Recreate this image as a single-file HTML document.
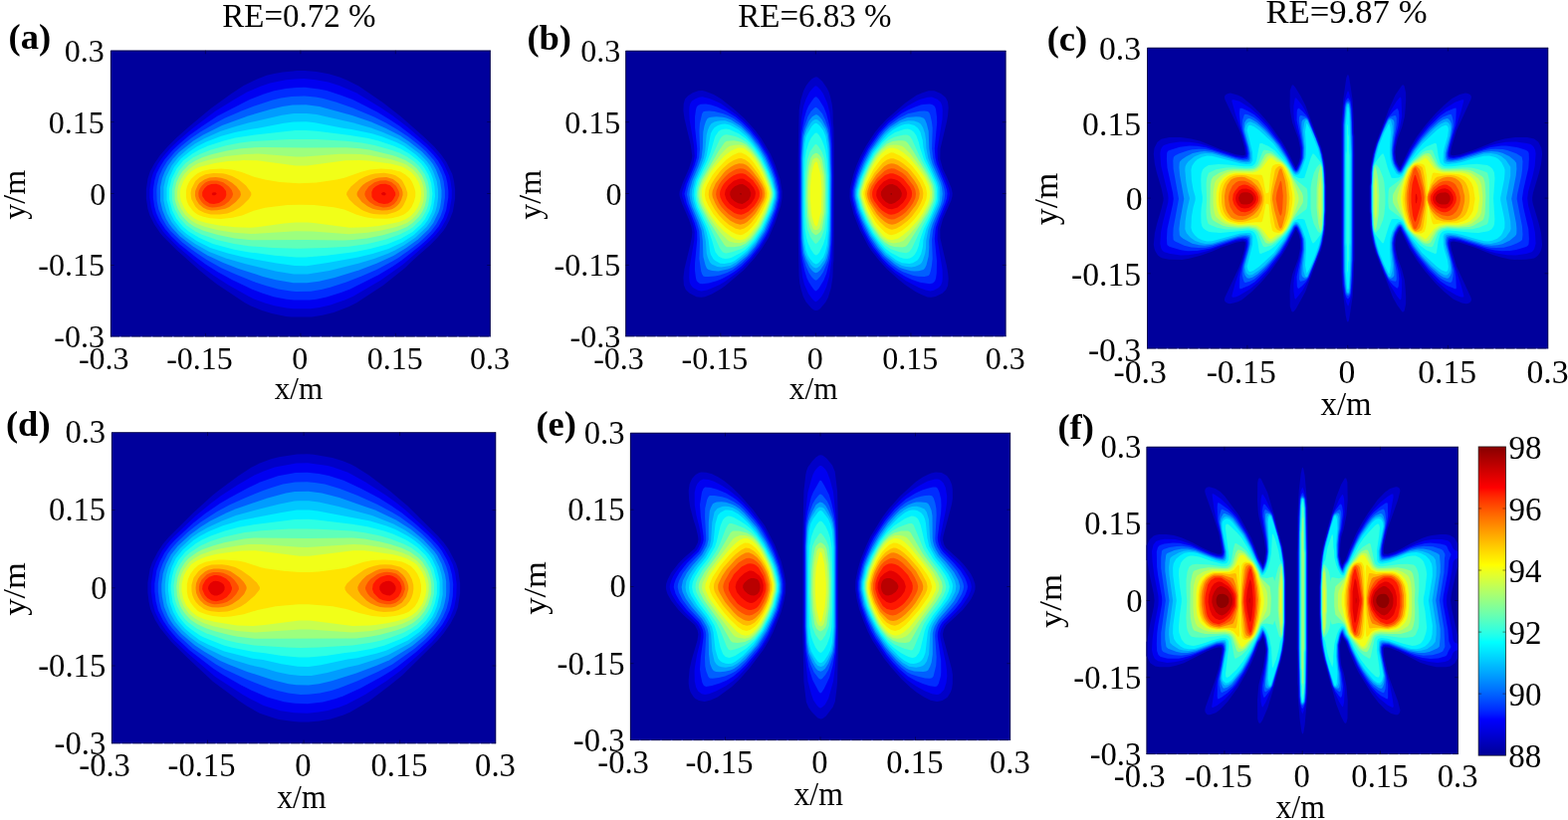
<!DOCTYPE html>
<html lang="en"><head><meta charset="utf-8"><title>Figure</title>
<style>
html,body{margin:0;padding:0;background:#fff;}
body{width:1575px;height:824px;overflow:hidden;}
svg{display:block;}
svg text{font-family:"Liberation Serif","Times New Roman",serif;fill:#000;}
</style></head><body>
<svg width="1575" height="824" viewBox="0 0 1575 824">
<rect width="1575" height="824" fill="#fff"/>
<g id="pa">
<rect x="111.00" y="50.70" width="381.70" height="287.70" fill="#00009c"/>
<path fill="#0000c8" d="M294.1,71.5 298.2,71 306.2,71 317.8,72 330.2,74.2 341.1,77.5 348.4,80.5 360.4,86.5 385.2,103.5 402.8,117.2 425.2,137 435.8,146.9 443.2,155.4 448.5,162.9 454.3,174.9 456,181.9 457.1,190.4 457.1,199.4 454.9,212.4 451.6,220.9 447.9,227.9 445.2,231.9 439.2,239 431.8,246.4 414.2,261.9 406.8,269.3 385.2,286.4 358.2,304.3 350.2,308.2 335.2,313.9 323.8,316.8 313.2,318.4 292.8,318.4 287.2,317.9 273.1,314.9 263.2,312.1 252.1,307.4 245.6,303.9 217.8,285.4 208.8,278.6 198.2,269.7 177.2,250.9 164.2,237.9 160.8,233.9 155,225.4 150.5,216.4 148.5,209.9 146.9,199.4 146.9,189.9 148.5,179.4 150.7,172.4 155,164.4 160.8,156 168.7,146.9 177.2,138.5 190.8,126.5 211.8,108.9 232.2,94.2 244.8,86.1 258.2,79.4 267.8,75.8 274.2,74.2 283.8,72.6Z"/>
<path fill="#0000f1" d="M296.5,79.5 305.2,79.1 317.2,80.3 329.8,82.5 340.8,86 357.8,93.3 382.2,108 394.8,116.6 409.8,128.1 429.9,145.4 437.5,153.4 442.4,159.4 446.2,165.5 451.2,176.4 452.7,182.9 453.8,191.4 453.7,198.9 451.3,212.4 448.2,220.5 443.4,228.9 437.4,236.4 430.2,243.6 404.8,265.8 382.2,281.8 354.8,297.7 346.8,301.2 331.8,306.4 320.8,309 311.8,310.2 294.8,310.3 287.8,309.6 275.8,307.2 266.2,304.5 255.2,300.4 248.8,297.2 229.2,286.2 214.2,276.6 200.2,266.2 179.2,248.4 167.6,236.9 163.7,232.4 157.8,223.7 153.8,215.4 151.8,208.4 150.3,198.5 150.3,190.4 152.1,179.4 154,173.4 158.2,165.4 163.3,157.9 171.2,148.7 178.8,141.4 192.8,129.5 216.2,111.8 236.1,99.5 248.2,92.6 261.8,86.7 271.2,83.4 287.2,80.3Z"/>
<path fill="#002cff" d="M297.5,88 306.2,87.8 320.2,89.4 328.2,91.1 341.8,95.4 354.2,100.1 378.8,112.6 391.2,120 401.2,126.6 416.2,137.9 428,147.9 435.2,155.4 440,161.4 444.1,168.4 447.9,177.4 449.3,183.4 450.4,191.9 450.3,198.4 448.2,210.9 445.3,218.9 440.6,227.4 435,234.4 428.1,241.4 421.8,247.1 403.2,261.8 394.8,267.5 380.2,276.3 351.8,290.5 343.2,293.8 328.2,298.5 317.8,300.7 310.8,301.5 295.2,301.6 287.8,300.8 274.8,298.2 263.2,294.6 252.2,290.3 232.8,280.9 218.8,273.3 206.8,265.7 196.2,258 180.5,245.4 172.2,237.4 165.8,229.9 160.5,221.9 156.9,213.9 155,206.9 153.8,198.4 153.8,190.4 155.2,181.4 157.2,174.6 160.8,167.4 165.2,160.4 173.3,150.9 180.8,143.9 190.2,136 202.8,126.9 218.2,116.7 250.8,99.9 265.8,94.2 275.2,91.2 287.2,89Z"/>
<path fill="#005fff" d="M292.8,97 305.8,96.5 316.8,97.5 323.8,98.8 337.2,102.6 353.8,108.2 375.8,117.5 387.2,123.3 398.8,129.9 410.2,137.5 419.8,144.9 427.8,152 435.8,161 440.2,168 443.9,175.9 445.6,181.9 446.9,191.4 446.9,198.4 445.2,209.4 442.6,216.9 438.1,225.4 432.8,232.4 426.2,239 420.8,243.9 410.2,251.9 400.2,258.9 393.8,262.8 378.2,271 363.8,277.3 347.8,283.6 333.2,288.3 323.8,290.7 312.2,292.7 297.2,292.9 292.2,292.6 279.3,290.4 266.8,287 256.2,283.5 235.2,275.1 221.8,268.9 206.8,260.6 192.2,250.6 182.8,243.2 171.2,231.9 167,226.4 162.7,218.9 159.2,209.9 157.6,201.9 157.3,191.9 157.8,185.9 160,176.9 163.4,169.4 167.6,162.4 175.5,152.9 182.8,146.3 191.8,139.1 201.8,132.3 217.8,122.9 226.2,118.6 243.2,111.2 254.8,106.7 273.8,100.5 282.2,98.5Z"/>
<path fill="#009cff" d="M294,105.5 307.2,105.2 320.8,106.9 353.8,115.9 372.8,122.5 387.2,128.8 401.8,136.3 411.2,142.5 423.9,152.4 431.5,160.4 434.9,164.9 437.9,170.4 441.9,180.9 443.5,191.4 443.5,197.9 442.9,202.9 442.1,207.9 440.6,212.9 435.3,223.9 430.4,230.4 420.2,240.3 408.2,249.1 395.2,257 378.8,264.6 361.2,271.2 336.2,278.9 320.2,282.7 308.2,284.3 294.8,284.2 277.2,281.3 264.2,277.9 238.8,269.7 224.2,264.1 208.2,256.6 193.8,247.6 180.8,237.4 172.9,228.9 169.8,224.9 166.6,219.4 163.3,211.4 161,201.9 161,187.9 163,178.9 165.3,172.9 168.8,166.4 173.8,159.5 179.8,153 194.2,141.5 204.2,135.4 223.2,125.9 249.2,116.4 272.2,109.7 283.8,106.9Z"/>
<path fill="#00c8ff" d="M295,114 308.2,113.9 317.8,115 354.2,123.3 371.8,128.2 384.2,132.7 399.8,139.5 408.2,144.5 421.5,154.4 428.8,161.9 432.1,166.4 435,171.9 438.7,181.9 440.1,191.4 440.1,198.4 439,206.4 437.6,211.4 436.3,214.9 432.5,222.4 428.5,227.9 417.2,238.7 405.8,246.5 397.2,251.3 389.8,254.7 375.8,260 360.8,264.6 330.8,271.9 308.8,275.6 295.2,275.6 276.8,272.6 245.8,265.1 233.8,261.6 226.2,259.2 210.2,253 195.9,244.9 185.8,237.7 179.1,231.4 172.3,222.9 167.9,214.4 165.7,207.4 164.4,201.4 164.4,187.9 166.8,177.9 172.4,166.4 179.1,157.9 188.8,149.6 196.2,144.2 205.2,139.3 221.2,132.1 234.2,127.7 250.2,123.3 283.2,115.7Z"/>
<path fill="#00f1ff" d="M295,122.5 307.8,122.2 316.2,123.3 345.8,128.9 353.2,129.9 373.8,134.3 384.2,137.6 398.2,142.9 405.8,146.8 417.2,154.9 425.4,162.4 429.6,167.9 432.9,174.4 434.8,179.4 436.5,187.4 437,197.4 435,209.4 433.6,213.4 429.9,220.9 426.2,226 415.8,236.1 404.3,243.4 390.3,249.9 374.2,255 359.8,258.5 329.2,264.1 307.8,267.2 296.2,267.1 277.8,264.6 245.2,258.6 228.8,254.6 211.2,249 197.8,242.2 187.2,235 181.6,229.9 174.9,221.4 171,213.9 167.5,200.9 167.5,188.9 169.9,178.4 174.9,167.9 181.8,159.3 190.8,152 197.8,147.2 207.2,142.5 222.2,136.8 235.8,133 251.2,129.9 258.2,129 285.2,123.8Z"/>
<path fill="#2cffe4" d="M296.6,130.9 306.8,130.9 318.2,131.8 351.8,135.9 370.2,139 380.2,141.6 395.8,146.7 402.8,149.8 411.2,154.6 419.2,160.7 423.1,164.4 426.2,168.5 430.5,175.9 433.1,183.9 434.4,194.4 433.3,204.9 431.2,211.9 426.7,220.4 422.7,225.4 414.5,232.9 402.8,239.7 388.8,245.4 371.8,250.1 355.8,253.2 328.2,256.7 306.8,258.6 297.2,258.6 275.8,256.7 248.8,253.2 235.2,250.7 213.8,244.9 199.8,238.8 189.8,232.8 184,227.9 177.2,219.7 173,211.4 170,199.9 170.1,189.4 172.5,179.4 177.5,169.4 184.2,161.3 192.8,154.8 200.1,150.4 209.2,146.5 224.8,141.4 236.2,138.6 252.8,135.9Z"/>
<path fill="#5fffb9" d="M290.5,139.9 317.8,140.1 347.8,141.8 363.2,143.6 376.2,146 393.2,150.8 400.8,153.6 408.8,157.5 416.2,162.6 421,166.9 426.6,174.9 429.6,181.9 431.1,188.9 431.6,196.9 430.3,205.4 428.8,209.9 426.9,213.9 424.2,218.4 421.8,221.5 414.8,228.3 411.2,230.7 401.2,235.7 387.8,240.6 376.8,243.3 368.2,245.2 350.2,247.7 326.8,249.1 299.2,249.8 273.8,248.9 249.8,247.2 235.2,245 217.8,241 202.2,235.4 195.8,232.2 187.3,226.5 180.2,218.7 175.8,210.4 174,205.4 172.8,199.9 172.8,190 175,180.9 179.9,171.4 186.2,164.1 194.2,158.3 201.8,154.4 211.2,150.8 227.2,146.2 241.2,143.6 253.2,142.1Z"/>
<path fill="#9cff7e" d="M252.7,148.4 263.8,148.1 305.8,148.6 347.8,148.2 361.8,149.2 371.2,150.6 395.8,156.4 407.2,160.9 414.2,165.4 418.8,169.4 424,176.4 427.2,183.9 428.7,191.9 428.5,199.4 426.8,207.1 424.3,212.4 420.6,217.9 414.8,223.8 408.8,227.9 399.2,232 384.8,236.2 368.8,239.4 354.8,241.1 344.8,241.4 308.2,241 252.8,241.3 235.8,239.5 227.2,237.8 218.8,236.1 204.2,231.7 195.2,227.7 189.6,223.9 183.2,217.4 178.7,209.9 176.8,205 175.6,200.4 175.4,191.4 177.1,183.4 180.1,176.9 183.4,171.9 189.8,165.5 196.2,161.4 203.2,158.3 212.2,155.3 227.8,151.5 242.2,149.3Z"/>
<path fill="#c8ff4e" d="M246.3,154.9 259.2,154.6 297.2,157.5 305.2,157.5 341.2,154.8 350.8,154.7 361.8,155.1 371.2,156.1 393.2,160.3 404.8,163.9 408.2,165.5 415.2,170.4 420,175.9 423.2,181.5 425.4,187.9 426,195.9 425.2,202.4 422.8,208.9 419,214.9 414.2,219.9 408.8,223.9 401.8,226.8 396.2,228.5 382.2,231.7 369.2,233.8 350.2,235.2 313.8,232.5 297.2,232.2 252.2,235.1 234.8,233.8 219.2,231.2 206.2,228 197.8,224.9 192.6,221.9 185.8,215.7 181.8,209.4 178.6,201.4 178.1,198.4 178.1,192.4 179.1,186.4 182.1,179.4 185.4,174.4 189.8,170 193.8,166.9 199.2,164.1 211.2,160.3 226.8,157Z"/>
<path fill="#f1ff18" d="M240.1,161.4 243.8,161.1 258.2,161.2 297.2,166.5 308.2,166.5 347.2,161.2 360.8,161.1 370.2,161.5 392.2,164.6 403.2,167.3 406,168.4 413,172.9 417,177.4 420.2,182.5 422.4,188.4 423.1,193.9 422.5,200.9 419.8,208 416.4,212.9 412.6,216.9 407.2,220.6 400.8,223 395.2,224.3 380.8,226.9 368.2,228.3 351.2,228.8 314.8,223.9 308.8,223.4 296.8,223.4 285.2,224.4 258.2,228.2 250.8,228.8 236.2,228.3 220.2,226.4 207.2,223.9 199.2,221.4 194.8,219.2 188.2,213.7 184.8,208.4 181.8,201.9 180.9,196.9 181,191.9 181.5,188.9 184.2,181.9 187.8,176.7 191.2,173.1 195.6,169.9 199.8,167.9 215.8,164 228.8,162Z"/>
<path fill="#ffe400" d="M214.6,169.9 222.2,169.6 233.2,170.6 242.8,173.1 255.2,177.8 266.2,180.6 281.2,182.9 300.2,184.2 317.8,183.4 338.2,180.5 345.8,178.8 362.8,172.7 371.2,170.5 382.8,169.5 393.2,170.2 402.2,172.6 407.2,175.4 411.8,179.5 414.2,183.5 416.2,188.4 417.3,192.9 417.2,197.4 415.9,202.4 413.4,207.9 410.3,211.9 407.3,214.4 404.8,215.9 399.8,217.8 393.2,219.2 387.8,219.8 375.8,219.5 367.2,218.2 358.2,215.7 345.8,210.6 335.2,208.3 315.2,205.9 300.8,205.7 288.8,205.9 266.2,208.8 254.8,211.7 243.2,216.6 233.2,218.8 221.8,219.9 211.2,219.3 204.2,217.8 199.2,216 196.1,213.9 193.5,211.4 189.7,206.4 187.8,202.4 186.9,197.9 186.9,191.9 187.8,187.4 189.9,182.9 191.9,179.9 195.8,176.2 198.9,173.9 203.8,171.8 210.8,170.3Z"/>
<path fill="#ffb900" d="M214.3,174 223.8,174.3 227.2,174.9 233.2,177.1 240.2,180.7 247.1,186.4 252.2,193.4 252.4,195.9 250,199.9 244.2,205.8 240.8,208.5 234.2,212.3 228.2,214.5 220.8,215.6 211.8,215.5 205.2,213.8 199.7,210.9 196.2,207.4 192.2,199.9 191.5,193.9 192.4,189.4 196.2,181.9 200.8,178.1 206.2,175.3ZM382.6,173.9 385.8,173.8 393.2,175 397.2,176.3 400.2,178.2 403.2,180.6 404.6,182.4 407.4,187.9 409.2,193.4 409.2,196.4 408,200.4 405.4,205.9 403.7,208.4 401,210.9 397.2,213.1 388.8,215.5 381.2,215.6 375.2,215 371.8,214.3 365.6,211.9 362.8,210.4 355.9,205.4 350.9,200.4 348,195.4 348.5,192.9 352.5,187.4 360.8,180.4 366.8,177.4 372.2,175.4 376.2,174.4Z"/>
<path fill="#ff7e00" d="M210.4,178.4 216.8,178 222.2,178.7 227.8,180.6 233.2,183.8 237.6,187.4 241.4,192.4 242,195.4 241.1,197.9 236.8,203.1 230.2,207.9 226.2,209.8 218.2,211.3 212.2,211.4 207.8,210.6 204.2,208.8 199.8,204.9 197,200.4 195.9,196.4 196.1,191.9 198.5,186.4 200.2,184.1 205.2,180.4ZM380.4,178.4 388.2,178.1 394.8,180.1 400.5,184.4 403.7,189.9 404.5,192.9 404.6,195.9 403,200.9 401.2,204.2 399.2,206.4 396.8,208.5 393.8,210.2 389.2,211.3 383.8,211.4 378.2,210.8 374.2,209.7 369.2,207.2 363.5,202.9 358.9,196.9 358.5,194.9 358.9,192.9 362,188.4 364.2,186.1 367.7,183.4 373.8,180.4 377.8,178.9Z"/>
<path fill="#ff4e00" d="M211.8,181.4 218.2,181.4 224.2,183.2 230,187.4 232.8,190.9 234.1,194.9 233.2,197.9 229.8,202.4 225.2,205.9 221.2,207.4 216.8,208.3 213.2,208.4 210.2,208 207.6,206.9 204.6,204.9 202.6,202.9 200.6,199.9 199.5,197.4 199.3,193.9 199.8,191.4 201.2,188.7 202.9,186.4 206.2,183.6 208.8,182.3ZM381.8,181.4 387.8,181.3 393.2,183 397.8,186.8 400.6,191.9 401.2,194.4 401.1,196.4 398.8,201.4 395.9,204.9 391.8,207.5 388.2,208.3 384.8,208.4 376.8,206.6 371.1,202.9 368.4,199.9 366.8,196.9 366.3,194.9 366.9,192.4 370.3,187.4 376.2,183.2Z"/>
<path fill="#ff1800" d="M212.3,184.9 217.2,184.7 221,185.9 224,187.9 227,191.9 227.3,195.9 226.3,198.9 223.2,202.1 219.9,203.9 214.8,205.1 210.7,204.4 206.2,201.4 203.2,197 203.2,192.9 205.2,189.6 208.3,186.4ZM382,184.9 387.2,184.8 391.8,186.2 394.6,188.9 397.1,193.4 397.3,195.9 395.2,200 393.2,202.4 389.8,204.4 385.8,205.1 380.6,203.9 375.7,200.9 373.5,197.9 373.3,192.9 374.8,189.5 377.8,186.9Z"/>
<path fill="#e40000" d="M213.6,193.4 216.2,193.3 217.3,193.9 217.6,194.9 215.8,196.3 213.8,196.3 212.6,194.9ZM384,193.4 385.2,193.1 386.8,193.5 387.7,194.4 387.6,195.4 386.2,196.5 383.9,195.9 382.9,194.4Z"/>
<path d="M111.30 338.40V51.00H492.70" fill="none" stroke="#000028" stroke-opacity="0.75" stroke-width="0.9"/>
<path d="M492.40 50.70V338.40" fill="none" stroke="#000028" stroke-opacity="0.7" stroke-width="0.9"/>
<path d="M111.00 338.10H492.70" fill="none" stroke="#000028" stroke-opacity="0.65" stroke-width="0.9" stroke-dasharray="9 1.6"/>
<path d="M206.4 50.7v3.5M206.4 338.4v-3.5M111.0 266.5h3.5M492.7 266.5h-3.5M301.9 50.7v3.5M301.9 338.4v-3.5M111.0 194.5h3.5M492.7 194.5h-3.5M397.3 50.7v3.5M397.3 338.4v-3.5M111.0 122.6h3.5M492.7 122.6h-3.5" fill="none" stroke="#000020" stroke-opacity="0.6" stroke-width="0.8"/>
<text x="54.22" y="349.41" font-size="32.00">-0.3</text>
<text x="78.88" y="370.50" font-size="32.00">-0.3</text>
<text x="38.22" y="277.49" font-size="32.00">-0.15</text>
<text x="167.20" y="370.50" font-size="32.00">-0.15</text>
<text x="90.15" y="205.69" font-size="32.00">0</text>
<text x="293.25" y="370.50" font-size="32.00">0</text>
<text x="48.85" y="133.64" font-size="32.00">0.15</text>
<text x="368.67" y="370.50" font-size="32.00">0.15</text>
<text x="64.85" y="61.71" font-size="32.00">0.3</text>
<text x="472.10" y="370.50" font-size="32.00">0.3</text>
<text transform="translate(275.77 401.20) scale(0.9750 1.0000)" font-size="32.00">x/m</text>
<text transform="translate(24.50 220.71) rotate(-90)" font-size="32.00">y/m</text>
<text x="223.24" y="27.20" font-size="33.00">RE=0.72 %</text>
<text x="8.57" y="49.00" font-size="36.50" font-weight="bold">(a)</text>
</g>
<g id="pb">
<rect x="628.30" y="50.90" width="382.10" height="287.30" fill="#00009c"/>
<path fill="#0000c8" d="M818.1,77.7 820,77.3 821.5,77.8 826,81.8 830.5,88.2 832.5,92.2 833.9,96.7 835.7,104.7 836.5,111.7 836.8,123.2 837.4,128.2 837.8,149.7 837.7,240.7 837.4,261.6 836.8,266.6 836.4,278.6 834.7,289.6 831.8,299.1 829.4,303.6 824,309.9 822,311.4 820,312 818,311.7 815.3,310.1 809.7,303.6 806.8,298.1 804.7,291.1 803.3,284.6 802.6,278.1 801.8,240.2 801.7,157.7 802.7,110.7 804.4,100.2 807.1,91.2 809.5,86.4 812.2,82.7 815.5,79.3ZM701.4,91.2 705.5,91.1 708.5,91.7 717,95.1 724.5,99.4 736.5,109 747.5,118.7 758.4,130.7 764.7,139.2 773.9,154.7 778.8,166.2 783.4,179.7 785.6,192.2 785.5,199.2 784.3,206.2 778.8,223.2 771.8,239.2 765,250.1 757.8,259.6 747.5,271 729,286.8 724.5,290 715,295.5 708,298.2 704.5,298.8 699.5,298.2 692.4,294.6 688.8,291.1 686.9,286.6 686.4,279.1 687.4,270.6 693.3,246.2 694.8,238.7 695.3,233.2 694.5,228.1 692,220.4 685.3,205.2 682.8,197.7 682.4,195.2 682.7,192.2 685.7,183.7 692,169.4 694.5,161.7 695.3,156.7 693.8,145.7 687.4,118.7 686.4,111.2 686.7,104.2 688.1,99.6 691.1,96.2 695.8,93.2ZM932.7,91.2 938.5,91.3 945,94 949.9,98.1 952,102.2 952.7,108.2 952.1,115.7 951,122.2 944.5,149.5 944.3,159.7 947,169.5 951.2,178.2 955.7,189.2 956.7,194.2 956.5,197.2 955.3,201.7 947,220.3 944.3,230.2 944.4,239.2 951,267.6 952.1,274.1 952.7,280.1 952.1,287.1 950.3,291.1 946.5,294.8 939.7,298.1 935.5,298.8 931.5,298.4 925.5,296 919.5,292.9 909,285.9 902.5,280.8 891,270.5 883.2,262.1 875.1,251.7 871.9,246.7 863.7,231.2 857.4,215.2 853.8,200.7 853.5,197.7 853.8,189.2 857.2,175.2 860.3,166.2 864.2,157.2 869.8,146.7 878.6,133.2 883.1,127.7 890.5,119.7 909,103.7 920.5,95.8 926.5,93.2Z"/>
<path fill="#0000f1" d="M818.3,86.7 819.5,86.2 821,86.9 824,90.1 826.9,94.2 831,103.6 833.2,112.2 835.4,127.7 835.8,134.2 836.6,173.7 836.5,232.2 835.4,262.1 833.1,277.6 830.2,288.1 827.3,294.6 825,298.2 821.5,302.1 819.5,303.2 818,302.5 815.6,300.1 812,295.1 808,285.9 806,278.2 803.7,255.2 803,231.2 803.1,149.7 803.7,134.7 805.2,117.7 807.1,106.7 809.5,99.7 813,92.8 815.8,89.2ZM702.1,97.7 705.5,97.3 712.5,99 717.5,100.9 724,104.1 740,115.4 748,122.4 754,128.7 762.3,139.2 772,155.2 777.2,167.2 781.3,179.2 782.7,184.7 783.9,192.7 783.8,199.2 782,208.2 777.2,222.2 772.2,234.2 763.6,248.7 755.2,259.6 746,269.2 739.5,274.8 728,283 722.5,286.2 714,290.1 710,291.4 704.5,292.5 701,291.7 696,289 693.9,286.6 692.7,283.6 692.3,279.1 692.6,269.1 697.4,240.7 697.8,233.2 696.4,226.2 694,219.2 687.7,204.7 685.3,197.2 685,194.7 685.3,192.7 688.1,184.2 694,170.7 696.4,163.7 697.8,156.7 697,146 692.6,120.2 692.3,111.2 692.6,106.7 693.5,103.7 695,101.6 698.5,99.2ZM931.8,97.7 936,97.4 941.5,99.7 944.9,102.7 946.3,106.2 946.8,110.7 946.6,119.2 941.6,149.7 941.9,160.2 944.9,170.2 949.2,179.2 953,189.2 954.1,194.7 952.9,201.2 944.8,220.2 942.4,227.2 941.9,230.2 941.6,240.2 946.6,271.1 946.8,279.1 946.4,283.1 945.2,286.6 943,289 938,291.7 934.5,292.5 930,291.6 923,289.1 910,282.2 898.5,273.9 890.5,266.9 884.7,260.6 876.9,250.7 873.3,245.2 865.3,230.2 859,214.2 855.5,200.2 855.2,197.2 855.2,191.2 856.4,185.7 859,175.7 862.1,166.7 865.8,158.2 871.1,148.2 881.3,133.2 891,122.4 904.5,111.2 911.5,106.4 920.5,101.5 924.5,99.7Z"/>
<path fill="#002cff" d="M819.5,97.2 820.7,97.7 822.5,99.8 827.5,107.7 830.1,114.2 833.7,128.2 835.2,144.2 835.8,177.7 835.4,240.2 833.9,260.1 830.1,275.1 827.5,281.6 822.5,289.7 820.9,291.6 819.5,292.4 818,291.5 815.5,288.3 812.5,283.6 810.5,279.5 808.3,272.6 806,262.1 804.7,253.2 804,240.2 803.8,201.2 803.8,158.2 804.2,143.7 805.2,132.7 807.7,119.2 810,111.2 812,106.7 814.5,102.7 818,98ZM703.7,104.7 709,104.6 714.5,105.6 720.5,107.5 729,111.4 739,117.6 746.5,123.7 752.5,129.7 761,140.3 770.8,156.2 776,168.2 779.8,178.7 781.9,187.2 782.7,193.2 782.5,199.2 780.4,208.7 775.9,221.7 771.2,232.7 768.6,237.7 762.3,247.7 754,258.3 744.5,267.8 738.4,272.6 732.5,276.3 725,280.2 720,282.2 712,284.4 705.5,285.3 703,284.9 700.9,283.6 699.7,282.1 698.9,279.1 697.9,271.1 698,264.6 700.3,240.7 700.1,232.7 697.8,224.2 689.8,204.2 687.5,194.7 689.9,185.2 697.6,166.2 699.9,158.2 700.3,149.2 698.1,128.2 698,117.7 698.9,110.7 699.7,107.7 701,106ZM930,104.7 934,104.4 936.8,105.2 939,107 940,109.7 941,117.2 941.2,123.2 938.8,149.2 939.5,158.2 940.8,164.2 949.7,186.2 951.1,190.7 951.6,194.7 951.1,199.2 949.5,204.2 943.2,219.2 939.9,228.7 938.8,239.7 941,262.1 940.8,274.6 940.1,279.6 939.1,282.6 937,284.5 934,285.3 924,283.7 916,280.9 909.5,277.9 899.5,271.7 892.5,266 886,259.5 876.9,247.7 872.2,240.2 867,230.2 860.2,213.7 856.8,200.2 856.4,197.2 856.5,191.2 857.7,185.7 860.4,175.7 863.5,167.2 867.3,158.7 872.3,149.2 883.1,133.7 892.5,123.7 905.5,114 912.5,110.2 919,107.5 925.5,105.3Z"/>
<path fill="#005fff" d="M819.5,107.7 821.5,108.9 826,114.2 828.9,120.2 832.4,130.2 834.2,144.2 835.1,177.2 834.8,231.7 834.2,245.7 833.3,254.7 831.9,261.7 827,273.3 824,277.8 821,280.9 819.5,281.7 818,281 815.5,278.4 812.5,274.2 809.5,267.4 806.5,257 805.6,250.7 804.8,240.2 804.5,208.7 804.6,158.7 805.9,136.2 807.8,127.7 811.5,117.1 814.5,112 818,108.4ZM708.5,111.7 712.5,111.4 717.5,111.9 726.5,114.2 731,115.9 737,119.1 744.5,124.6 753.7,133.7 762.8,145.7 769.6,157.2 775.3,170.2 778.4,178.7 780.7,187.7 781.5,193.2 781.3,199.2 778.8,209.7 771.2,229.2 768.5,234.6 763,243.7 754.5,255.1 745,264.6 736,271.3 730.5,273.9 723,276.5 718,277.6 711.5,278 708,277.9 706.5,277.4 705.2,275.6 704.2,272.6 702.4,260.1 703,241.7 702.3,232.2 699.8,223.7 692,204.2 689.9,195.2 690.9,189.7 693.2,181.7 699.6,166.6 702.2,158.2 703,149.7 702.4,131.7 702.9,124.2 705.2,114.2 706.5,112.3ZM923.6,111.7 928.5,111.4 932,112 933.4,113.2 934.3,115.2 935.9,122.2 936.7,128.7 936.1,149.2 937.2,158.7 938.8,164.7 946.6,183.2 948.5,189.7 949.2,194.2 948.8,198.7 947.6,203.7 938.8,225.2 937.2,231.2 936.1,240.7 936.7,259.6 935.9,267.1 934.8,272.6 933.8,275.6 932.7,277.1 928.5,277.9 922.5,277.7 917.5,276.9 907,273.2 902,270.5 896,266.3 886.5,257.4 879.6,248.7 874.5,241.1 868.1,229.2 861.3,212.7 857.6,197.2 857.6,191.7 858.8,186.2 860.8,178.7 864.2,169.2 868.4,159.7 872.9,151.2 883,136.7 887.5,131.2 892.7,126.2 902.5,118.9 912,114.3Z"/>
<path fill="#009cff" d="M819.3,115.2 820.5,115.3 822.5,116.6 825.7,120.2 830.2,128.7 831.8,134.2 833.6,149.7 834.4,176.7 834,231.2 833.3,245.2 832.5,251.7 830.8,259.6 828.5,264.4 824,271.3 821.5,273.4 819.5,274.2 818,273.7 816,272.3 813,268.6 809.4,261.1 807.2,254.2 805.6,239.6 805.2,214.7 805.3,158.7 806.7,138.2 809,129.7 812.5,121.6 815.9,117.2ZM920,117.2 924.5,117.6 927.8,118.7 929.1,120.2 930.8,124.2 932.7,131.7 933.3,149.2 934.8,158.7 936.8,165.2 944.6,183.2 946,188.2 946.8,194.7 946.1,201.2 944.7,206.2 936.8,224.7 934.8,231.2 933.2,242.2 933.3,248.7 932.7,257.6 930.5,266.4 929,269.6 927.5,271 923,272.2 918.5,272.6 915,272.2 908.5,270.6 904,268.9 899,265.8 888.5,257 881.7,248.7 873.6,236.7 865.8,220.7 861.3,208.7 858.9,198.7 858.7,193.7 859,190.7 861.6,180.2 867.7,164.7 874.3,151.7 884.4,137.7 889,132.2 894,127.5 903.5,121.2 911,118.1ZM714.2,117.7 719.5,117.2 726,117.7 729.5,118.5 734.5,120.5 744.5,127.1 753.2,135.7 761.6,146.7 768.5,158.2 774.5,171.7 777.3,179.2 780.4,192.7 780.3,197.7 779.8,200.7 777.4,210.2 775.3,215.7 768,232.4 758.7,247.2 750.5,257 739.5,266.3 735.5,268.8 731,270.5 721.5,272.5 715.5,272.1 711.7,271.1 710,269.7 708.6,266.6 706.4,258.1 705.9,242.2 704.6,231.7 701.5,222.7 695.2,207.7 693.4,201.7 692.4,195.7 692.9,190.7 695.3,181.7 701.5,167.2 704.6,158.2 705.8,148.7 706.3,132.7 707.5,126.4 709,122.1 710.5,119.3 712,118.3Z"/>
<path fill="#00c8ff" d="M818.3,120.2 820,120 821.5,120.5 824.5,123.3 828.7,129.7 830.7,135.2 832.2,143.7 832.7,150.2 833.6,175.2 833.6,215.2 833.2,231.7 832,246.9 830.5,254.8 828.5,260.4 823.5,267.2 821.5,268.8 819.5,269.4 817,268.5 814.5,266 810.9,260.1 809,255.7 807,245.7 806,229.7 806,159.7 807,144.2 808.2,136.7 810.5,130.3 814.5,123.3 816.5,121.2ZM912.1,121.2 918,121.5 922.5,122.9 925,124.7 927.1,128.2 929.1,134.2 930.1,141.2 930.4,148.7 932.3,158.7 935.1,166.2 942.8,183.7 944,188.2 944.4,194.2 944,201.2 942.9,205.7 935,223.7 932.3,231.2 930.2,242.2 930.1,248.7 929.2,254.7 927,261.6 925.8,264.1 924,265.8 919.5,267.8 915.5,268.5 910,268 906,267 899.5,263.6 889.5,255.5 883,247.7 875,236.2 868.8,224.2 862.6,209.2 860.1,199.2 859.8,196.2 860.1,190.7 862.5,181.2 864.2,176.2 869.2,164.7 876,151.6 888,135.8 895,129.2 905,123.1ZM720.6,121.7 724,121.2 728.5,121.3 736,124 744.5,129.6 751,135.8 755.5,141 764.1,153.2 768.9,162.2 776.1,179.7 779.3,193.2 779.1,198.7 775.7,211.2 767.4,230.7 759.4,243.7 750.5,254.5 739.6,263.6 733.5,267 724.5,268.5 720.5,267.9 714.8,265.6 713,263.6 711,259.1 709.8,254.7 708.9,242.2 706.7,230.7 703.3,221.7 697.4,208.2 695.5,201.7 694.7,195.7 695.1,190.7 697.5,181.2 703.3,168.2 706.8,158.7 708.3,151.2 709.7,135.7 710.8,131.2 712.5,127 714.5,124.2 717.5,122.5Z"/>
<path fill="#00f1ff" d="M818.1,124.2 819.5,123.7 820.5,123.9 823,125.9 827,131.2 829.4,137.2 831.5,150.6 832.8,176.2 832.8,214.7 832.1,231.2 830.9,245.2 829,253.4 827,258.6 822.5,264 821,265.1 819.5,265.6 816.8,264.1 813.5,260.1 811.5,256.7 809.5,251.4 807.6,239.2 806.8,217.2 807,160.2 808.2,145.2 809.5,137.9 810.5,135.2 815.5,126.7ZM725.1,124.7 728.5,124.4 733,125.4 741.8,130.2 750,137.2 756,144.2 762,152.5 765.4,158.2 772.2,172.7 775.4,181.2 778,190.7 778.4,194.2 778.2,197.7 777.3,201.7 775.1,209.7 772.7,215.7 766.2,230.2 758.7,242.2 750.5,252.1 743,258.3 738,261.9 734.5,263.8 727.5,265.1 723.5,264.7 718.5,262.1 716.5,260.3 714,255.9 713.1,252.7 711.7,241.7 709.7,233.2 707.9,227.7 699.4,208.7 697.4,201.7 696.6,196.2 697.2,189.2 699.2,181.2 707.9,162.2 709.8,156.2 713.9,134.2 715.7,130.7 717.6,128.2 721,125.9ZM909.2,124.7 913,124.4 918.5,126.1 922,128.7 924.5,132.7 926.8,141.2 927.4,147.7 930.1,159.2 940.8,183.2 942.2,188.2 942.4,191.2 942.4,200.2 941.5,204.2 930.3,230.2 927.4,241.6 927,247.7 925.2,255.2 923,259.6 921.5,261.5 917,264.3 913.5,265.1 906,264.2 900,261.2 890.2,253.7 883,245.2 876,235.3 869.9,223.7 863.8,209.2 860.7,196.2 861,191.2 864,180.2 869.8,166.2 876.6,153.2 885,142.2 891.7,134.7 896.5,130.7 900.5,128.3 905.8,125.7Z"/>
<path fill="#2cffe4" d="M727,129.7 729.5,129.5 732.5,130.1 742,134.2 749.1,139.2 753,143.1 757.5,148.6 764.5,159.2 771.5,173.7 774.5,181.9 777,190.7 777.5,194.2 777.3,197.7 776.3,201.7 774.1,209.2 771.7,215.2 765.3,229.2 757.5,241.2 752,247.7 748,251.4 744.5,253.8 734.5,259 731.5,259.8 728.5,260.1 725.5,259.6 722,257.7 718.5,253.2 714.9,240.7 710.6,228.7 700.7,207.7 698.9,201.2 698.2,195.7 698.8,189.2 700.6,182.2 710.6,161.2 713.6,153.2 718.2,137.2 721.6,132.2 724,130.6ZM908.7,129.7 912,129.6 915.5,130.8 918,132.7 920.4,136.2 922.8,142.7 924.2,148.7 928,160.2 935,174.2 939.4,184.2 940.6,188.7 940.9,192.2 940.8,200.2 939.5,205.1 935.5,214.7 928,229.7 924.2,240.7 922.9,246.7 920.9,252.2 918.6,256.1 917,257.8 914,259.6 911,260 907.5,259.7 903.5,258.5 895,254.1 889,249.4 882.5,242.1 876.9,234.2 870.7,222.7 864.6,208.2 862,198.7 861.6,195.7 862,190.9 864.5,181.7 866.4,176.7 871.1,166.2 877.9,153.7 886,143.5 892.5,137.2 899,133.1ZM818.7,133.7 820.5,133.5 822.5,135.4 825,139.6 827.9,146.7 829.2,151.7 830.5,159.2 831.8,177.7 831.7,213.2 830.4,231.2 829.1,238.7 827,245.4 823,253.7 821.5,255.6 820,256.5 819,256.3 817.6,255.2 814.5,250.7 811.6,244.2 810,238.7 808.5,229.2 807.7,201.7 807.9,175.2 808.7,158.7 810,151.1 812.5,143.1 814.9,138.2Z"/>
<path fill="#5fffb9" d="M727.3,135.7 729.5,135.3 734,135.9 738.5,137.1 744,139.2 750.2,143.2 756,149.3 760.5,155.2 763.5,160.1 769.8,172.7 773.5,182.2 775.9,190.2 776.5,194.2 776.4,197.2 775.3,201.7 770.5,215.1 764.4,228.2 756.5,239.9 751,245.9 745.5,249.7 735.5,253.3 729.5,254.4 727.5,254 725.9,253.2 723,249.5 712.8,227.7 703,209 700.7,202.2 699.8,195.7 700.6,188.2 703.2,180.2 712.8,162.2 723,140.1 725.1,137.2ZM906.7,135.7 910,135.4 912,135.7 914,137.1 915.9,139.7 925.7,161.2 933.3,174.7 936.1,180.7 938.3,186.2 939.3,192.2 939.3,198.7 938.7,202.2 934.2,213.2 925.7,228.7 916,249.5 913,253.3 910,254.3 903.5,253.3 894.5,250.2 889,246.4 883.5,240.8 878,233.4 871.8,222.2 865.6,207.7 863,198.7 862.6,195.7 863,191.2 865.5,182.2 867.5,176.9 872.4,166.2 879,154.7 886.5,145.7 891,141.7 894.5,139.5 899,137.5ZM818.6,145.2 820,144.9 822,147 825.5,152.3 827.9,158.7 830.2,175.7 830.5,189.7 830.3,213.2 828.1,230.2 825.2,238.2 821.5,243.5 819.5,245 818,244.1 814,238.3 811.2,230.7 809.5,217.7 808.9,200.7 809.3,175.7 811,160.2 813.7,152.2Z"/>
<path fill="#9cff7e" d="M902.4,141.2 906.5,141.2 909.5,141.8 911,142.9 912.5,144.8 917.5,152.3 932,176.2 936.4,185.7 937.7,192.2 937.7,198.2 936.9,202.2 932,213.4 911.5,246.1 909.5,247.8 906.5,248.4 898.5,247.9 894,246.7 888.5,243.3 883.5,238.3 875.4,226.7 869.8,215.2 866.3,206.2 863.6,195.6 863.9,191.7 867.9,179.2 873,167.5 879.5,156.3 885,149.7 890.5,144.7 896.5,142.1ZM730,141.7 737,141.3 741.5,141.9 745,142.9 749.5,145.3 755.5,151.2 762.5,161 768.3,172.2 772.5,182.7 774.8,189.7 775.5,193.7 775.4,197.2 774.4,201.2 769.9,213.7 763.8,226.7 758.4,234.7 754.5,239.7 749,244.7 743.5,247.3 737,248.2 730.4,248.2 729,247.6 727.5,245.9 712.5,222.7 705.5,210.1 702.8,203.7 701.4,197.2 701.4,192.7 702.1,188.7 705.2,180.2 722,151.5 728,143ZM819.2,153.7 821,154.1 823.5,156.3 825,158.5 825.8,160.7 828.6,176.2 829,190.2 828.7,212.7 826,228.2 825.4,230.7 824,232.9 821.5,235.3 819.5,236.2 818,235.6 815.5,233.3 813.4,228.7 811.2,217.2 810.3,199.7 810.6,181.7 812.1,167.2 814.5,158.2 816.5,155.4Z"/>
<path fill="#c8ff4e" d="M737.7,145.7 742.5,145.4 746,146 748,146.8 753.5,151.4 758.4,157.2 762.6,163.7 767.4,173.2 773,187.4 774.5,193.7 774,198.7 771.2,207.2 768.4,214.2 762,227 755,236.6 752.5,239.3 748,242.8 743,244.3 738,244 732.5,242.5 730.5,241.1 724.5,234.7 718.1,226.7 711.5,217.1 705.3,205.7 703.9,201.7 703,196.7 703.1,191.7 704.6,185.7 707,180.5 714,168.8 723.5,155.8 729.5,149.3 732.5,147.1ZM894.7,145.7 900.5,145.4 906,146.8 908.5,148.4 914.2,154.2 923.9,167.2 930.2,176.7 935,186.7 936.1,193.2 935.9,199.2 933.5,206.2 928,216.4 920.2,227.7 914,235.3 907.5,241.9 903.5,243.5 897.5,244.4 892.5,243.3 887.5,240.1 884.2,236.7 877.5,227.6 869.2,210.7 865,198.4 864.6,195.2 864.8,192.2 867.9,182.2 872,172.4 877,162.9 880.7,157.2 886,151 891,146.9ZM818.8,158.7 820.5,158.6 822,159.4 823.1,160.7 823.9,162.7 827,177.2 827.5,190.2 826.8,214.2 823.4,228.7 822,230.4 819.5,231.3 818,230.9 816.5,229.5 814,222.1 812.6,213.7 811.7,200.2 811.7,188.7 813.1,172.2 816,161.2 817.1,159.7Z"/>
<path fill="#f1ff18" d="M741.1,148.6 745,148.4 747.5,149.3 753,153.6 757.5,158.9 761.5,165 766,173.4 772,188 773.4,194.2 772.5,200.2 769,209.3 761,225.6 752,237.1 748,240.2 744,241.3 739.5,240.4 734.5,238.1 727,232.2 720.5,225.5 714,217.1 708,206.9 705.9,201.7 704.8,196.2 705,191.3 706.5,185.9 713,174.2 717,168.6 727.5,156.7 734.5,151.5ZM892.9,148.7 897,148.4 901.5,149.7 907,153.1 913.5,158.6 921.7,168.2 928.5,177.8 933,187 934.3,193.7 934,198.6 931.9,205.2 926.5,214.9 921.5,221.9 913,231.2 906.5,236.7 901.9,239.7 896,241.3 891.5,240.2 887.2,237.2 878.1,225.7 870.5,210.6 866.2,198.2 865.7,195.2 866,192.2 869,182.7 873.5,172.4 877.5,165.1 881.5,159 885.5,154.2 890.3,150.2ZM819.3,162.7 820.2,162.7 821.1,163.7 824.5,176.4 825.4,191.2 824.8,212.2 821.3,225.7 820.5,227 819.5,227.3 818,225.5 815.5,217.5 814.8,212.7 813.8,199.2 813.8,189.2 815,175.1 816.5,168.4 818.1,164.2Z"/>
<path fill="#ffe400" d="M741.7,153.6 745,153.5 749.5,155.8 754,159.6 757,163.2 762.5,171.3 766.5,178.9 770.6,188.2 771.9,194.2 771.4,198.7 769.5,203.9 765.5,212.7 759.5,223.1 755,228.7 751,232.7 746.5,235.6 744,236.3 739.5,235.3 735,232.9 729,228.7 723,222.9 716.6,215.2 711.3,206.2 708.8,200.7 707.9,195.7 708.6,189.7 710.7,184.7 715.5,176.3 720.1,170.2 729.5,160.4 736,156.1ZM893.7,153.7 895.5,153.3 897.5,153.6 904,156.6 910,160.8 916,166.6 921.8,173.7 926.5,180.8 930,188.2 931.2,194.7 930.4,200.2 928.2,205.7 923.9,213.2 918.5,220.2 912,226.9 906,231.7 900,235.1 895.5,236.3 892.9,235.7 889,233.5 884.5,229.1 879.9,223.7 875.5,216.5 872,209.6 869.3,203.2 867.2,195.2 867.4,192.7 870.1,184.2 877.6,169.7 885,159.8 889,156.2Z"/>
<path fill="#ffb900" d="M741.8,159.2 744.5,159.1 748.5,160.6 752,162.9 754.7,165.7 761,174.1 765.3,181.2 768.9,188.7 770,194.2 769.7,198.2 768.1,202.7 762,214 758.5,219.1 754.5,224 751,227.3 747.5,229.5 743.5,230.8 739,229.7 732.1,225.7 727.4,221.7 722.2,216.2 718.1,210.7 714.7,204.7 712.3,199.2 711.7,195.7 712.1,191.2 714.5,185.1 717.7,179.7 723.3,172.2 726.6,168.7 732,164.1 737,161ZM894.7,159.2 897.5,159.2 903,161.4 907.5,164.4 914,170 920,177.6 924,183.8 926.6,189.7 927.4,194.2 927,198.7 924.9,204.2 921.5,210 915.8,217.7 911.5,221.9 905,227.1 900,229.7 896,230.8 893,230.1 889.5,228.2 884,223.3 881,219.8 877.4,214.7 872,204.9 869.9,199.2 869.1,195.2 869.4,192.2 871.7,185.2 878.3,173.7 886.5,163.7 891,160.6Z"/>
<path fill="#ff7e00" d="M742.3,164.2 746.5,164.5 749.5,165.7 751.5,167.2 756,172.1 761.5,179.2 765.2,185.2 767.3,189.7 768.1,194.2 767.9,197.7 766.7,201.2 763.5,207.1 759,214.2 755.5,218.2 750.5,223 747.5,224.8 743.5,225.7 739,224.6 734,221.9 729.5,218.3 724.5,213.3 720.9,208.7 718.7,204.7 715.8,198.2 715.3,195.2 715.7,191.7 718.9,184.2 726.5,174.2 729,171.6 734,167.8 738,165.6ZM895.2,164.2 898,164.4 901.6,165.7 911.5,172.6 918.5,181.6 921.4,186.2 923.3,191.2 923.8,194.7 923.1,199.2 920.1,205.7 912.5,215.8 907.6,220.2 902.5,223.6 899.5,225 896,225.7 892.5,225 889,223 884.5,219.3 880.5,214.7 873.1,202.7 871.5,198.2 871,194.7 871.5,191.7 873.5,185.8 880,175.7 888.1,167.2 892,164.9Z"/>
<path fill="#ff4e00" d="M743.5,169.2 746.5,169.5 749,170.6 753,173.6 757.5,178.2 761.5,183.5 764,187.9 765.4,191.2 765.8,194.7 765.5,198.2 764,201.7 761.4,206.2 757,212 753.5,215.6 749,219 746.5,220.2 744,220.7 740,219.9 736,218.1 732,215.3 728,211.6 724.6,207.7 722.3,204.2 719.8,198.7 719.1,195.2 719.7,191.2 722.1,185.7 724.5,182.1 729,177 732,174.3 736,171.7 739.5,170.1ZM895.4,169.2 898.5,169.6 901.5,170.9 906.5,173.8 910,176.7 917.6,186.7 919.4,190.7 920,194.7 919.5,198.7 917.2,203.7 914.5,207.7 910,213 906,216.2 902,218.6 898.5,220.2 895.5,220.6 892,219.8 888,217.5 882.2,212.2 878,206.7 875.3,202.2 873.9,198.7 873.4,194.7 873.9,191.2 875.5,187.2 880.7,179.2 888.5,171.7 892,169.9Z"/>
<path fill="#ff1800" d="M743.6,174.2 746,174.2 749,175.3 756.4,181.2 761,188 762.7,191.7 763,194.1 762.9,197.2 762.3,199.2 760,203.5 757.4,207.2 751.5,212.7 747,215.1 744.5,215.7 741,215.2 737.5,213.9 731,209.2 728,206.1 725.5,202.4 723.5,198.2 723,195.2 723.3,192.2 724.9,188.2 727,184.8 729.5,182.1 732.5,179.2 736.5,176.4 740.5,174.8ZM894,174.2 897,174.3 900.5,175.5 904,177.2 907.5,179.7 913.9,187.7 915.7,191.7 916.1,194.2 915.8,197.7 914,201.6 911.5,205.5 908,209.6 902,213.7 898.3,215.2 895,215.7 892.5,215.2 889,213.5 886,211.5 883,208.6 878,201.7 876.4,198.2 876.1,195.7 876.2,192.7 877,190.2 879,186.1 882,181.9 889,176Z"/>
<path fill="#e40000" d="M742.4,179.7 745,179.4 747,179.8 753.1,183.7 757,188.5 758.5,191.7 759,194.2 758.2,198.7 754.5,204.5 749.5,208.7 747,209.8 744.5,210.4 739,209.1 732.9,204.7 729.5,200.2 727.9,195.2 728.8,190.7 731.8,186.2 737,181.8ZM892.8,179.7 895,179.4 898,179.9 901,181.1 904,182.9 909.1,188.7 910.5,191.4 911.2,194.2 910.4,198.7 907,203.8 901.5,208.4 896,210.3 892,209.7 887,206.8 882.5,201.7 880.9,198.7 880.1,196.2 880.6,191.7 883.5,186.7 887.5,182.5Z"/>
<path fill="#b90000" d="M742.6,185.2 746,185 749.5,186.9 752.6,189.7 754.3,193.7 754.1,196.7 752.1,200.7 748.5,203.6 745.5,204.9 741.5,204.3 737.8,202.2 734.6,199.2 733.2,195.7 733.4,192.7 735.3,189.7 738.1,187.2ZM893,185.2 896.5,185 901,187 904.5,190.7 905.9,194.2 905.5,197.2 903.5,200.3 899,203.8 895.5,205 893,204.7 889.5,202.8 886.3,199.2 884.8,195.7 885,192.7 886.9,189.7 890,186.7Z"/>
<path fill="#8d0000" d="M743.5,194.2 744.6,194.2 745,195.2 744.5,195.6 743.5,195.4 743.1,194.7ZM894.5,194.2 895.9,194.2 896.1,195.2 895.4,195.7 894.5,195.5Z"/>
<path d="M628.60 338.20V51.20H1010.40" fill="none" stroke="#000028" stroke-opacity="0.75" stroke-width="0.9"/>
<path d="M1010.10 50.90V338.20" fill="none" stroke="#000028" stroke-opacity="0.7" stroke-width="0.9"/>
<path d="M628.30 337.90H1010.40" fill="none" stroke="#000028" stroke-opacity="0.65" stroke-width="0.9" stroke-dasharray="9 1.6"/>
<path d="M723.8 50.9v3.5M723.8 338.2v-3.5M628.3 266.4h3.5M1010.4 266.4h-3.5M819.3 50.9v3.5M819.3 338.2v-3.5M628.3 194.5h3.5M1010.4 194.5h-3.5M914.9 50.9v3.5M914.9 338.2v-3.5M628.3 122.7h3.5M1010.4 122.7h-3.5" fill="none" stroke="#000020" stroke-opacity="0.6" stroke-width="0.8"/>
<text x="572.62" y="349.21" font-size="32.00">-0.3</text>
<text x="596.17" y="370.50" font-size="32.00">-0.3</text>
<text x="556.62" y="277.39" font-size="32.00">-0.15</text>
<text x="684.60" y="370.50" font-size="32.00">-0.15</text>
<text x="608.55" y="205.69" font-size="32.00">0</text>
<text x="810.75" y="370.50" font-size="32.00">0</text>
<text x="567.25" y="133.74" font-size="32.00">0.15</text>
<text x="886.27" y="370.50" font-size="32.00">0.15</text>
<text x="583.25" y="61.91" font-size="32.00">0.3</text>
<text x="989.80" y="370.50" font-size="32.00">0.3</text>
<text transform="translate(792.87 401.20) scale(0.9750 1.0000)" font-size="32.00">x/m</text>
<text transform="translate(543.00 220.71) rotate(-90)" font-size="32.00">y/m</text>
<text x="741.34" y="27.20" font-size="33.00">RE=6.83 %</text>
<text x="529.38" y="50.00" font-size="36.50" font-weight="bold">(b)</text>
</g>
<g id="pc">
<rect x="1152.20" y="47.90" width="402.90" height="302.50" fill="#00009c"/>
<path fill="#0000c8" d="M1353.5,75.2 1354.5,75.4 1355.1,77.2 1358.7,100.7 1359.9,122.2 1360,133.7 1360.4,136.7 1360.5,154.2 1360.5,261.1 1360,265.6 1359.9,276.6 1358.7,298.1 1355.1,321.6 1354,323.8 1352.9,322.6 1351.7,317.1 1348.1,287.1 1347.5,275.1 1347.4,245.2 1347.5,122.2 1349.2,100.2 1352.3,78.2ZM1297.7,85.7 1298.5,85.3 1299.4,85.7 1301.4,88.2 1306.3,96.2 1311.2,105.7 1327.3,148.7 1330.6,163.7 1331.7,173.7 1331.7,183.7 1332.2,187.2 1332.2,211.7 1331.7,215.2 1331.7,225.2 1330.6,235.2 1327.3,250.2 1311,293.6 1301.7,310.6 1299.5,313.1 1298.5,313.5 1297.5,312.9 1295.8,308.1 1295.6,292.1 1296.1,286.6 1298.1,275.7 1304,259.7 1306,249.7 1305.9,240.7 1304.5,235.6 1302,230.8 1301.5,230.8 1301,231.5 1293.8,246.2 1287.7,256.6 1275.6,273.6 1265.6,285.1 1257.5,293.1 1247.5,301.2 1243.5,303.2 1239,304.6 1235.5,305.3 1234,305.1 1231.6,304.1 1230.5,303 1229.9,301.6 1230.3,299.1 1244.5,268.7 1246.5,263.4 1250,250.7 1250.9,244.7 1250.5,243.1 1248.5,242.5 1241.4,243.7 1226.4,248.7 1218,252.5 1206,256.8 1194.5,259.8 1187.5,260.9 1174.5,260.8 1168,259.6 1165.6,258.6 1163,256.6 1160.5,252.6 1159.5,249.7 1158.8,245.7 1159.9,234.2 1162,225.2 1166.7,209.2 1168.5,201.7 1168.7,199.2 1166.6,189.2 1162,173.7 1159.9,164.7 1158.8,154.7 1159.5,148.7 1162.6,142.7 1166.5,139.7 1174.5,138 1186,137.9 1196.5,139.5 1205.5,141.8 1226.4,150.2 1241.4,155.2 1248.5,156.3 1250.5,155.7 1250.9,154.2 1250,148.2 1246.5,135.4 1244.5,130.1 1230.3,99.7 1229.9,97.2 1231,95.2 1233.5,93.9 1236,93.6 1243,95.5 1247.5,97.6 1257.5,105.7 1265.6,113.7 1275.6,125.2 1287.7,142.2 1293.8,152.7 1301,167.3 1301.5,168 1302,168 1304.5,163.2 1305.9,158.2 1306,148.7 1304,139.1 1298.1,123.2 1296.1,112.2 1295.6,106.7 1295.8,90.7ZM1408.2,85.7 1409.5,85.3 1410.5,86.2 1412.1,93.2 1412.2,100.7 1411.3,113.2 1410.8,117.7 1408.2,127.7 1403.9,139.2 1402,148.1 1401.4,152.7 1402.5,161.7 1404.5,165.9 1406,168 1407,167.3 1415.7,149.2 1423.1,137.2 1431.8,125.7 1441.8,114.2 1450.5,105.7 1458.5,99.1 1466,95.1 1472,93.6 1474.5,93.9 1477,95.2 1478,97.2 1477.5,99.7 1463,131.2 1458,147.9 1456.9,154.2 1457.5,155.7 1460,156.3 1466.5,155.2 1481.5,150.2 1502,142 1511.5,139.5 1522,137.9 1534,138 1541,139.4 1545.3,142.7 1548.3,148.7 1549.1,154.7 1548,164.7 1545.9,173.7 1539.9,193.7 1539.2,198.2 1539.2,201.7 1539.9,205.2 1545.9,225.2 1548,234.2 1549,246.2 1548.3,250.2 1547,253.6 1545,256.6 1543,258.2 1541,259.4 1538.2,260.1 1532.5,260.8 1521.5,260.9 1516.5,260.4 1507.5,258.4 1499.5,256 1481.5,248.7 1466.5,243.7 1460,242.5 1457.5,243.1 1456.9,244.7 1458,250.9 1463,267.6 1477.5,299.1 1478,301.1 1477.6,302.6 1476.5,304.1 1474.5,304.9 1472.5,305.3 1468.5,304.5 1460,300.7 1450.5,293.1 1441.8,284.6 1431.8,273.1 1423.1,261.6 1415.7,249.7 1407,231.5 1406,230.8 1404.5,232.9 1402.5,237.2 1401.4,246.2 1402,250.7 1403.9,259.6 1408.2,271.1 1410.8,281.2 1411.3,285.6 1412.2,298.1 1412.1,305.6 1410.7,312.1 1410,313.2 1408.5,313.4 1403.4,306.6 1399,298.7 1381.6,253.7 1378.8,243.2 1377.3,235.2 1376.2,225.7 1376.2,215.7 1375.7,212.2 1375.7,187.2 1376.2,183.7 1376.2,173.2 1377.3,163.7 1379.2,153.7 1381.6,145.2 1394.8,110.2 1401.5,95.4Z"/>
<path fill="#0000f1" d="M1353.6,91.7 1354,91.4 1354.5,91.8 1357.3,100.7 1358.3,109.2 1359,133.7 1359.4,137.2 1359.6,154.7 1359.6,244.7 1358.9,276.2 1357.5,297.1 1355.8,303.1 1354.5,307 1354,307.4 1352.2,303.6 1350.6,298.1 1349.1,286.6 1348.5,274.1 1348.3,244.7 1348.5,124.2 1349.7,106.2 1350.7,100.2ZM1406.2,97.7 1407,97.7 1407.5,99.7 1408.2,116.7 1406.2,127.2 1402.5,139.1 1400.8,147.7 1400.2,153.2 1401.6,162.7 1404,167.5 1406,170.1 1406.8,169.7 1408.9,165.7 1417.1,149.7 1424.8,137.7 1433.5,126.6 1444,115.4 1452,108.7 1461.5,102.7 1468.5,100.2 1470,100.2 1470.4,101.1 1467.2,113.2 1460,135.7 1456.7,147.7 1455.5,154.7 1456.5,157.2 1460,157.9 1466.7,156.7 1477.5,153.2 1497.5,145.9 1503,144.4 1512.5,142.8 1523,142.5 1533.5,143.9 1537.5,145.1 1539.2,146.2 1540.6,147.7 1542,150.8 1542.6,154.2 1541.7,166.7 1539.5,176.7 1535.1,192.2 1534.2,199.2 1535.1,206.7 1539.5,222.2 1541.9,233.7 1542.6,244.7 1541.1,250.2 1540,252 1538.5,253.2 1533,255 1522.5,256.4 1514,256.2 1503,254.4 1496.5,252.7 1481.9,247.2 1466.7,242.2 1460,240.9 1456.5,241.7 1455.5,244.2 1456.7,251.2 1460,263.1 1468.1,288.6 1470.4,297.6 1470,298.6 1467.5,298.4 1462.5,296.6 1452.5,290.5 1444,283.4 1433.9,272.6 1424.8,261.1 1417.1,249.2 1406.5,228.8 1405,229.7 1401.6,236.2 1400.8,239.7 1400.3,246.2 1402.5,259.7 1406.2,271.6 1408.2,282.1 1408,293.1 1407.5,299.6 1407,301.2 1406,301 1403,297.3 1396,286.1 1390.6,274.6 1382.7,254.2 1379.7,243.7 1378.1,235.2 1377.1,225.7 1377,215.7 1376.5,212.2 1376.5,187.2 1377,183.7 1377.1,173.2 1378.1,163.7 1379.7,155.2 1382.7,144.7 1390.6,124.2 1397,110.9 1402.8,101.7ZM1300.7,98.7 1301.5,98.2 1302.5,99 1308,106.1 1311,110.9 1315.1,119.2 1326.2,148.2 1328.2,155.2 1329.8,163.7 1330.8,173.7 1330.9,183.7 1331.4,187.2 1331.3,212.2 1330.3,231.2 1328.2,243.7 1326.5,249.7 1313.9,282.1 1308.3,292.1 1301.5,300.6 1301,300.6 1300.5,299.7 1299.4,292.6 1299.4,284.6 1300,278.6 1301.8,271.1 1305.3,260.1 1307.2,249.2 1307,239.9 1305,233.9 1303,229.8 1302,228.8 1300.9,229.2 1292.8,245.2 1287.2,254.7 1278.7,266.6 1270.5,276.5 1263.5,283.9 1255.5,290.5 1244.6,297.1 1241,298.4 1238,298.7 1237.4,298.1 1237.4,297.1 1241,283.6 1248.5,261.4 1251.2,251.2 1252.3,244.2 1251.4,241.7 1248.5,240.9 1241.3,242.2 1230.5,245.6 1212.5,252.3 1203.5,254.7 1193.5,256.2 1186,256.4 1175.5,255.1 1169.4,253.2 1167.6,251.7 1166.4,249.7 1165.3,244.7 1166.1,233.2 1168.1,223.2 1173.3,203.2 1173.6,199.2 1173.2,195.2 1166.2,166.7 1165.3,154.2 1166,150.3 1167.3,147.7 1169,146 1175,143.9 1185,142.5 1195,142.8 1203.5,144.1 1209,145.5 1241.3,156.7 1248.5,157.9 1251.4,157.2 1252.3,154.7 1251.1,147.2 1248,135.8 1241.2,115.7 1237.4,101.7 1237.4,100.7 1237.9,100.2 1239.5,100.2 1245,101.8 1256,108.7 1263.5,114.9 1274,126.1 1287.2,144.2 1292.8,153.7 1300.9,169.7 1302,170.1 1303,169 1305,164.9 1307,158.9 1307.2,149.2 1305.3,138.7 1301.8,127.7 1300,120.2 1299.4,114.2 1299.4,106.7Z"/>
<path fill="#002cff" d="M1353.4,98.7 1354.5,98.6 1356.5,101.9 1357.6,109.2 1358.3,133.7 1358.8,137.2 1359,154.7 1358.8,261.6 1357,294.6 1356,298 1354,300.4 1352.5,298.9 1351.2,296.1 1349.8,286.1 1349.1,273.6 1348.9,244.7 1349.1,125.2 1350.5,106.2 1351.5,101.7ZM1245.4,108.7 1247.5,108.7 1253.5,111.4 1260,115.3 1264.5,119.2 1272.5,127.2 1286.1,144.7 1291.6,153.7 1301,170.9 1302,171.2 1303,170.6 1305.5,165.7 1307.7,159.2 1308.1,154.7 1308.1,148.2 1306.8,140.7 1302.5,120.7 1302.7,112.2 1303.1,110.2 1304,108.8 1305,109.1 1308.5,112.1 1312.5,116.4 1314.3,119.2 1326,149.2 1327.7,155.2 1329.8,167.7 1330.9,186.7 1330.9,211.6 1330.4,215.2 1330.4,225.2 1329.3,235.2 1327.7,243.7 1325.9,250.2 1314.8,278.6 1312,282.9 1308,287.2 1304.5,290 1303.5,289.5 1302.8,287.6 1302.5,278.2 1306.8,258.1 1308.1,250.7 1308.1,244.2 1307.8,240.2 1306.3,235.2 1303.5,228.9 1302,227.7 1300.5,228.4 1292,244.6 1286.1,254.2 1272.5,271.6 1260.5,283.2 1254.5,286.9 1246.5,290.3 1245.5,290.2 1245,289.1 1245.3,278.6 1247.7,266.6 1252.8,248.2 1253.3,243.2 1252.8,241.2 1252,240.2 1248,239.7 1241,241 1216.5,249.4 1202.5,252 1193,252.2 1186,251.3 1175,247.9 1173,246.7 1172.3,245.7 1171.9,239.2 1172.5,230.1 1178,205.2 1178.8,199.7 1178.1,194.2 1172.5,168.7 1171.9,159.7 1172.1,154.2 1172.5,152.7 1173.5,151.6 1175.5,150.7 1185,147.8 1195,146.6 1202.5,146.8 1211.5,148.3 1241,157.8 1248,159.1 1252,158.6 1253,157.2 1253.4,154.2 1252.1,147.2 1247.7,132.2 1245.8,123.7 1244.9,113.7ZM1460.8,108.7 1462.5,108.6 1462.8,109.7 1462.4,119.2 1461.5,126.7 1455.8,147.2 1454.6,153.7 1454.7,156.7 1456,158.6 1460,159.1 1467,157.8 1497,148.1 1508,146.6 1513,146.5 1523.5,147.9 1532.5,150.7 1534.3,151.7 1535.2,152.7 1535.7,154.2 1535.9,159.2 1535.3,168.7 1530.2,190.7 1528.9,199.7 1530.3,208.7 1535.3,230.2 1535.9,239.7 1535.5,245.5 1534.5,247.1 1533,247.9 1523,251 1516.5,252.1 1508.5,252.2 1501.5,251.6 1494,250 1466.5,240.9 1460,239.7 1456,240.2 1455,241.5 1454.5,243.7 1455.1,248.7 1461.3,271.6 1462.3,278.1 1462.8,289.1 1462.5,290.2 1461.5,290.3 1453.5,286.9 1447,282.8 1434.9,271.1 1423.7,257.1 1417.5,247.7 1407.1,228.2 1406,227.7 1404.3,229.2 1401,235.6 1399.5,244.2 1399.9,251.2 1401.5,260.6 1404.4,272.1 1405.4,280.1 1404.8,287.6 1404,289.5 1403,289.6 1399.5,286.7 1395,281.8 1391.2,274.6 1382.9,253.2 1380.2,243.7 1378.1,231.7 1377,211.7 1377,187.2 1377.5,183.7 1377.5,173.2 1378.1,167.2 1380.2,155.2 1382.9,145.7 1390.8,125.2 1394,118.4 1400,111.6 1403,109.2 1404,109.3 1404.9,111.7 1405.4,115.7 1405.3,119.7 1404.4,126.7 1401.5,138.2 1399.9,147.7 1399.5,154.7 1400.1,159.7 1401.5,164.4 1405,170.6 1406,171.2 1407,170.9 1418.1,150.2 1425.8,138.7 1434.9,127.7 1447,116 1453,112.1Z"/>
<path fill="#005fff" d="M1353.2,101.7 1354.5,101.5 1356,103.3 1356.9,109.2 1357.7,122.7 1357.7,133.7 1358.2,137.2 1358.5,154.7 1358.2,261.6 1357.7,265.1 1357.7,276.1 1356.9,289.6 1356.1,295.1 1355,296.9 1354,297.5 1352.5,296.4 1351.6,294.6 1350.5,286.2 1349.7,273.6 1349.4,244.7 1349.7,125.2 1351.1,106.7 1352,103.3ZM1249.8,115.2 1251,114.7 1253.5,115.3 1259.5,118 1264,121.5 1272.4,129.7 1285.1,145.2 1292.5,157 1299.7,170.7 1301.5,172.2 1303,171.8 1304.4,169.7 1307.1,163.7 1308.7,158.2 1308.9,148.2 1304.9,121.7 1305,118.2 1305.8,116.2 1307,115.9 1310.5,117 1312.5,118.2 1314,119.9 1325.4,148.7 1327.3,155.2 1328.9,163.7 1330,173.7 1330.6,187.2 1330.6,211.2 1329.5,230.7 1326.8,245.7 1321.8,260.1 1314.1,278.6 1312.5,280.6 1310,282 1306,282.8 1305,280.6 1305.4,272.6 1308.9,250.7 1308.9,244.2 1308.6,240.2 1307.1,235.2 1304.2,228.7 1302.5,226.7 1301.5,226.7 1300,227.7 1292.5,241.8 1285.4,253.2 1272.5,269.1 1267,274.6 1260,280.4 1255.5,282.8 1251,284.1 1249.8,283.6 1248.7,280.6 1247.9,277.1 1247.9,273.1 1248.7,266.6 1253,251.7 1254.4,244.7 1254.1,240.6 1253,238.8 1248.5,238.4 1243.5,239.2 1217,247.6 1211,248.7 1204,249.1 1196.5,248.4 1189.5,246.7 1180.8,242.7 1179.3,241.7 1178.6,240.7 1178.3,236.2 1178.6,229.2 1184,199.7 1178.6,169.7 1178.3,161.2 1178.9,157.7 1180.5,156.3 1184.5,154.3 1192.5,151.4 1197.5,150.2 1204.5,149.7 1210.5,150.1 1218,151.6 1243.5,159.6 1248.5,160.4 1253,160 1254.1,158.2 1254.4,154.2 1253,147.1 1248.7,132.2 1247.9,126.2 1248.1,120.7ZM1455.1,115.2 1457.5,114.8 1458.2,115.7 1459.5,120.4 1459.9,125.7 1458.8,132.7 1453.6,153.7 1453.7,157.7 1455,160 1459,160.4 1464.5,159.6 1490,151.6 1497.5,150.1 1502.5,149.7 1509.5,150 1514,150.9 1523.1,154.2 1528.7,157.7 1529.5,162.2 1529.1,170.2 1528.2,176.7 1524.1,195.2 1523.6,199.7 1529,227.7 1529.5,235.7 1529,240.7 1528,241.9 1524.2,244.2 1518,246.8 1510.5,248.7 1502.5,249.1 1497,248.8 1491,247.5 1464.5,239.2 1459,238.4 1455,238.8 1453.7,241.2 1453.6,245.2 1458.8,266.1 1459.9,272.7 1459.6,277.6 1458.5,282.5 1457.9,283.6 1456.5,284 1452,282.6 1447.5,280.1 1444,277.4 1435.5,269.2 1424.8,256.6 1418.5,247.2 1407.8,227.7 1406.5,226.7 1405.5,226.8 1404,228.2 1401.2,233.2 1399.3,239.7 1398.7,244.7 1399,251.2 1402.5,272.6 1402.8,279.6 1402.6,281.6 1402,282.8 1398.5,282.2 1395.5,280.7 1394,279 1387.6,264.6 1384,255.1 1381.6,247.7 1378.4,231.2 1377.3,211.7 1377.3,187.2 1377.8,183.7 1377.9,173.2 1378.4,167.2 1380.6,155.2 1383.8,144.2 1391.4,125.2 1394.1,119.7 1395.5,118.1 1397.5,117 1401,115.9 1402.1,116.2 1402.8,118.7 1402.6,125.7 1399,147.7 1398.7,154.7 1399.4,159.7 1400.7,164.7 1404.3,171.2 1405.5,172.1 1406.5,172.2 1407.8,171.2 1419,150.8 1428,138.2 1436,129 1444.2,121.2 1449,117.7Z"/>
<path fill="#009cff" d="M1352.9,103.7 1354,103.2 1355.3,104.2 1356.2,109.2 1357.1,122.7 1357.9,154.7 1357.6,261.6 1356.2,289.6 1355.6,294.1 1355,295.2 1354,295.6 1353,295.2 1352.2,293.6 1351.1,285.6 1350.3,273.1 1350,244.7 1350.3,125.7 1351.7,107.7 1352.3,104.7ZM1253.3,119.2 1255,119.1 1257.5,119.9 1262.5,122.9 1270.6,130.2 1275.5,135.4 1284.4,146.2 1291.8,157.7 1299.1,171.2 1301.5,173.3 1303,173.1 1304.5,171.2 1307.7,164.2 1309.4,158.7 1309.8,148.2 1307.6,131.7 1307.3,125.7 1307.5,122.2 1308.3,120.7 1310,119.4 1311.5,119.1 1313,119.7 1313.7,120.7 1321.5,139 1325,148.5 1326.8,155.2 1328.5,163.7 1329.7,173.7 1330.2,187.2 1330.3,211.2 1329.2,230.7 1327,243.2 1325,250.2 1314,277.6 1313,279.1 1312,279.6 1310.5,279.6 1309,278.8 1307.9,277.6 1307.4,276.1 1307.6,267.6 1309.8,250.7 1309.4,240.2 1306.1,230.7 1304.2,227.2 1302.5,225.6 1301,225.7 1299.4,227.1 1291.8,241.2 1285.5,251.1 1281.8,256.1 1275.5,263.4 1270.6,268.6 1263,275.5 1258,278.7 1254.5,279.7 1252.5,279.2 1250.5,276.4 1249.6,273.6 1249.4,269.6 1249.7,266.6 1254.1,251.2 1255.3,245.2 1255.4,240.2 1255,238.6 1254,237.4 1250.5,237 1243.5,238 1218,245.8 1210,246.8 1204.5,246.3 1197.6,244.7 1188.4,239.7 1185.9,237.7 1184.9,236.2 1184.4,230.2 1185.2,222.2 1189.3,199.7 1185.1,176.2 1184.4,168.2 1184.7,163.7 1185.2,162.2 1187.2,160.2 1191.6,157.2 1198,154 1205,152.4 1210,152 1218,153.1 1243.5,160.8 1250.5,161.8 1254,161.4 1255,160.2 1255.4,158.7 1255.3,153.7 1254.1,147.7 1249.7,132.2 1249.4,129.7 1250.1,123.2 1252,120.2ZM1395.9,119.2 1397.5,119.2 1399.3,120.2 1400.2,121.7 1400.5,123.2 1400.3,131.7 1399.2,137.7 1398,150.7 1398.6,159.7 1399.6,163.7 1401.3,167.7 1404,172.1 1405.5,173.2 1407,173 1408,172.2 1419.7,151.7 1428.5,139.8 1437,130.5 1445,123.3 1449.5,120.3 1453.5,119.1 1455,119.4 1456.8,121.7 1457.9,124.2 1458.4,127.7 1457.1,136.2 1452.5,153.7 1452.4,158.2 1453.5,161.2 1457,161.8 1463,161.1 1468,159.9 1490,153.1 1498,152 1504.5,152.5 1509.1,153.7 1516,156.9 1521.3,161.2 1523.1,163.7 1523.4,169.7 1522.7,176.7 1518.2,199.7 1522.9,224.2 1523.4,229.7 1523.3,234.2 1523,235.7 1521.9,237.2 1516.4,241.7 1509.1,245.2 1504.5,246.3 1498,246.8 1490.5,245.9 1468,238.9 1463,237.7 1457,237 1453.5,237.7 1452.4,240.7 1452.5,245.2 1457.1,262.6 1458.4,271.1 1457.9,274.6 1456.8,277.1 1455,279.4 1453.5,279.7 1449.5,278.5 1445,275.5 1437,268.3 1428.5,259 1419.7,247.2 1408,226.7 1407,225.8 1405.5,225.7 1403.4,227.7 1400.1,233.7 1398.6,239.2 1398,243.7 1398.2,251.2 1400.3,267.1 1400.4,276.7 1399.7,278.1 1398,279.5 1396.5,279.7 1395,279.1 1392,273.6 1384.4,255.2 1381.5,245.2 1379.4,235.2 1378.2,225.7 1378.1,216.2 1377.7,212.2 1377.6,187.7 1378.7,167.7 1382,151.6 1384.4,143.7 1388.5,133.3 1394,121.1 1395,119.7Z"/>
<path fill="#00c8ff" d="M1353.4,104.7 1354.5,104.6 1355,105.4 1356,113.7 1357.4,155.2 1357.4,243.7 1357,261.6 1355.6,289.6 1355,293.4 1354,294.3 1353,293.6 1352.4,291.1 1350.9,273.6 1350.9,248.7 1350.5,244.2 1350.9,126.2 1352.3,108.2ZM1311.4,120.7 1312.5,120.5 1313.5,121.6 1321,139.1 1324.5,148.5 1326.5,155.5 1328.9,168.2 1330,187.7 1330,211.7 1329.4,225.2 1328.1,235.2 1324.5,250.3 1321,259.7 1313.5,277.2 1312.5,278.3 1311,277.7 1309.4,272.6 1309.1,267.7 1310.6,250.7 1310.6,244.2 1310.1,239.7 1307.2,231.2 1305.2,227.2 1303.5,225 1302,224.3 1301,224.5 1298.5,227.2 1291,240.7 1280.5,255.8 1270,266.9 1264,272.1 1258,276 1256,276.6 1254.5,276.4 1252.5,275 1251.5,273.6 1250.5,268.1 1256.4,245.2 1256.6,239.2 1256,237.1 1255.1,236.2 1251.5,235.6 1246.5,236.1 1217.5,244.5 1211,244.9 1206,244 1200.5,242 1195.8,238.7 1191.8,234.2 1190.3,230.2 1190.6,222.2 1192,212.2 1195,199.2 1193.1,192.2 1191.3,182.2 1190.3,170.7 1190.6,167.2 1191.8,164.7 1193.7,162.2 1199.9,157.2 1206,154.8 1211,154 1218,154.5 1246.5,162.7 1251.5,163.2 1255.1,162.7 1256,161.7 1256.6,159.7 1256.4,153.7 1250.5,130.2 1251,126.8 1252,124.4 1254,122.7 1256,122.2 1261,124.4 1266,128.3 1270.5,132.4 1280.5,143 1291,158.1 1298.5,171.7 1301,174.4 1303,174.3 1304.5,173 1306.7,168.7 1310.1,159.2 1310.6,154.7 1310.6,148.2 1309.1,130.7 1310.1,123.2ZM1395.2,120.7 1396.5,120.6 1397.3,121.7 1398.6,126.7 1398.7,133.2 1397.2,150.7 1397.8,159.7 1398.9,164.2 1400.1,167.2 1403.5,173 1405,174.2 1407,174.3 1408.7,172.7 1416,159.6 1421.5,151 1427.5,142.9 1437.5,132.4 1442,128.3 1447,124.4 1452,122.2 1454,122.7 1455.5,124 1456.6,126.2 1457.1,128.7 1456.1,136.2 1452.6,148.2 1451.5,153.7 1451.3,159.7 1451.7,161.7 1452.5,162.5 1456.5,163.2 1461,162.8 1468,161.2 1490.5,154.4 1497.5,154 1503.5,155.1 1508,157.1 1512.6,160.7 1517.3,167.7 1517.2,176.7 1512.9,199.2 1517.2,222.2 1517.6,229.7 1516.9,232.2 1512.6,238.2 1507.3,242.2 1503,243.8 1497,244.9 1490.5,244.4 1463,236.4 1457,235.6 1454,235.7 1452.5,236.3 1451.7,237.2 1451.3,239.2 1451.5,245.2 1452.6,250.7 1456.1,262.6 1457.1,269.6 1456.9,271.6 1456,274 1453.5,276.4 1451,276.4 1445.8,273.6 1438,266.9 1427.5,255.9 1421.5,247.8 1416,239.2 1408.7,226.2 1406.5,224.4 1404,225.5 1401.7,228.7 1399.2,233.7 1397.8,239.2 1397.2,244.2 1397.2,250.7 1398.8,267.1 1398.5,272.6 1397,277.6 1395.5,278.3 1394.5,277.2 1389,265.4 1385,255.2 1381.5,243.3 1379.1,231.7 1378.5,225.7 1377.9,209.2 1377.9,187.2 1378.5,173.2 1379.1,167.2 1381.5,155.5 1384.5,145 1389,133.4 1393,124.6Z"/>
<path fill="#00f1ff" d="M1353.5,107.7 1354,107.2 1354.5,108.2 1355.2,114.2 1356.7,155.7 1356.7,244.2 1356.3,247.7 1355.7,275.6 1354.7,289.6 1354,291.6 1353.2,290.1 1351.7,273.1 1351.6,248.2 1351.2,243.7 1351.2,155.2 1351.6,150.7 1351.7,126.2ZM1395.3,123.7 1396.3,127.2 1396.9,132.7 1395.9,147.7 1396,155.2 1396.6,160.2 1398.1,165.7 1400.2,170.2 1402.5,174.2 1404.5,175.5 1407,175.7 1409,173.8 1411.6,168.7 1417,160.1 1423,151.5 1428.9,144.2 1443.3,130.7 1448.1,127.2 1452,125.7 1454,126.8 1454.8,128.7 1454.9,130.7 1454,137.2 1450.8,148.2 1449.8,153.2 1449.6,161.2 1450.3,163.2 1451.2,164.2 1454.5,164.9 1461.5,164.3 1468,162.9 1480.1,159.2 1490.5,156.7 1496,156.5 1502,158.1 1505,159.8 1508.3,163.2 1511,168.7 1511.5,170.4 1511.5,174.2 1511,180 1507.2,198.7 1507.2,201.2 1510.9,218.7 1511.5,223.7 1511.3,229.2 1509,234.5 1507.5,236.7 1504,239.7 1499,241.7 1494.5,242.4 1491,242.2 1482.1,240.1 1468.5,236 1461.5,234.5 1454.5,233.9 1451.3,234.7 1450.3,235.7 1449.6,237.7 1449.8,245.7 1450.8,250.7 1454,261.6 1454.9,268.1 1454.5,271.1 1453.5,272.6 1452.5,273.1 1448.1,271.6 1443.3,268.1 1428.5,254.2 1417,238.7 1411.6,230.2 1409.4,225.7 1407,223.1 1405.5,223.1 1404,223.7 1401.8,226.2 1398.3,232.7 1396.6,238.7 1396,243.7 1395.9,251.1 1396.9,266.1 1396.3,271.6 1395.5,275.3 1394.5,274.2 1390,265.1 1386,255.2 1383.5,247.7 1380.1,234.7 1378.8,225.7 1378.2,200.2 1378.8,173.2 1379.4,167.2 1385,146.4 1390,133.7ZM1312.3,124.2 1312.5,123.8 1313,124.3 1315.5,129.1 1324,149.7 1327.9,164.7 1329.1,173.7 1329.7,187.2 1329.7,211.2 1328.6,230.7 1325,245.8 1320,259.6 1315.5,269.7 1312.5,275 1311,266.6 1312,250.7 1311.9,243.7 1311.3,239.2 1308.1,230.2 1306.1,226.2 1304,223.6 1302.5,223 1301,223.1 1300,223.7 1298.5,225.7 1290,240.1 1279.5,254.2 1264.6,268.1 1258.8,272.1 1256,273.1 1255,272.9 1253.5,271.6 1252.6,267.7 1258.1,245.7 1258.3,237.7 1256.5,234.6 1255,234 1252.5,233.9 1246,234.5 1217.5,242.2 1212.5,242.4 1207.4,241.2 1203.3,239.2 1200,236.2 1197.5,232.7 1196.4,228.7 1196.9,217.7 1198.5,208.4 1200.5,201.7 1200.7,199.2 1200.5,197.2 1198.5,190.4 1196.9,181.2 1196.4,170.7 1197.3,166.7 1200,162.7 1202.6,160.2 1207.4,157.7 1212.5,156.5 1217.4,156.7 1246,164.3 1252,164.9 1255,164.8 1256.5,164.2 1258.3,161.2 1258.1,153.2 1252.6,130.7 1253.5,127.2 1254.5,126.1 1256,125.7 1259.7,127.2 1264.6,130.7 1279,144.1 1290,158.7 1299.5,174.5 1301.5,175.8 1304,175.5 1305.4,174.2 1308.1,168.7 1311.4,159.2 1311.9,155.2 1312,148.1 1311,132.2Z"/>
<path fill="#2cffe4" d="M1353.6,125.2 1354,124.7 1354.1,125.7 1354.2,134.2 1354.9,137.6 1354.9,151.7 1355.5,156.2 1355.5,243.2 1354.9,247.2 1354.9,261.1 1354.2,264.1 1354,274.1 1353.2,272.1 1353,247.7 1352.4,243.2 1352.4,155.2 1353,151.2 1353.2,127.2ZM1265.3,144.2 1267.5,144.1 1274,146.8 1280.5,151.2 1291.5,163.3 1295.5,169.2 1299.5,176.5 1304,178.8 1307.5,179.3 1310.2,178.7 1316.8,158.2 1318.5,154.5 1319.5,154.6 1321,155.9 1327,163.7 1328.3,168.2 1329.3,187.2 1329.3,211.7 1328.8,225.1 1328.2,231.2 1327,235.1 1321.5,242.3 1319.5,244.2 1318.5,244.3 1317.5,242.3 1310.3,220.7 1308,219.9 1304,220.1 1300,221.9 1298.5,223.7 1295.5,229.7 1291.5,235.5 1281,247.1 1275,251.5 1266.5,254.9 1265.5,254.8 1264.9,253.7 1263.3,242.7 1261.8,236.7 1260,233.7 1258,232.2 1255.5,231.5 1252.5,231.4 1226,233.9 1216.5,233.3 1214,232.8 1212,231.8 1209,229.7 1207.5,227.7 1206.5,223.7 1206.3,215.2 1206.7,208.2 1207.7,202.2 1207.8,197.7 1206.6,190.2 1206.3,180.7 1206.6,174.7 1208,170.4 1210.2,168.2 1214,166 1224,164.9 1233.5,165.4 1249.5,167.3 1255.5,167.3 1258,166.7 1260.4,164.7 1262,161.7ZM1440.3,144.2 1442,143.8 1443,144.9 1444.7,156.7 1446.4,163.2 1448,165.2 1450.5,166.9 1452.5,167.3 1458.5,167.3 1473,165.6 1483.5,164.8 1494,166.1 1497.1,167.7 1499.2,169.7 1500.9,173.2 1501.5,179.2 1500.1,199.2 1501.4,220.2 1501,225.2 1500.1,227.7 1498.4,230.2 1495,232.3 1485,233.9 1478.5,233.8 1456.5,231.5 1452.5,231.5 1450,232.2 1447.9,233.7 1446.2,236.2 1444.6,242.7 1443,253.7 1442.5,254.8 1441.5,254.9 1432.5,251.2 1426.5,246.7 1418.1,237.7 1412.8,230.7 1409.5,223.8 1408,221.9 1404,220.1 1399,220.1 1397.6,220.7 1395,227.3 1390,243.5 1389.5,244.3 1388.5,244.3 1381,235.1 1379.7,231.7 1379.1,225.7 1378.6,212.2 1378.6,187.2 1379.1,172.7 1379.7,167.2 1381,163.7 1387,155.9 1388.5,154.5 1389.5,154.5 1391,158.2 1393.9,168.7 1397.7,178.7 1400.5,179.1 1405,178.4 1408.5,176.5 1412.8,168.2 1418.1,161.2 1427,151.7 1432.5,147.6Z"/>
<path fill="#5fffb9" d="M1269.6,150.7 1273.5,150.9 1278.5,152.8 1289.4,162.7 1294.5,169.2 1299.5,178.3 1302.5,181.2 1312.5,189.2 1313.1,191.2 1313.6,197.2 1313.2,206.7 1312.2,210.2 1302.5,217.6 1299.5,220.5 1294.9,229.2 1292,233.2 1289,236.7 1281.5,243.7 1277,246.8 1271,248.3 1269.5,248.1 1268.5,246.9 1263.3,234.2 1261.5,232 1259.3,230.7 1253.5,229.6 1243,230.4 1231.5,230.4 1222.5,228.8 1215,225.8 1213.6,224.7 1212.9,222.7 1212,219.2 1211.5,212.7 1212.1,200.2 1211.6,184.7 1212.2,178.7 1214,173.7 1221.5,170.3 1231.5,168.4 1239,168.3 1251.5,169.2 1256.5,169.1 1259,168.4 1261.1,167.2 1263.5,164.5 1268.3,152.2ZM1435.4,150.7 1438,150.5 1439,151.2 1444.5,164.5 1446.3,166.7 1449.5,168.6 1452,169.1 1457,169.2 1469,168.3 1478,168.5 1484.5,169.9 1493,173 1494,173.8 1494.6,175.2 1495.8,180.7 1496,185.2 1495.9,216.6 1494.8,223.2 1493.8,225.2 1486,228.5 1479,230.2 1469,230.5 1454,229.6 1448.7,230.7 1446.3,232.2 1444.5,234.2 1439.5,246.9 1438.5,248.1 1437.5,248.3 1433,247.6 1429.5,246 1419,236.7 1413,229.7 1409.5,221.8 1408.5,220.5 1404.5,216.9 1395.5,210.3 1394.8,208.2 1394.3,202.2 1394.7,191.7 1395.5,188.7 1404.5,181.9 1408.5,178.3 1409.5,177 1413,169.2 1419,162.1 1429,153.1 1432,151.6ZM1325.1,165.2 1326,164.9 1327,165.4 1327.9,168.2 1329,187.2 1329,211.7 1328.5,225.2 1327.8,231.2 1327,233.4 1326,233.9 1324.5,233.2 1323.5,232.2 1319.6,224.7 1317.5,216.7 1316.5,209.7 1316.5,188.7 1317.5,182.2 1319.8,173.7 1322.5,168.2ZM1381.6,165.2 1382.8,165.7 1385.6,169.2 1389.3,178.2 1390.4,183.2 1391.4,195.2 1391.4,205.2 1390.4,215.7 1389.3,220.7 1385.6,229.7 1382,233.7 1381,233.3 1380,230.7 1378.9,211.7 1378.9,187.2 1379.4,173.2 1380.1,167.7 1381,165.5Z"/>
<path fill="#9cff7e" d="M1272.9,154.2 1276,154.1 1279,155.4 1288.5,163 1291.4,166.1 1294.5,170.5 1298,177.9 1307.8,193.7 1308.9,197.2 1308.9,202.2 1308.4,204.2 1298,220.9 1293,230.6 1288.5,235.8 1280,242.7 1277.5,244.2 1274.5,244.8 1272.5,244.5 1271,243.8 1264.7,232.7 1262.5,230.5 1260.5,229.4 1254.5,228.2 1243,228.8 1233.5,228.1 1228.1,226.7 1221.5,223.3 1218.3,221.2 1216.9,218.7 1215.8,213.2 1215.4,206.2 1215.8,186.2 1216.7,180.7 1218.3,177.7 1225,173.5 1233,170.8 1239.5,170.2 1256,170.6 1260.1,169.7 1262.5,168.3 1264.7,166.2 1270.5,155.7 1271.5,154.7ZM1431.8,154.2 1435,154.1 1437,155 1443,165.8 1445.4,168.2 1448.5,169.9 1452.5,170.6 1468.5,170.2 1475.5,170.8 1479.9,172.2 1488.5,176.9 1490.1,178.7 1491.5,183.2 1492.4,196.2 1491.6,214.7 1490.3,219.7 1489,221.6 1479.9,226.7 1476,227.9 1465,228.8 1453.5,228.2 1447.5,229.5 1445,231 1443,233 1437,243.8 1435.5,244.5 1433.5,244.8 1431,244.4 1428.6,243.2 1419.5,235.8 1415.5,231.7 1413.1,228.2 1410,220.9 1401,207.1 1399.3,203.7 1399,201.7 1399,196.7 1399.5,194.7 1403.1,188.2 1410,177.9 1414,169.2 1420,162.6 1429,155.4ZM1326.3,167.2 1327,167.3 1327.2,168.2 1327.9,173.2 1328.5,187.7 1328.5,211.7 1328,225.2 1327.2,230.7 1326.5,231.8 1325.5,229.7 1324.2,224.2 1322.5,208.7 1322.6,188.7 1324.2,174.7ZM1380.8,168.2 1381.5,167.9 1382.4,170.2 1384.2,179.2 1385.4,196.2 1384.7,215.7 1382.6,228.2 1381.6,230.7 1381,231 1380,225.9 1379.4,211.7 1379.4,186.7 1380,172.9Z"/>
<path fill="#c8ff4e" d="M1275.7,156.2 1279,157.2 1283.5,160.9 1288,163.8 1292.7,169.2 1296.2,175.7 1300.4,185.7 1304.1,196.2 1304.6,199.7 1304,203.2 1300.4,213.2 1296.2,223.2 1292.7,229.7 1288,235 1283.5,237.9 1279,241.6 1276,242.7 1274,242.2 1272.4,241.2 1266,231.4 1261.5,228.1 1255,226.9 1244,227.4 1236.5,226.6 1231,225 1227,222.8 1222.3,218.7 1220.7,216.7 1219.4,211.7 1218.6,205.2 1218.6,192.7 1220.2,183.7 1221.4,181.2 1225.5,177.2 1230,174.3 1235,172.5 1240,171.8 1257.5,171.9 1261.5,170.7 1266,167.4 1272.4,157.7 1274,156.6ZM1431.5,156.2 1433.5,156.4 1435.5,157.6 1441.7,167.2 1444.5,169.4 1448,171.2 1451.5,171.9 1468.5,171.8 1475,172.9 1478.5,174.5 1485,179.6 1486.7,182.2 1488.1,186.2 1489.3,197.2 1489.2,202.7 1488,213.2 1486.5,217.2 1483.8,220.2 1478,224.7 1473.9,226.2 1464.5,227.4 1453,226.9 1446.5,228.3 1441.7,231.7 1435.5,241.2 1434,242.2 1432,242.7 1429.5,241.8 1424.5,237.9 1420,235.1 1416.5,231.7 1414.5,229.2 1406,210.2 1403.8,202.7 1403.3,199.7 1403.8,196.2 1406,188.7 1414.5,169.8 1419.5,164.1 1424.5,160.9 1429.5,157ZM1326.1,178.2 1326.5,177.7 1326.6,178.7 1327.4,189.2 1327.4,212.7 1326.5,221.1 1325.7,219.7 1324.4,208.7 1324.4,189.7ZM1381.4,179.2 1381.5,178.8 1382,179.3 1382.9,184.2 1383,192.7 1383.5,196.7 1382.9,214.2 1382.1,219.2 1381.5,220 1380.5,213.7 1380.5,202.7 1380.5,185.7Z"/>
<path fill="#f1ff18" d="M1276.3,158.7 1278,159.2 1282.4,162.7 1286,163.6 1287.7,164.7 1290,166.8 1292.6,170.7 1297,180.2 1300.2,193.7 1300.8,199.2 1300.2,205.2 1298.1,214.7 1295.5,222.5 1292.6,228.2 1290,232 1287.7,234.2 1286,235.2 1282.4,236.2 1278.5,239.3 1276.5,240.2 1274.5,239 1267.2,229.7 1262.5,226.6 1255.5,225.5 1243.5,226 1235,224.3 1231,222.2 1227.8,219.7 1224.1,214.7 1222.2,208.2 1221.6,202.7 1221.7,193.7 1222.7,188.7 1224.1,184.2 1228.5,178.5 1234,174.9 1239.5,173.4 1258,173.4 1262.5,172.2 1267.2,169.2 1274.5,159.8ZM1431.4,158.7 1433.5,159.8 1440.3,168.7 1443.5,170.9 1447,172.5 1450,173.2 1468,173.5 1472.5,174.5 1476,176 1481.8,181.7 1484.4,186.7 1486.1,199.2 1484.4,212.2 1481.8,217.2 1476.5,222.5 1472.5,224.3 1464.5,225.9 1452.5,225.6 1445.5,227 1440.3,230.2 1433.5,239 1431.5,240.2 1425.5,236.2 1420.5,234.6 1417.3,231.7 1415,228.4 1411,219.2 1408.7,211.7 1407.6,206.2 1407,199.7 1407.6,192.7 1408.7,187.2 1411,179.7 1415,170.4 1417.3,167.2 1420.5,164.2 1425.5,162.7Z"/>
<path fill="#ffe400" d="M1423.7,164.2 1428.7,164.7 1430.3,165.7 1431.3,167.2 1433,176.2 1434,191.6 1434.5,192.3 1438.5,175.7 1439,174.2 1440,173.4 1448,174.5 1458,174.4 1465.6,175.2 1472,177.6 1474.8,179.7 1478,183.7 1479.9,188.2 1481.6,199.7 1479.7,211.2 1477.9,215.1 1474.3,219.7 1469.9,222.2 1463.5,224.3 1446,224.6 1440,225.4 1439,224.5 1438,221.5 1434.5,206.5 1434,207.2 1433,223.2 1432.1,228.7 1430.8,232.7 1428,234.4 1423.5,234.6 1420.5,233.6 1418,231.2 1414.5,225.2 1411.4,216.7 1409,205.7 1408.6,197.7 1410,187.7 1412,180.2 1414.5,173.7 1415.9,170.7 1418.5,167 1421,164.9ZM1280.8,165.2 1284,164.7 1286.5,165.2 1289,167.1 1290.7,169.7 1295.3,180.7 1298.1,194.7 1298.4,199.2 1298.1,204.2 1295.6,217.2 1292,226.7 1289,231.7 1286.5,233.6 1284,234.1 1280,233.3 1278,231.8 1276,222.7 1274.5,205.5 1271.5,204.5 1269.1,217.7 1267.9,222.2 1267,223.3 1261,223.3 1248,224.7 1244,224.7 1235.5,222.8 1232.5,221.2 1230,218.9 1227.5,215.7 1226,212.7 1224.5,207.2 1224,201.7 1224.1,194.7 1225.2,188.7 1226.6,184.7 1229.7,180.2 1232.5,177.7 1235,176.2 1241,174.5 1249,174.4 1259.5,175.6 1267,175.7 1268,176.8 1269,180.4 1271.5,194.4 1274.5,193.3 1275.9,176.7 1277.2,169.2 1278.2,166.7Z"/>
<path fill="#ffb900" d="M1422,165.7 1424,165.7 1426.6,166.7 1428.2,167.7 1429,168.9 1430.9,178.2 1432.9,197.2 1432.3,209.2 1429.5,228.2 1428,231.4 1425.4,232.7 1423,233.2 1421,232.8 1418.6,230.6 1415.3,223.7 1411.8,211.2 1410.6,200.2 1411.7,188.2 1414.4,177.7 1418.2,168.7 1420.5,166.3ZM1284.1,167.2 1286,166.8 1288.1,168.2 1291,174.7 1293.7,183.7 1295.4,198.7 1294.4,211.2 1292.4,220.2 1288.8,229.7 1287.5,231.3 1285.5,232.1 1282.8,230.7 1280.9,228.2 1277.5,212.2 1276.1,201.7 1276.6,192.7 1280.7,171.2 1281.7,169.2ZM1242.2,176.2 1248,176 1252,176.5 1256.8,178.2 1263.5,181.3 1265.2,183.7 1267.5,188.8 1269.7,196.7 1269.8,201.2 1269.1,205.2 1267,211.7 1264,217.3 1262.5,218.4 1258,220.3 1252,222.3 1248,222.9 1244,222.9 1239.9,222.2 1236,220.7 1233.5,218.9 1231.1,216.2 1228.9,212.2 1227.7,207.7 1227,203.2 1227,196.7 1227.5,192.2 1228.7,187.7 1230.2,184.2 1231.9,181.7 1235,178.7 1238.5,177.1ZM1451.6,176.2 1457.5,176 1461,176.5 1464.8,177.7 1467.4,179.2 1470.2,181.2 1472.2,183.7 1473.9,187.2 1475.3,191.7 1476.2,197.2 1476.2,202.2 1475.2,207.7 1473.5,212.7 1471.9,215.7 1469.6,218.2 1465,221.1 1461.5,222.3 1457,222.8 1449.5,222.5 1442.5,220.6 1440.5,218.3 1437.1,212.7 1433.5,201.8 1433,201.7 1433,197.2 1433.5,197 1433.8,195.2 1437.5,185.6 1441.5,179.2 1443.5,177.8Z"/>
<path fill="#ff7e00" d="M1421.1,167.2 1422.5,167 1423.7,167.7 1425.8,169.7 1426.9,171.7 1430.5,188.2 1431.7,197.2 1431.2,206.2 1427.2,226.2 1426.5,228.2 1425.4,229.7 1423.5,231.3 1422,231.9 1420.5,231.3 1419.1,229.7 1415.6,220.2 1413.5,210.6 1412.6,200.2 1412.8,193.7 1414.9,181.2 1418.8,169.7ZM1285.9,169.2 1287,169.4 1287.5,170.2 1290.8,181.2 1292,188.4 1292.6,196.2 1292.5,204.2 1291.4,214.7 1287.7,228.2 1286.5,229.7 1285.4,229.2 1284.4,226.7 1280,211.2 1278,200.7 1278.1,196.7 1280,187.6 1284.5,171.7ZM1242.2,178.2 1247,177.8 1250.5,178.3 1257,181.4 1262.7,186.7 1266.2,192.2 1268,197.7 1268,201.2 1267.3,204.2 1264.6,209.7 1262.5,212.6 1259,216 1255,218.6 1251.5,220.2 1248,221 1242.2,220.7 1239,219.7 1236.3,218.2 1233,213.8 1231.4,210.2 1230.4,206.2 1229.9,197.2 1231,190.6 1232.7,185.7 1236.3,180.7 1239,179.2ZM1451.2,178.2 1454,177.8 1458,178 1461.9,179.2 1464.9,181.2 1466.8,183.2 1468.5,186.2 1471.2,196.7 1471.2,201.7 1470.7,204.7 1469,211.2 1467.4,214.7 1465.9,216.7 1463,219.2 1457.5,220.9 1453.5,221 1450,220.4 1446,218.7 1442.5,216.2 1439,212.7 1437,209.8 1434.5,204 1433.9,201.7 1433.8,197.7 1434.5,194.8 1439,186.2 1444.5,181.1 1449.2,178.7Z"/>
<path fill="#ff4e00" d="M1420.9,168.7 1422,168.6 1422.5,169.2 1425.1,174.7 1429,189.2 1430.4,198.2 1429.8,205.7 1425.2,223.7 1422.8,229.2 1421.5,230.3 1420.5,229.7 1419.8,228.7 1416.5,217.4 1415.3,210.7 1414.6,200.7 1414.7,194.7 1416,183.7 1419.7,170.7ZM1246.4,181.7 1250,181.8 1253.5,182.9 1260,187.3 1264.4,193.2 1265.7,196.2 1266.2,198.7 1266,201.7 1265.2,204.2 1262.9,208.2 1260.5,211.1 1257.5,213.7 1254.5,215.5 1251.5,216.7 1248.5,217.2 1243.9,216.7 1241,215.2 1239,213.5 1235.5,207.7 1234,200.7 1234,197.7 1234.9,193.2 1237.9,186.7 1241.5,183.3 1244,182.1ZM1452.1,181.7 1455,181.7 1457.5,182.4 1460,183.7 1462,185.5 1465.2,191.2 1466.9,198.2 1466.8,201.7 1465.9,205.7 1464.3,209.7 1462.5,212.7 1459.1,215.7 1456.5,216.7 1454,217.2 1448.5,216.3 1442.8,213.2 1438,208.1 1435.5,203.7 1434.8,200.7 1434.8,197.7 1435.5,195.2 1440,188.3 1446,183.6 1449,182.3ZM1285.9,182.2 1286.5,181.8 1287,182.5 1287.5,184.7 1288.8,196.7 1288.2,209.2 1287.5,214.6 1286.5,217 1285.5,215.7 1283.7,210.2 1281.6,199.7 1282.5,193.2Z"/>
<path fill="#ff1800" d="M1420.9,176.2 1421.5,175.8 1422,176.2 1423.5,180.7 1427,192.6 1427.9,198.7 1427.8,201.7 1426.3,208.7 1422.5,221.4 1421.5,223 1420.5,221.6 1419.1,216.7 1417.5,203.2 1417.5,195.7 1418.5,185.2ZM1248.1,185.7 1250.5,185.5 1253.5,186.2 1258.5,189.2 1262.5,193.7 1264.1,198.2 1264,201.2 1263.5,203.1 1260.5,207.8 1256,211.4 1253.5,212.6 1250.5,213.3 1246.5,212.7 1243,210.2 1239.4,205.2 1238.1,200.7 1238.7,195.2 1240.6,191.7 1244.5,187.3ZM1449.4,185.7 1451.5,185.4 1453.5,185.8 1457.4,188.2 1461.5,193.7 1462.8,198.2 1462.8,201.2 1462.2,203.7 1460.3,207.2 1457,211.1 1454.5,212.6 1452,213.3 1450,213.3 1447,212.4 1444.5,211.1 1441.5,208.8 1438.2,204.7 1436.8,200.7 1436.8,197.7 1437.4,195.7 1440.4,191.2 1445,187.4Z"/>
<path fill="#e40000" d="M1247.5,189.7 1252,189.4 1256.5,191.1 1259.9,194.2 1261.6,197.2 1261.8,200.7 1260.5,204 1257.5,207.1 1254,208.9 1250,209.5 1246.5,208.7 1243.5,206.2 1241.5,202.5 1241,199.2 1241.7,195.7 1244.5,191.6ZM1447.9,189.7 1451.5,189.3 1455,190.4 1457.7,193.2 1459.7,197.2 1459.9,200.7 1458.7,204.2 1456,207.6 1452.5,209.4 1448,209.2 1444,207.4 1440.6,204.2 1439.2,201.2 1439.2,197.7 1440.6,194.7 1443.5,191.7ZM1422.3,194.7 1423,195.1 1423.7,199.2 1423,203.7 1422.5,204.6 1421.9,203.7 1421.7,200.7 1421.8,196.2Z"/>
<path fill="#b90000" d="M1247.3,193.7 1249.5,193.2 1253,193.3 1255.5,194.1 1257.5,195.6 1258.6,197.2 1259.2,199.2 1259,200.8 1257.5,203.2 1255.5,204.7 1252.5,205.6 1249,205.6 1246.4,204.7 1244.5,201.5 1244.1,198.7 1245.5,195.2ZM1446.7,193.7 1452,193.2 1454,193.9 1455,194.8 1456.5,197.3 1456.8,199.7 1456.4,201.7 1454.4,204.7 1452,205.6 1448,205.5 1445.4,204.7 1442.9,202.7 1441.8,200.2 1442,198 1443.9,195.2Z"/>
<path d="M1152.50 350.40V48.20H1555.10" fill="none" stroke="#000028" stroke-opacity="0.75" stroke-width="0.9"/>
<path d="M1554.80 47.90V350.40" fill="none" stroke="#000028" stroke-opacity="0.7" stroke-width="0.9"/>
<path d="M1152.20 350.10H1555.10" fill="none" stroke="#000028" stroke-opacity="0.65" stroke-width="0.9" stroke-dasharray="9 1.6"/>
<path d="M1252.9 47.9v3.5M1252.9 350.4v-3.5M1152.2 274.8h3.5M1555.1 274.8h-3.5M1353.7 47.9v3.5M1353.7 350.4v-3.5M1152.2 199.1h3.5M1555.1 199.1h-3.5M1454.4 47.9v3.5M1454.4 350.4v-3.5M1152.2 123.5h3.5M1555.1 123.5h-3.5" fill="none" stroke="#000020" stroke-opacity="0.6" stroke-width="0.8"/>
<text x="1092.88" y="362.54" font-size="33.70">-0.3</text>
<text x="1118.45" y="384.50" font-size="33.70">-0.3</text>
<text x="1076.00" y="286.91" font-size="33.70">-0.15</text>
<text x="1211.64" y="384.50" font-size="33.70">-0.15</text>
<text x="1130.67" y="211.41" font-size="33.70">0</text>
<text x="1344.61" y="384.50" font-size="33.70">0</text>
<text x="1087.12" y="135.66" font-size="33.70">0.15</text>
<text x="1424.21" y="384.50" font-size="33.70">0.15</text>
<text x="1104.00" y="60.04" font-size="33.70">0.3</text>
<text x="1533.38" y="384.50" font-size="33.70">0.3</text>
<text transform="translate(1326.53 417.00) scale(0.9750 1.0000)" font-size="33.70">x/m</text>
<text transform="translate(1061.80 226.19) rotate(-90)" font-size="33.70">y/m</text>
<text x="1271.38" y="23.10" font-size="34.70">RE=9.87 %</text>
<text x="1051.67" y="51.00" font-size="36.50" font-weight="bold">(c)</text>
</g>
<g id="pd">
<rect x="112.00" y="434.40" width="386.10" height="312.80" fill="#00009c"/>
<path fill="#0000c8" d="M298.2,456.6 308.8,456.2 315.2,456.8 333.8,459.9 343.8,463.1 352.3,466.6 357.1,469.1 370.5,477.6 391.8,493.6 409.8,508.8 439.8,538.6 445.6,545.1 450.3,551.6 458,566.1 460.1,572.6 462.1,586.1 462.1,596.1 460,610.1 457.5,617.1 452.5,626.6 445.6,636.6 439.2,644.1 404.2,678.4 391.2,689.1 370.8,704.4 351.9,715.6 345,718.6 332.2,722.6 320.8,724.5 309.8,725.6 301.2,725.6 294.8,725 280.2,723 276.5,722.1 260.8,716.7 248.1,709.6 239.8,704.1 213.8,684.7 186.8,659.6 172.2,645.1 160.8,631.1 155.9,623.1 151.1,612.1 149.5,604.6 148.4,595.6 148.4,585.6 150.7,571.6 153,565.1 158.5,554.6 163.8,546.6 169.8,539.6 194.2,515.3 213.2,498 218.8,493.6 239,478.6 252.8,469.6 260.8,465.6 272.2,461.2 280.2,459.3Z"/>
<path fill="#0000f1" d="M297.4,465.6 309.2,465.2 329.2,468.1 334.8,469.4 348.2,474.3 352.8,476.4 366.8,484.2 387.8,497.7 397.2,504.5 407.2,512.4 425.8,529.4 437.8,541.1 445.6,550.6 451.6,560.6 454.9,567.6 457.2,576.1 458.7,587.1 458.3,599.6 456.2,610.5 452.1,620.6 447.2,628.9 442.3,635.6 433.8,645.2 421.2,657.2 402.2,673.9 388.2,684.2 367.2,697.8 348.8,707.6 341.2,710.6 329.2,714.1 320.2,715.6 308.8,716.7 295.8,716.2 281.8,714.2 264.8,708.9 251.8,702.5 243.8,697.9 216.2,679.9 188.7,656.6 174.2,642.7 166.7,633.6 160.6,624.6 155.8,614.9 153.3,606.1 151.8,594.6 151.8,586.6 154.1,572.1 156.9,564.6 162.8,553.6 167.9,546.6 172.7,541.1 195.8,519.1 211.2,506.3 222.2,498.1 239.2,487.1 256.2,477.2 264.8,473.4 275.8,469.5Z"/>
<path fill="#002cff" d="M296.9,475.1 308.8,474.7 320.2,476.1 330.2,477.9 345.2,482.8 362.8,490.9 380.8,500.6 393.2,508.2 403.8,515.4 416.8,525.9 429.7,537.6 439.7,548.1 443.8,553.5 448.9,562.6 451.7,569.1 454,577.6 455.2,587.1 454.8,599.1 453.3,607.6 451.6,613.6 448.1,621.1 444.2,627.7 436.9,637.1 430.2,644.1 418.2,655 399.7,669.6 393.2,674.1 383.3,680.1 362.2,691.6 345.2,699.3 336.8,702.3 324.2,705.5 308.8,707.3 296.2,706.8 285.2,705.3 268.2,700.4 253.2,693.9 242.2,688.4 223.8,678 213.9,671.6 190.8,653.7 177.2,641.1 169.9,632.6 163.8,623.6 158.9,613.6 156.6,604.6 155.3,594.6 155.3,586.6 157.3,573.6 160.4,565.1 165.3,555.6 170.2,548.8 175.3,543.1 194.2,525.5 206.2,516.1 220.8,506 230.2,500.4 248.2,490.8 261.2,484.6 279.2,478.3Z"/>
<path fill="#005fff" d="M296.5,484.6 308.2,484.2 316.2,484.9 326.2,486.6 341.2,491 358.8,497.7 378.2,506.4 394.2,514.9 401.8,519.5 414.8,529 423.8,536.5 432.8,545.2 439.2,552.7 441.7,556.1 445.5,563.1 448.3,569.6 450.2,576.1 451.7,586.1 451.7,595.1 450.7,603.6 448.6,611.6 445.2,619.6 441.2,626.4 434.5,635.1 427.8,642.1 416.2,652.1 394.2,667.4 380.2,674.7 359.2,684.3 341.2,691.2 332.8,693.9 321.2,696.6 309.8,697.8 301.8,697.9 289.8,696.6 278.8,694.1 269.8,691.3 246.2,682.1 225.2,672.2 216.8,667.4 201.8,657.3 193.2,651.2 179.8,639.1 173.1,631.6 169.2,626.4 165.1,619.1 161.9,611.6 160.1,604.6 158.8,594.6 158.8,586.6 160.5,575.1 163.6,566.1 168.1,557.1 172.5,551.1 177.8,545.1 188.3,535.1 195.2,529.4 202.2,524.2 218.2,514 230.8,507.2 245.8,500.4 264.2,492.9 272.8,489.9 284.2,486.6Z"/>
<path fill="#009cff" d="M296.1,494.1 309.8,493.7 323.2,495.5 340.8,500.1 376.8,512.6 397.8,522.5 412.8,532.1 425.2,542.2 436.2,554 439.1,558.1 443.5,566.6 447,577.6 448.1,584.1 448.2,594.1 448,599.1 446.7,605.6 445.4,610.6 442.5,617.6 439.2,623.7 435.8,628.7 426.2,639.1 414.2,649.1 391.2,663.2 377.8,669.1 357.8,676.6 333.2,684.3 320.2,687.3 309.8,688.4 297.8,688.2 289.8,687.2 273.8,683.2 248.2,675 229.8,667.8 221.2,663.9 205.2,654.7 195.8,648.6 182.2,637.1 174.7,628.6 171.5,624.1 168.5,618.6 164.8,609.6 162.8,599.6 162.3,594.1 162.3,587.1 163.7,576.6 166.8,567.1 171.6,557.6 178.8,548.6 190.8,537.4 201.2,529.7 211.2,523.6 227.8,515.3 237.2,511.3 268.8,500.5 287.2,495.5Z"/>
<path fill="#00c8ff" d="M295.7,503.6 299.8,503.2 310.2,503.2 320.2,504.4 340.2,509 373.8,518 395.2,526.4 407.2,533 419.2,541.3 428.8,550.2 435.7,558.6 441.1,569.6 443.4,577.1 444.5,583.1 444.7,597.6 442.3,609.1 437.8,619.6 432.5,627.6 424.3,636.6 410.7,647.1 390.2,658 380.2,661.8 359.8,668.2 349.2,670.6 328.8,676.1 312.8,678.9 301.8,679.1 290.2,677.8 278.2,675.3 263.8,671.1 251.2,668.3 234.2,663.1 223.8,659.3 207.8,651.4 198.8,646.3 190.8,640.2 182.8,633.1 175.7,624.6 170.9,616.1 167.4,606.1 165.8,594.1 165.8,587.1 166.4,581.6 167,577.6 169,570.6 174.1,559.6 180.9,551.1 192.7,540.1 198.8,535.8 207.8,530.4 222.8,523.4 236.8,518.1 253.2,513.4 280.8,506.4Z"/>
<path fill="#00f1ff" d="M298,512.6 310.8,512.4 319.2,513.5 371.8,523.6 388.2,528.6 397.2,532.1 409.8,538.7 415.8,542.7 421.8,547.5 430.4,556.6 433.9,561.6 438.2,570.6 440.4,578.6 441.6,585.1 441.5,597.6 439.1,608.6 436.6,615.1 434.1,620.1 427.2,629.3 421.8,634.7 409.8,643.6 387.8,653.8 377.8,656.8 358.8,661.3 349.2,662.6 322.2,668.3 309.8,669.9 299.2,669.8 282.8,667.3 264.2,663.1 253.8,661.7 225.2,654.5 209.8,647.9 200.8,643.4 192.8,637.6 185.8,631.8 178.7,623.6 173.9,615.1 170.6,605.6 168.9,593.1 169,587.6 170,579.1 172.5,570.1 176.7,561.1 183.6,552.6 194.2,543.1 200.8,538.7 209.8,533.9 223.8,528.3 241.2,523.1 282.8,515Z"/>
<path fill="#2cffe4" d="M296.1,522.1 309.2,521.8 318.8,522.5 353.8,526.8 369.2,529.3 385.8,533.6 395.2,536.8 407.8,542.6 414.2,546.4 419.2,550.1 427.5,558.1 431.4,563.6 435.5,571.6 438.8,585.1 438.9,596.6 436.7,606.6 433.6,614.6 431,619.1 427.8,623.7 419.9,631.6 408.8,639.1 402.8,642 385.8,648.7 373.2,651.9 356.2,655.1 346.8,656 327.2,658.9 309.8,660.5 300.2,660.5 283.2,658.9 265.8,656.2 254.8,655.1 233.2,650.8 224.8,648.5 204.8,640.5 200.8,638.4 191.8,632.3 187.2,628.6 183.1,624.1 179.4,619.1 176.9,614.6 173.4,605.1 171.6,593.1 171.6,588.1 172.7,580.1 175,571.6 179.2,563.1 186.2,554.6 196.2,546.5 202.8,542.6 211.8,538.4 225.8,533.5 239.8,529.7 256.2,526.9Z"/>
<path fill="#5fffb9" d="M290.3,531.6 307.8,531.4 320.2,531.7 353.2,533.6 366.2,535.2 382.2,538.6 392.2,541.4 405.2,546.5 413.2,550.6 421.2,556.6 426.8,562.6 432.2,571.6 434.9,580.1 436.1,587.1 435.9,597.1 433.4,607.1 431.6,611.6 429.2,615.8 424.6,622.1 418.8,627.7 413.2,631.4 404.8,636 392.8,640.4 382.2,643.7 372.8,645.8 354.2,648.5 320.2,650.6 302.2,650.9 287.8,650.5 255.2,648.4 237.8,645.7 227.2,643.3 206.8,636.2 197.2,631.3 189.2,625.5 185.2,621.4 182,617.1 177.8,609.1 176.1,604.1 175,598.6 174.4,588.6 176.2,577.6 177.9,572.6 180.4,567.6 185.7,560.1 190.6,555.6 200.8,548.7 211.2,544 224.2,539.8 245.8,535 262.2,533.3Z"/>
<path fill="#9cff7e" d="M255.1,540.6 308.2,540.9 354.2,540.6 366.2,541.6 381.2,544.3 392.2,546.9 403.8,550.8 412.2,554.8 420.2,560.5 424.2,564.6 429.5,573.1 432.4,581.6 433.3,588.1 433.1,597.1 430.1,607.6 426.2,614.6 421.2,620.7 414.8,625.9 406.2,630.4 397.8,633.5 381.2,638 373.2,639.6 357.8,641.4 256.2,641.7 238.8,639.7 230.2,638.1 215.8,634.3 206.8,631.3 198.2,627.3 191.8,622.9 186.1,617.1 182.6,612.1 180.6,608.1 177.9,599.1 177.2,589.1 178.5,580.1 181.5,572.1 185.5,565.6 189.2,561.3 197.2,555.5 203.2,552.3 213.8,548.4 225.2,545.3 244.8,541.5Z"/>
<path fill="#c8ff4e" d="M250,547.1 262.2,547.1 300.2,549.8 308.2,549.9 355.2,546.9 365.2,547.4 373.2,548.4 385.8,550.5 396.2,552.9 404.2,555.5 411.2,558.5 418.8,563.4 422.2,567.3 427.1,574.6 430,583.1 430.7,587.6 430.7,593.6 429.7,600.1 427,607.6 423.9,612.6 419.3,618.1 413.8,622.3 404.8,626.6 396.2,629.3 373.2,633.9 353.8,635.4 310.2,632.5 301.8,632.4 256.2,635.4 237.8,633.9 222.2,631.1 214.2,629.2 204.2,626 195.7,621.6 189.8,616.7 184.5,609.6 181.2,601.6 179.8,594.1 180,586.1 181,581.1 182.5,576.6 184.8,572.1 190.2,564.7 195.2,560.9 201.2,557.6 213.2,553.3 221.8,551.2 237.8,548.4Z"/>
<path fill="#f1ff18" d="M243,553.6 256.8,553.3 300.8,558.8 310.8,558.8 354.8,553.2 365.2,553.3 372.8,553.9 394.8,557.2 402.8,559.3 408.8,561.4 415.8,565.2 418.6,567.6 423.8,574.7 426.3,580.1 428.1,588.1 428.1,594.1 427.4,598.1 424.8,605.6 423.1,608.6 418.2,614.7 413.2,618.6 407.8,621.3 398.2,624.2 388.8,626.3 376.8,627.9 371.8,628.5 354.2,629.1 310.8,623.5 300.8,623.5 265.8,628.1 253.8,629.1 238.2,628.4 216.2,625.1 205.2,622.2 197.8,618.9 192.2,614.6 187.2,608.5 184.2,601.9 182.5,594.1 182.5,587.1 184.5,579.1 187,574.1 192.2,567.1 197.2,563.7 201.8,561.4 206.8,559.6 216.8,557.1 226.2,555.4Z"/>
<path fill="#ffe400" d="M219,562.6 225.2,562.4 239.2,563.5 246.2,564.9 262.2,570.2 266.8,571.2 284.8,573.8 301.2,575.1 311.2,575 319.8,574.4 340.8,571.8 347.8,570.4 365.2,564.8 374.2,563.1 386.2,562.4 397.2,563.3 403.8,564.6 407.2,565.9 412.8,569.1 416.2,572.5 419.1,576.6 421.6,582.1 423,588.1 423,594.1 421.7,599.6 419.7,604.6 416.8,609.2 413.4,612.6 410.2,614.9 405.2,616.9 398.2,618.8 392.2,619.6 385.2,619.9 373.8,618.9 360.8,615.9 347.8,611.9 334.2,609.3 309.8,607.2 299.8,607.3 276.8,609.2 258.8,612.9 244.8,617.3 231.8,619.5 223.8,619.9 213.8,619 206.8,617.3 200.7,615.1 198.8,613.9 194.5,609.6 191.1,605.1 188.7,599.6 187.8,594.6 187.8,587.6 188.9,582.1 191.1,577.1 194.8,572.1 199.1,568.1 206.2,564.8 212.8,563.4Z"/>
<path fill="#ffb900" d="M212.6,567.6 222.8,567.2 228.8,568 236.2,570.1 242.2,572.9 251.5,579.6 258,585.6 260.9,590.1 261,591.6 260.4,593.1 255.9,598.6 247.2,606 241.8,609.5 233.8,613 228.2,614.4 219.8,615.1 212.2,614.3 207.8,613.3 205,612.1 200.1,608.6 196.8,605.1 194.9,602.1 193.4,598.6 192.5,594.6 192.4,588.1 194.5,580.6 199.2,574.2 201.8,571.9 204.2,570.4 207.2,569ZM381.2,567.6 386.8,567.2 393.2,567.4 402.2,569.8 408.1,573.6 411,577.1 413.7,582.1 415.2,587.6 415.4,591.6 414.7,596.6 413.4,600.6 411.2,604.6 407.8,608.6 400.2,613.1 394.8,614.5 385.8,615 379.2,614.3 370.8,611.8 363.5,608.1 354.3,601.1 348.5,595.6 346.6,592.6 346.4,590.1 348.4,586.6 354.2,581.1 360.2,576.4 365.9,572.6 370.2,570.6 375.8,568.7Z"/>
<path fill="#ff7e00" d="M214.7,571.6 219.8,571.4 224.2,571.9 227.8,572.7 231.4,574.1 235.2,576.4 240.8,580.5 244.8,584.7 246.9,588.1 247.7,590.1 247.6,592.1 245.2,596.9 240.2,602.2 233.2,607.1 229.2,608.8 224.2,610.1 219.2,610.6 212.8,610.2 208.8,609.1 205.2,607.2 201.2,603.6 199.1,600.6 197.1,596.1 196.5,591.1 197.1,586.1 199,581.6 201.2,578.5 205.8,574.4 209.2,572.7ZM384.6,571.6 391.2,571.5 396.8,572.5 399.8,573.6 404.8,577.7 407.5,581.6 409.1,585.1 410.2,589.1 410.3,592.1 408.1,599.6 403.8,605.5 397.2,609.4 393.2,610.4 386.8,610.6 381.8,610 377.2,608.5 372.2,606.2 368.2,603.6 362.3,597.6 359.6,593.1 359.3,590.1 360.9,586.6 364,582.6 368.2,578.6 377.2,573.4 381.2,572.1Z"/>
<path fill="#ff4e00" d="M214.1,575.1 219.8,574.9 224.2,575.8 228.2,577.4 231.7,579.6 235,582.6 237.2,585.2 239.6,589.1 240,592.1 237.2,597.1 232.8,601.7 228.2,604.7 223.8,606.3 219.2,607.1 215.2,607.2 211.8,606.5 208.2,605 205.2,602.7 202.9,600.1 201.1,596.6 199.9,593.1 199.9,589.6 200.6,586.6 202.6,582.6 207.8,577.3 210.8,575.9ZM385.9,575.1 388.8,574.8 393.2,575.2 398,576.6 401.2,579.1 403.2,581.5 405.2,584.6 406.3,587.6 406.9,592.1 404.7,598.6 401.2,603.1 397.8,605.5 395.2,606.5 392.2,607.2 388.2,607.2 382.8,606.3 379.2,604.9 371.7,599.6 369.2,596.6 367.2,592.6 366.9,590.6 367.6,588.6 369.5,585.1 372.1,582.1 379.2,577 382.8,575.7Z"/>
<path fill="#ff1800" d="M215.2,578.1 217.8,578.1 221.8,578.8 227.2,581.4 230.8,585.1 233,590.6 232.8,592.6 231.6,595.6 227.8,600.1 223.2,602.8 217.2,604.2 212.8,603.5 208.4,601.1 205.7,598.1 203.1,592.1 203.6,588.1 206.4,583.1 210.2,579.8ZM388.5,578.1 391.2,578.1 394.2,578.7 398.2,581 401.8,585.1 403.4,589.6 403.5,592.1 402.7,595.1 400.2,599.4 396.2,602.6 391.8,604.1 389.2,604.1 384.8,603.3 380.8,601.6 375.4,596.1 374,592.1 374.7,587.1 377.7,583.1 382.2,579.8Z"/>
<path fill="#e40000" d="M214.4,584.1 216.8,583.7 219.8,584.3 222.8,585.8 224.8,587.6 225.7,590.1 225.5,592.6 224.1,595.1 221.8,597.1 218.2,598.4 215.2,598.4 212.2,597 210.3,594.6 208.9,591.6 209.4,589.1 211.3,586.1ZM387.8,584.1 390.8,583.8 393.2,584.6 395.8,586.6 397.5,589.6 397.6,592.1 396.6,594.6 394.2,597 391.8,598.4 388.8,598.3 385,597.1 383.2,595.6 381.3,592.6 381.2,589.6 382.2,587.5 384.2,585.6Z"/>
<path d="M112.30 747.20V434.70H498.10" fill="none" stroke="#000028" stroke-opacity="0.75" stroke-width="0.9"/>
<path d="M497.80 434.40V747.20" fill="none" stroke="#000028" stroke-opacity="0.7" stroke-width="0.9"/>
<path d="M112.00 746.90H498.10" fill="none" stroke="#000028" stroke-opacity="0.65" stroke-width="0.9" stroke-dasharray="9 1.6"/>
<path d="M208.5 434.4v3.5M208.5 747.2v-3.5M112.0 669.0h3.5M498.1 669.0h-3.5M305.1 434.4v3.5M305.1 747.2v-3.5M112.0 590.8h3.5M498.1 590.8h-3.5M401.6 434.4v3.5M401.6 747.2v-3.5M112.0 512.6h3.5M498.1 512.6h-3.5" fill="none" stroke="#000020" stroke-opacity="0.6" stroke-width="0.8"/>
<text transform="translate(54.54 758.07) scale(1.0200 1.0800)" font-size="32.00">-0.3</text>
<text transform="translate(79.26 779.50) scale(1.0200 1.0800)" font-size="32.00">-0.3</text>
<text transform="translate(38.22 679.87) scale(1.0200 1.0800)" font-size="32.00">-0.15</text>
<text transform="translate(168.53 779.50) scale(1.0200 1.0800)" font-size="32.00">-0.15</text>
<text transform="translate(91.16 601.81) scale(1.0200 1.0800)" font-size="32.00">0</text>
<text transform="translate(296.29 779.50) scale(1.0200 1.0800)" font-size="32.00">0</text>
<text transform="translate(49.06 523.47) scale(1.0200 1.0800)" font-size="32.00">0.15</text>
<text transform="translate(372.42 779.50) scale(1.0200 1.0800)" font-size="32.00">0.15</text>
<text transform="translate(65.38 445.27) scale(1.0200 1.0800)" font-size="32.00">0.3</text>
<text transform="translate(477.10 779.50) scale(1.0200 1.0800)" font-size="32.00">0.3</text>
<text transform="translate(278.19 811.50) scale(0.9945 1.0800)" font-size="32.00">x/m</text>
<text transform="translate(24.80 618.80) rotate(-90) scale(1.0800 1)" font-size="32.00">y/m</text>
<text x="5.97" y="438.00" font-size="36.50" font-weight="bold">(d)</text>
</g>
<g id="pe">
<rect x="633.00" y="434.90" width="382.00" height="309.10" fill="#00009c"/>
<path fill="#0000c8" d="M822.6,457.6 824.2,457.3 826.2,457.6 830.2,460.4 836,467.6 838.7,474.1 841.1,494.1 842.1,538.1 842.1,641.6 841.1,684.6 840.4,692.6 838.8,705.1 836.6,710.6 829.8,719.4 826.8,721.8 824.8,722.5 822.9,722.1 821.2,721.2 815.5,715.6 812.2,711.1 809.9,705.6 807.4,685.1 806.4,641.1 806.4,538.1 807.4,493.6 809.3,477.1 810,473.6 811.5,469.6 815.8,463.4 819.6,459.6ZM704.4,474.6 709.2,474.7 715.2,476.3 721.2,479.2 727.8,483.6 734.8,489.3 743.8,498 757,513.1 768,528.1 778.1,547.6 784.6,564.1 787.6,576.1 789.3,586.1 789.1,595.6 787.5,604.1 784.6,615.1 776.6,635.1 772,644.1 767,652.6 753.2,670.9 742.8,682.8 735.2,690 720.8,700.4 713.9,703.6 707.8,705.1 702.1,704.1 698.2,701.9 696.4,700.1 693.6,695.6 692.4,692.1 691.7,687.1 691.7,683.1 692.7,672.1 694.6,663.6 700.5,643.6 701.4,637.6 700.7,633.6 697.8,628.1 687.1,618.6 681.6,613.1 674.5,604.1 670.5,597.1 669.1,592.6 668.9,590.1 669.1,587.1 670.4,583.1 674.2,575.6 681.6,566.1 687.1,560.6 697.8,551.3 700.8,545.6 701.5,542.1 700.9,538.1 699.2,530.5 696.6,522.6 693.2,509.6 692.1,502.1 691.7,493.1 692.6,486.6 695.1,481.1 698.7,477.1 702.2,475.1ZM940,474.6 945.8,474.9 951,478.1 953.8,481.7 955.2,484.8 956.2,487.6 956.8,492.1 956.9,501.1 955.9,507.1 947.4,539.1 947.1,542.6 948.2,547.1 950.2,550.6 962.9,562.1 967.8,567.1 972.1,572.6 975,576.6 977.5,581.6 979.3,586.6 979.6,589.6 979.4,592.6 978.5,595.6 975.6,601.6 973.6,604.6 966.9,613.1 950.2,628.6 948,632.6 947,637.1 947.4,640.6 955.9,672.1 956.9,678.1 956.8,687.1 956.1,692.1 954.9,695.6 951.8,700.5 949.8,702.1 946.4,704.1 941.2,705.1 934.8,703.7 928.2,700.6 920.8,695.7 914.8,690.9 905.7,682.6 895,670.6 887.9,661.6 876.5,644.1 871.9,635.1 867.5,624.6 863,612.1 860.5,601.6 859.2,592.6 859.4,583.6 861.5,573.1 864.4,562.6 870,548.6 874.4,539.1 886.5,519.6 892.9,511.1 904.1,498.6 920.1,484.1 926.8,479.5 931.8,476.9 935.2,475.6Z"/>
<path fill="#0000f1" d="M823.2,468.1 824.8,467.9 826.2,468.8 829,471.6 830.9,474.6 833.7,482.1 836.9,494.1 840.1,523.1 840.9,549.1 840.8,641.1 840.2,655.6 838.9,669.6 837,684.6 832.2,701.8 828.8,707.9 826,710.6 824.2,711.5 822.8,710.9 820.4,708.6 817,703.6 814.8,697.1 811.5,684.6 808.4,656.6 807.6,630.1 807.6,548.1 808,529.6 809,515.6 811.4,495.1 814.8,482.4 816.5,477.1 818.5,473.1 820.8,470.3ZM706.2,481.6 711.8,482 717.2,483.8 725.2,487.9 732.2,492.4 741.2,499.7 747.2,505.6 753.2,512.1 759.9,520.6 765.4,528.1 769,534.1 776,547.6 779.2,555.1 783.8,568.1 786.5,579.1 787.6,586.6 787.4,595.1 785.8,603.6 782.9,614.6 774.4,635.1 770,643.6 765.1,651.6 751.2,669.4 740.8,680.4 736.2,684.2 729.2,689.2 719.2,694.6 712.2,697.3 708.2,698 704.8,697.3 701.2,694.6 699.1,690.6 697.8,684.6 697.6,674.1 698,670.1 700.1,658.1 702.9,647.1 704.1,639.1 704.1,636.1 703.3,633.1 701.5,629.1 699.8,626.4 687.8,615.1 679.8,605.6 674.9,597.6 673.2,593.1 672.7,590.1 673,587.6 674.2,583.6 676.2,579.1 678.4,575.6 683.2,569.1 686.8,565.1 699.8,552.9 701.8,549.6 703.5,545.6 704.2,542.1 703.7,537.1 702.3,529.1 699.5,518.1 697.8,507.6 697.7,495.1 698.9,489.6 700.5,486.1 703.1,483.1ZM939.2,481.6 941.8,481.6 943.8,482.1 945.8,483.4 947.7,485.6 949.8,490.1 951.2,498.6 951.1,504.6 950,512.6 944.4,540.1 944.4,543.1 945.6,547.6 948.2,552.3 960.2,563.7 965,568.6 968,572.6 972.8,580.1 974.9,585.1 975.9,589.6 975.2,593.6 972.9,599.1 968,606.6 965,610.6 960.2,615.6 948.2,627 945.5,632.1 944.3,636.6 944.6,641.1 950,666.1 951,673.6 951.3,679.6 950.4,686.6 948.3,693.1 944.8,696.8 942.8,697.7 940.8,698.1 936.2,697.3 928.8,694.3 920.2,689.6 910.8,682.9 904.5,677.1 897.8,670 889.7,660.1 878,642.6 873.8,634.6 869.5,624.6 864.4,610.6 862.1,600.6 860.9,592.1 861,584.6 862.5,576.6 865,566.6 867.7,559.1 873.4,545.6 876.7,539.1 888.2,521.1 897.4,509.6 906.2,500.6 910.2,497.2 918.2,491.2 924.2,487.4 931.8,483.6Z"/>
<path fill="#002cff" d="M823.4,483.1 824.2,482.7 825.2,483.3 828.2,488.3 832.8,497.2 835.2,505.1 837.9,517.1 839,524.6 839.8,533.6 840.2,549.1 840.2,630.6 839.1,654.6 836.5,669.1 833.2,680.8 827.8,692 825.2,696 824.2,696.6 823.2,696 822.2,694.5 816.2,683.3 812.2,670.3 809.4,654.1 808.3,630.1 808.3,548.6 809.3,525.6 811.2,513.9 814.8,499.6 816.9,494.6ZM708.2,489.6 713.8,490 720.2,491.8 729.2,495.6 735.8,499.6 739.8,502.3 745.8,507.5 751.2,513.2 758.8,522.2 763.9,529.1 767.6,535.1 774.8,548.6 778.1,556.1 782.8,569.1 785.9,582.6 786.4,587.6 786.3,594.1 784.8,602.1 782.3,612.1 779.5,619.6 771.2,637.9 764.8,648.9 759.8,655.8 749.2,668.3 742.2,675.1 736.8,679.5 729.8,683.7 723.2,686.4 715.2,689.1 709.2,690 707,689.1 705.4,686.1 703.8,678.6 703,672.6 703.9,660.1 706.6,640.6 706.6,636.6 705.9,633.1 704.2,629.1 701.7,625.1 689.9,613.1 682.7,604.1 678.5,596.6 676.7,590.1 677.2,586.6 678.6,582.6 682.4,575.6 689.9,566.1 701.8,554.2 704.4,549.6 706,545.6 706.7,542.6 706.6,538.6 703.9,519.6 703,507.1 705,494.6 706.5,491.1ZM937,489.6 940.2,489.6 941.8,490.8 943.5,494.6 945.2,501.6 945.5,508.1 945.2,514.6 941.8,540.1 942,543.6 943.1,547.6 944.7,551.1 946.7,554.1 958.2,565.7 964.8,573.6 969.4,581.1 971.3,586.1 972,589.6 971.5,592.6 969.4,598.1 965.2,605.1 958.7,613.1 946.3,625.6 944.2,629.1 942.8,632.6 941.9,636.1 941.8,640.1 945.2,664.1 945.3,675.6 944.8,680.1 942.8,687.1 941.2,689.4 939.2,690 933.8,689.3 926.8,686.9 919.8,684 911.8,679.5 903,672.1 896.8,665.6 891,658.6 879.4,641.6 875.3,634.1 870.6,623.6 865.5,609.6 863.3,600.6 862.1,592.1 862.2,585.1 864,575.6 866.2,567.1 869,559.6 873.7,548.6 878,540.1 889.2,522.9 899.2,511 909.8,501.6 919.8,495.6 926.2,492.6 931.8,490.7Z"/>
<path fill="#005fff" d="M823.9,496.6 824.8,496.7 826.2,497.8 830.8,503.4 833,508.1 836.4,518.1 837.9,524.6 838.8,531.5 839.5,550.1 839.5,630.1 838.6,650.1 837.8,655.8 836.4,661.1 832.2,672.9 829.2,678 825.8,682 824.2,682.7 822.2,681.5 817.6,675.6 814.3,668.1 812.2,661.6 810.8,655.8 809.9,649.6 809,629.1 809,549.1 809.9,529.1 812.1,518.1 816.2,506.4 818.8,502 822.2,497.8ZM712.9,498.1 717.8,497.9 725.2,499.2 730.2,500.8 737.2,504.3 742.8,508.1 746.8,511.7 757.5,523.6 762.1,529.6 765.9,535.6 773.2,548.9 776.8,556.6 781.5,569.1 784.1,579.6 785.2,587.1 785,595.1 783.2,603.6 780.5,613.6 771.2,634.6 761.8,650.2 749.2,665.1 743.8,670.5 738.8,674.4 734.2,677 728.2,679.4 721.8,681 715.8,681.7 712.8,681.4 711.5,680.1 709.4,674.6 708.3,669.6 708,661.1 709.2,638.6 708.9,635.1 707.7,631.1 703.5,623.6 692.2,611.5 685.5,602.6 682,595.6 680.7,590.1 681,587.1 682.3,583.1 686,576.1 692.4,567.6 703.3,556.1 706.3,551.1 708.3,546.6 709.1,543.1 709.2,540.1 708.1,519.6 708.2,511.1 710.1,502.6 711.4,499.6ZM929.4,498.1 933.8,497.8 936.2,498.3 937.8,500.6 939.4,505.6 940.4,511.1 940.7,517.6 939.3,541.6 939.8,545.1 941.4,549.6 945.2,556.1 955.7,567.1 961.1,573.6 966,582.1 967.6,586.6 968.1,589.6 967.6,592.6 966,597.1 961.1,605.6 956.1,611.6 944.8,623.9 942.3,627.6 940.8,631.1 939.6,635.1 939.2,639.1 940.7,660.6 940.2,669.1 937.6,679.6 936.2,681.3 933.8,681.7 929.2,681.4 922.2,679.8 915.2,677.4 911.2,675.4 905.8,671.3 901.2,667.1 890.8,655.3 879.8,639.1 871.7,622.6 866.6,609.1 864.8,601.6 863.3,592.6 863.5,584.1 865.7,573.6 868,565.6 876.8,545.9 881.7,537.1 886.9,529.1 891.8,522.7 898.8,514.7 904.2,509.4 909.2,505.5 913.2,503.2 919.2,500.6 925.2,498.8Z"/>
<path fill="#009cff" d="M719.9,504.6 724.8,504.3 729.2,504.8 735.2,506.8 738.8,508.5 743.2,511.6 747.8,515.7 759.8,529.4 769.3,544.6 776.9,560.1 780.6,570.1 783,580.1 784.1,587.1 783.8,595.1 782,603.6 779.5,612.6 776,621.1 769.8,634.1 760.8,648.6 748.8,662.6 741.2,669.3 737.2,672 733.8,673.4 728.2,674.8 723.2,675.3 719.2,675 716.8,674.1 715.2,671.9 713.2,667.1 712,657.6 711.7,637.1 710.8,632.6 709.5,629.1 705.3,622.1 694.8,610.1 688.7,601.6 685.6,595.1 684.6,590.1 685.9,583.6 689.7,576.1 695.3,568.6 705.1,557.6 710.1,548.6 711.7,542.1 711.8,525.1 712.8,513.6 714,510.1 715.8,506.6 717.2,505.4ZM823.7,504.6 826.2,505.3 829.2,507.9 832.2,513.3 835.5,520.6 836.9,525.6 838.1,533.1 838.9,550.1 838.9,630.1 837.8,648.6 836.4,656.1 832.2,666.5 828.8,672 826.2,674 824.2,674.7 821.2,673.4 818.8,670.7 815.8,665.5 812.2,656.6 810.4,645.6 809.6,629.1 809.6,549.1 810.7,530.6 812.1,523.6 815.8,514.2 819.4,507.6 821.2,505.9ZM920.5,504.6 924.8,504.4 930.2,505.1 932.2,506.1 933.8,508.5 935.6,513.1 936.5,518.6 936.7,540.6 937.1,544.1 938.2,548.1 939.9,552.1 943.2,557.5 950.3,565.1 958.3,575.1 962.6,583.1 964.2,589.1 963.9,592.1 962.9,595.6 958.3,604.1 953.2,610.6 943.2,622 939,629.1 937.7,632.6 936.8,636.6 936.8,657.6 935.7,665.6 934.2,669.8 932.2,673.5 930.3,674.6 927.2,675.1 918.2,674.4 913.2,672.9 910.2,671.4 906.2,668.6 900.2,663.1 888.8,649.8 879.2,635.1 871.6,619.1 867.5,608.1 864.4,592.6 864.6,584.6 868.3,568.6 871.6,560.1 876.3,550.1 883.8,536.9 892.2,525 899.8,516.7 904,512.6 911.8,507.4 916.8,505.5Z"/>
<path fill="#00c8ff" d="M725.5,509.1 728.2,508.7 731.8,509 736.2,510.3 740.8,512.8 747.2,518.2 758.8,530.9 768.1,545.6 775.7,560.6 779.6,570.6 781.9,580.1 783,587.1 782.8,594.6 779.1,610.1 775.5,619.1 769.4,631.6 764,640.6 758.8,648.4 754.8,653.2 743.2,664.7 740.2,667 735.8,669.5 728.8,670.7 724.8,670.3 721.8,669.3 719.8,667.8 717.6,664.6 715.3,654.1 714.2,637.1 712.5,630.1 707.5,621.1 697.7,609.1 691.6,600.1 689.2,594.6 688.5,590.1 689.4,584.1 692.5,577.6 698.1,569.6 707,559.1 712.8,548.6 714.2,542.6 715.3,525.1 717.6,514.6 720.5,511.1ZM916.3,509.1 920.8,508.7 925.2,509.9 928.6,511.6 930.8,514.4 933,522.1 934,540.1 934.5,544.1 935.7,548.6 937.8,553.1 941.5,559.1 948.1,566.6 955.3,576.1 959.1,583.6 960.4,589.1 959.6,594.6 955.3,603.1 941.2,620.8 937.8,626.1 935.7,630.6 934.3,636.6 933.1,657.6 930.9,664.6 928.8,667.6 927,669.1 924.2,670.1 920.2,670.7 913.2,669.7 906.8,665.9 901.3,661.1 894.2,653.7 887.2,644.6 880.1,633.6 872.6,618.1 868.6,607.6 865.5,592.1 865.6,585.1 869,570.1 873.9,558.1 882.1,542.6 890.2,530.4 901.3,518.1 908.2,512.5 912.2,510.3ZM822.8,509.6 825.8,509.7 827.9,511.1 832.8,518.7 834.8,523 835.9,526.6 837.2,533.6 838.1,549.6 838.1,629.6 837.2,645.2 835.7,654.1 832.2,661.8 830.2,665.2 827.8,668.4 826.2,669.5 824.2,669.9 821.2,668.8 818.8,665.9 813.1,655.1 811.2,645.2 810.4,629.6 810.4,549.6 811.2,534.1 812.6,526.1 814.9,520.1 820.1,511.6Z"/>
<path fill="#00f1ff" d="M728.4,512.6 730.8,512.4 735.2,513.1 741.2,516.3 745.8,520 752.2,526.3 760.2,535.8 767.2,546.6 774.9,561.6 778.6,571.1 781,580.6 782.1,587.1 781.9,594.1 778.3,609.1 774.4,618.6 766.6,634.1 757.2,647.6 746.2,658.9 738.8,664.7 734.8,666.7 731.8,667 728.8,666.8 725.3,665.6 723.2,664.1 721.2,661.6 718.5,652.6 716.6,635.6 714.9,629.6 709.6,620.1 700.2,608.1 694.5,599.1 692.7,595.1 692,590.6 692.7,584.6 695.4,578.6 700.6,570.6 708.8,560.6 715.2,549.1 716.6,544.1 718.5,526.6 721,518.1 723.7,515.1ZM915.9,512.6 918.8,512.4 921.3,513.1 925.5,515.6 927.5,518.1 929,521.6 929.9,525.6 931.4,540.6 933.3,549.1 939.7,560.6 945.6,567.6 952.5,577.1 955.7,583.6 956.8,587.1 957,589.6 956.2,594.6 952.6,602.1 939.3,619.6 935.8,625.1 933.3,630.1 931.9,635.1 929.6,655.6 927.8,660.6 926.2,663 923.8,665.3 920.4,666.6 917.8,667 914.2,666.8 911.5,665.6 908.2,663.8 903.2,659.8 891.8,648.1 884.8,638.4 879.5,629.6 874,618.6 870.9,611.1 868.1,601.6 866.4,591.6 866.6,585.1 870,570.6 874.5,559.6 883.1,543.6 891.8,531.2 902.2,520.4 909.1,515.1 913.2,513.1ZM823.7,513.1 825.2,513.3 826.2,514 831.8,521.3 834.2,526.8 835.8,533.2 837.2,549.6 837.5,582.1 837.2,629.6 835.8,646.3 834.2,653 831.8,658 827.8,663.9 825.8,665.8 824.2,666.2 822.8,665.8 821.2,664.5 817.8,659.7 814.8,654.3 813.2,648.6 812,640.6 811.3,630.1 811,597.1 811.3,549.6 812.7,533.6 814.2,526.6 816.8,521.3 821.8,514.5Z"/>
<path fill="#2cffe4" d="M731.2,518.6 733.8,518.8 737.2,519.9 744.2,523.9 749.8,527.8 754.8,532.1 760.2,538.4 768.7,551.6 776.3,567.6 779.8,579.6 781.2,588.1 780.8,594.6 777.2,609.1 773.2,618.6 765.2,634 757.8,644 750.2,651.3 738.8,658.8 735.2,660.3 732.2,661 728.8,660 726.2,657.3 723.7,651.1 719.9,635.1 717.6,628.6 711.6,618.6 702.8,607.1 698.2,599.6 696,595.1 695.1,590.1 695.8,585.1 698.2,579.6 703.2,571.6 711.1,561.6 717.9,550.1 719.8,544.6 723.7,528.1 726.2,522.2 728.2,519.9ZM915.6,518.6 917.8,518.7 919.8,519.6 921.7,521.1 922.8,522.7 924.7,527.6 928.7,544.6 930.5,550.1 937.4,561.6 944.2,570.1 949.8,578.2 952.5,584.1 953.8,589.6 953,594.1 950,600.6 944.8,608.5 936.9,618.6 930.6,629.1 928.8,634.1 924.7,651.6 923.1,656.1 920.2,659.7 918.2,660.7 916.2,661 913.2,660.3 909.8,658.8 904.8,655.9 897.8,650.9 892.2,645.8 884.2,635.4 881,630.1 875.8,619.8 871.2,609.1 868.5,598.6 867.3,591.1 867.6,585.1 871.1,570.6 875.9,559.1 880.2,550.7 884.2,544.1 890.2,536 897.8,528.6 909.2,520.9ZM823.8,523.6 825.8,524.3 829.1,528.6 831.8,534.2 833.8,540.3 835.5,550.6 836.4,583.1 836.2,611.1 835.3,630.6 833.7,639.6 830.8,647.6 828,652.6 825.8,655.2 824.2,656 822.2,654.7 819.1,650.6 816.5,644.6 814.6,638.6 813,628.6 812.1,596.1 812.2,568.2 813.2,548.6 814.9,539.6 817.6,532.1 820.2,527.3 822.2,524.8Z"/>
<path fill="#5fffb9" d="M732.7,526.1 734.8,526.1 738.2,526.9 747.8,530.7 754.2,534.9 759.8,540.3 767.4,551.6 774.2,565.6 777.2,573.6 779.8,584.1 780.2,588.1 779.9,594.6 776.3,608.6 771.8,619.2 766.5,629.6 763.8,633.9 757.8,641.4 752.2,646.1 747.8,648.8 743.2,650.7 738.2,652.4 733.8,653.4 731.8,652.7 729.8,649.6 723.3,633.1 719.5,625.6 703,602.1 699.4,595.1 698.4,590.1 698.9,586.1 700.7,581.6 705.6,573.1 713,563.6 720.2,552.6 723.3,546.1 729.1,531.1 731.2,527.4ZM913.3,526.1 916,526.1 917.8,527.7 927.7,551.6 933.4,560.6 942.2,572.1 946.4,578.6 949.1,584.1 950.4,589.6 949.7,593.6 947.6,598.6 942.6,606.6 934.6,617.1 928,627.1 918.2,650.6 916.8,652.9 915.2,653.4 908.2,651.8 898.2,647.4 891.8,642.4 885.3,634.6 880.6,627.1 875.8,617.3 872.2,608.8 869.5,598.6 868.3,591.6 868.5,585.1 872,571.1 877.2,558.9 881.3,551.1 885.2,544.9 890.2,538.6 896.2,533.4 902.2,530 908.8,527.4ZM823.3,536.1 824.2,535.7 825.2,536.2 827.8,539.4 830.2,543.6 832.6,549.6 834.4,565.6 835,583.1 834.6,610.6 832.8,629.1 829.2,638.1 825.8,643 824.2,644 822.8,643 819.2,638.1 815.8,629.6 814.1,613.6 813.5,596.1 813.9,568.6 815.6,551.1 816.4,548.1 818.8,542.6Z"/>
<path fill="#9cff7e" d="M736.2,533.6 742.2,533.5 750.2,535.5 756.2,539 761.2,544.5 766.7,552.6 773.7,567.1 776.1,573.6 779.2,587.1 779,594.1 775.7,607.1 771.7,616.6 764.8,630.2 758.2,638.4 753.8,642.3 748.2,644.9 740.8,646 735.8,645.5 733.8,643.7 722.9,625.1 707,603.1 702.8,595.1 701.7,590.6 701.9,587.6 702.7,584.6 707.7,575.1 721.4,556.6 733.7,535.6 734.8,534.4ZM905.4,533.6 912.2,533.6 913.8,534.4 914.8,535.6 926.7,556.1 941.1,575.6 945.8,584.3 946.9,589.6 945.8,595.3 941.1,603.6 925.2,625.6 915.2,643 913.2,645.3 909.2,646 902.2,645.4 896.8,643.5 891.2,639.4 885.8,633.1 881.8,626.9 873.9,610.1 871.2,601.6 869.3,592.1 869.4,585.6 872.6,572.6 876.6,562.6 882.6,551.1 887.2,544.5 892.8,538.8 898.2,535.5ZM823.1,545.6 824.8,545.3 826.8,546.6 828.8,548.6 830.2,551.6 832.5,566.1 833.4,583.1 833.4,596.6 832.8,610.1 830.5,626.6 829.8,629.1 828.7,631.1 826.2,633.6 824.2,634.5 822.8,634 820.2,631.8 818.2,627.6 816,613.1 815.1,596.1 815.4,574.1 817,559.1 818.8,550.1 820.2,548Z"/>
<path fill="#c8ff4e" d="M743.2,538.1 748.8,538 753.8,539.7 757.2,542.1 762.8,548.7 766.2,554.3 773.6,569.6 776.2,577.6 778.3,587.1 778.1,593.6 774.8,606.6 771.8,614 764.9,627.6 761.2,632.8 756.2,638.1 752.2,640.7 748.2,641.7 741.2,640.7 738.2,639.4 736.2,637.6 710.3,603.1 705.7,594.1 705,590.6 705.7,585.6 711.4,574.6 736.3,541.6 738.8,539.7ZM899,538.1 903.8,538 907.8,538.8 910.8,540.2 914.2,543.9 924.7,558.6 937.8,575.6 942.7,585.1 943.5,589.1 942.8,594.1 937.8,603.6 914.8,634.9 911.3,638.6 909.8,639.6 905.8,641.2 901.2,641.8 896.8,640.9 892.2,638.1 887.5,633.1 883.5,627.6 877.6,616.1 873.9,607.1 870.9,596.1 870.2,591.6 870.4,585.6 873.6,573.1 877.4,563.6 882.8,553.3 887.2,546.6 890.8,542.6 894.8,539.8ZM823,550.6 824.8,550.4 826.2,551 827.3,552.1 828.1,554.1 830.9,568.6 831.8,583.6 831.8,596.6 830.4,614.1 827.7,626.6 826.2,628.7 824.2,629.4 821.8,628.3 820.3,625.1 817.6,610.6 816.7,595.6 816.7,582.6 818,566.1 820.5,553.6 821.6,551.6Z"/>
<path fill="#f1ff18" d="M746.7,541.1 750.8,541.1 755.2,543 759.2,546.7 763.8,552.7 770.8,565.9 773.6,572.6 776.2,582.1 777.3,587.6 777.1,593.6 773.8,606.1 770.8,613.4 764.2,625.9 760.2,631.5 756.2,635.6 752.8,637.9 749.2,638.8 744.8,637.7 740.2,634.8 729.8,623.7 721.8,614 712.7,601.6 708.9,593.6 708.2,590.6 708.7,586.6 712.3,578.6 720.4,567.1 733.2,551.5 738.8,545.9 743.2,542.4ZM897.8,541.1 900.8,541 904.8,542.1 908.4,544.6 914.2,550 928.1,567.1 935,576.6 939.8,586.4 940.3,589.6 939.8,593.4 935,602.6 928.1,612.1 916.8,626.2 912.8,630.9 907.8,635.2 903.8,637.7 899.8,638.8 896.4,638.1 892.8,636 888.8,632.1 884.2,626.3 878.4,615.1 874.9,606.6 871.8,595.6 871.2,591.6 871.4,585.6 874.2,574.6 880.2,560.6 884.8,552.6 889.2,546.7 892.8,543.5ZM824.2,554.6 825.2,555.5 825.8,557 828.2,567.1 829.7,586.1 829.7,595.6 828.6,609.6 825.8,622.3 825.1,624.1 824.2,625 823.2,624.2 822.8,622.8 820.2,612.2 819.3,604.1 818.8,593.1 818.8,583.6 819.9,569.6 822.8,557 823.2,555.5Z"/>
<path fill="#ffe400" d="M748,545.6 751.8,545.8 755.2,547.5 759.8,551.4 763.2,555.7 768.8,565.1 772.5,573.1 775.2,582.9 776.1,588.1 775.9,593.6 773,604.6 770.1,611.6 766.8,618 761.8,625.8 758.8,629.2 753.8,632.8 749.8,634.1 745.8,632.9 741.2,629.9 733.2,622.3 727.2,615.4 722.8,609.8 715.8,599.6 713.8,595.4 712.3,590.1 713,586.6 715.7,580.1 723.4,568.6 732.6,557.6 737.2,552.9 743.2,547.9ZM897.7,545.6 900.8,545.7 904.2,547.2 909.8,551.3 914.2,555.8 925.2,568.9 931.3,577.6 934.5,583.6 936.2,589.6 935.3,593.6 932.3,600.1 923.2,612.9 910.2,627.6 903.8,632.4 899.2,634.1 895.2,633 890.8,630 886.8,626 883.2,620.7 879.7,614.6 876,606.1 873.2,596.9 872.4,591.6 872.5,586.1 874.5,578.1 876.2,572.6 880.8,562.9 885.8,555 888.8,551.4 893.2,547.5Z"/>
<path fill="#ffb900" d="M748.9,550.6 752.8,551.1 757.8,554 761.2,557.2 765.2,562.6 768.8,568.6 771.5,574.6 774.2,584.1 774.8,588.1 774.5,593.6 772.2,602.4 769.2,609.7 765.8,616.3 760.8,622.7 757.8,625.7 753.8,627.9 750.2,628.8 746.2,627.7 741.2,624.4 736,619.6 729.7,612.6 725.8,607.8 719.9,598.6 717.6,594.1 716.9,590.1 717.3,586.6 718.5,583.6 722.4,576.6 726.4,570.6 734.8,560.9 738.8,557.1 744.8,552.4ZM897.5,550.6 900.2,550.8 903.8,552.4 908.2,555.7 913.8,561 922.1,570.6 926.1,576.6 930.7,585.1 931.6,589.6 931.1,593.1 929.4,597.1 921.7,609.1 912.8,619.5 907.8,624.1 902.4,627.6 898.8,628.8 895.2,628.1 890.8,625.7 887.8,622.8 883.2,617.1 877.3,605.6 874.5,596.6 873.7,591.6 873.9,586.1 875.9,578.1 877.8,572.9 882.2,564 886.2,558.4 889.8,554.8 894.2,551.8Z"/>
<path fill="#ff7e00" d="M748.8,555.6 752.2,555.3 756.2,556.9 760.2,559.9 763.8,563.9 767.2,569.5 770,575.1 771.8,580.4 773.2,587.4 773.1,593.1 771.4,600.1 769.8,604.7 765.8,612.6 763.2,616.4 758.8,620.9 755.6,623.1 752.2,624.1 748.8,623.6 746.4,622.6 741.2,619.2 737.2,615.6 728.3,605.1 723,596.1 721.6,593.1 721.2,590.6 721.3,587.6 722.2,585.2 725.6,578.6 729.8,572.2 739.2,561.7 744.2,558ZM895,555.6 897.8,555.2 901.2,556.2 905.2,558.6 910.8,563.1 920.2,574.1 926.2,585.1 927.3,589.1 927,592.6 924.7,597.6 919.5,606.1 915.8,610.7 909.8,617.1 905.2,620.7 900.8,623.3 897.2,624.1 893.8,623.4 891.3,622.1 884.2,615.1 878.8,605.1 876.2,597.3 875.2,592.1 875.3,586.6 876.8,580.4 878.5,575.1 881.2,569.6 884.6,564.1 888.2,559.9 891.8,557.2Z"/>
<path fill="#ff4e00" d="M749.7,561.1 752.8,560.8 756.8,562.1 760.2,564.4 763.2,567.5 765.9,571.6 768.8,577.5 771.4,587.6 771.3,593.1 769.8,599 767.8,604.1 764.3,610.6 761.8,613.7 759.2,615.8 755.8,617.7 752.8,618.6 749.2,618 745.2,616 741.2,613.2 736.5,608.6 732.8,604.1 729.4,598.6 727.2,594.1 726.3,590.1 726.6,587.6 727.8,584.1 733.6,574.1 741.8,565.6 746.2,562.7ZM894.3,561.1 897.8,560.8 901.8,562.3 906.2,565.3 911.2,570.2 915.3,574.6 918.7,580.1 921.3,585.6 922.2,589.6 921.6,593.1 920.2,596.6 916.1,603.6 912.2,608.3 907.4,613.1 904.8,615.1 900.2,617.7 896.8,618.6 893.8,618.1 890.2,616.4 887.2,614.2 884.8,611.4 882.2,607.1 879.8,601.8 877.7,595.6 877.1,592.1 877.1,586.6 878.2,582 879.9,577.1 882.8,571.3 884.8,568.1 887.8,564.8 890.8,562.7Z"/>
<path fill="#ff1800" d="M751,566.6 753.8,566.3 756.8,566.8 759.2,568.1 761.8,570.3 766.9,579.1 769.3,587.6 769.3,592.1 768.8,595 766.9,600.1 763.8,606.1 761.8,609.1 759.8,610.9 757.2,612.3 754.2,613 751.2,612.7 748.4,611.6 744.8,609.6 740.8,606.5 734.8,598.8 732.2,593.6 731.7,591.1 732.2,586.1 737.2,576.9 744.9,569.6ZM892.7,566.6 895.8,566.3 899.2,567.1 902.4,568.6 906.1,571.6 912.1,578.1 916.1,585.6 916.8,588.6 916.7,592.1 915.8,594.9 912.8,600.4 908.8,605.4 906.2,607.9 902.2,610.7 898.8,612.4 895.8,613 890.8,612 886.8,609.1 881.6,600.1 879.2,592.1 879.4,586.1 881,580.6 882.8,576.8 887.2,569.7 889.8,567.8Z"/>
<path fill="#e40000" d="M752.6,573.6 754.8,573.5 757.2,574.3 762.8,578.4 765.5,582.6 766.9,588.1 766.6,593.6 764.2,599.1 759.2,604.1 756.8,605.5 754.8,605.9 752.8,605.7 749.8,604.5 744.5,600.6 740.2,595.3 738.6,590.1 739.8,585.1 742.8,580.5 747.8,576.1ZM893.1,573.6 895.2,573.5 897.8,574.2 900.9,576.1 904.2,578.9 908.2,584.1 909.9,589.6 908.6,594.6 905,599.6 899.8,604 897.2,605.3 894.8,605.9 892.2,605.6 890.2,604.8 885.8,600.9 882.8,596.1 881.5,591.1 881.9,586.1 884.2,580.3 888.2,576.2Z"/>
<path fill="#b90000" d="M754.2,581.1 757.2,581 760.5,582.1 762.2,584.1 763.3,587.1 763.6,590.6 762.8,594.2 760.8,597 757.8,598.6 754.2,598.2 751.2,596.7 747.8,593.7 746.1,590.6 746.3,588.1 747.8,585.6 751.2,582.6ZM890.7,581.1 894.2,581.1 897.2,582.6 900.8,585.6 902.5,589.1 902,591.6 899.8,594.8 895.8,597.6 892.2,598.6 889.8,598.2 887.2,596.5 885.7,594.1 884.9,590.6 885.1,587.1 886.2,584.1 888,582.1Z"/>
<path d="M633.30 744.00V435.20H1015.00" fill="none" stroke="#000028" stroke-opacity="0.75" stroke-width="0.9"/>
<path d="M1014.70 434.90V744.00" fill="none" stroke="#000028" stroke-opacity="0.7" stroke-width="0.9"/>
<path d="M633.00 743.70H1015.00" fill="none" stroke="#000028" stroke-opacity="0.65" stroke-width="0.9" stroke-dasharray="9 1.6"/>
<path d="M728.5 434.9v3.5M728.5 744.0v-3.5M633.0 666.7h3.5M1015.0 666.7h-3.5M824.0 434.9v3.5M824.0 744.0v-3.5M633.0 589.5h3.5M1015.0 589.5h-3.5M919.5 434.9v3.5M919.5 744.0v-3.5M633.0 512.2h3.5M1015.0 512.2h-3.5" fill="none" stroke="#000020" stroke-opacity="0.6" stroke-width="0.8"/>
<text transform="translate(575.84 754.87) scale(1.0200 1.0800)" font-size="32.00">-0.3</text>
<text transform="translate(600.26 777.00) scale(1.0200 1.0800)" font-size="32.00">-0.3</text>
<text transform="translate(559.52 677.60) scale(1.0200 1.0800)" font-size="32.00">-0.15</text>
<text transform="translate(688.50 777.00) scale(1.0200 1.0800)" font-size="32.00">-0.15</text>
<text transform="translate(612.46 600.46) scale(1.0200 1.0800)" font-size="32.00">0</text>
<text transform="translate(815.24 777.00) scale(1.0200 1.0800)" font-size="32.00">0</text>
<text transform="translate(570.36 523.05) scale(1.0200 1.0800)" font-size="32.00">0.15</text>
<text transform="translate(890.34 777.00) scale(1.0200 1.0800)" font-size="32.00">0.15</text>
<text transform="translate(586.68 445.77) scale(1.0200 1.0800)" font-size="32.00">0.3</text>
<text transform="translate(994.00 777.00) scale(1.0200 1.0800)" font-size="32.00">0.3</text>
<text transform="translate(797.39 808.80) scale(0.9945 1.0800)" font-size="32.00">x/m</text>
<text transform="translate(547.50 617.80) rotate(-90) scale(1.0800 1)" font-size="32.00">y/m</text>
<text x="538.48" y="438.00" font-size="36.50" font-weight="bold">(e)</text>
</g>
<g id="pf">
<rect x="1151.60" y="448.90" width="313.20" height="309.10" fill="#00009c"/>
<path fill="#0000c8" d="M1308,470.1 1308.3,469.7 1308.8,470.1 1309.3,471.4 1310.6,478.1 1313.4,509.1 1314,554.6 1314,653.1 1313.4,697.1 1310.6,728.6 1309.3,736.3 1308.3,737.7 1307.3,735.1 1305.5,722.1 1303.8,701.1 1303.8,690.6 1303.3,686.6 1303.2,656.1 1302.8,651.6 1302.8,555.1 1303.2,550.6 1303.3,520.1 1304.7,493.1 1306.7,476.1ZM1264.6,480.6 1265.8,480.5 1266.8,481.6 1273.2,495.1 1279.8,517.1 1283.3,532.1 1288.1,548.6 1290.6,564.1 1291.7,583.6 1291.7,625.1 1290.6,643.6 1289.1,653.6 1287,663.1 1284.3,671.9 1280.2,688.6 1273.5,711.1 1268.3,723.2 1266.6,726.1 1265.3,726.9 1264.2,726.1 1263.2,722.6 1263,703.6 1264.3,688.6 1268.8,670.4 1271.3,654.6 1270.8,648.1 1268.8,640 1265.1,645.6 1260.1,659.1 1256.6,667.1 1251.5,677.1 1243,691.6 1233.2,705.1 1225.6,713.1 1221.3,716.2 1215.3,718.2 1213.3,718.2 1212,717.6 1210.6,715.6 1210.3,713.6 1210.9,710.6 1220,685.1 1224.3,671.1 1226.9,656.1 1227.2,652.1 1226.8,651.1 1225.8,650.5 1223.8,650.4 1219.8,651.6 1212.2,654.6 1189.3,666.2 1181.3,668.8 1174.3,670.3 1164.8,670.3 1160.3,669.4 1155.3,666.2 1152.3,659.9 1151.6,659.5 1151.6,644.7 1151.8,644.7 1152.3,644.1 1155.2,627.1 1159,609.6 1159.6,603.6 1159,597.6 1155.2,580.1 1152.3,563.7 1151.8,563.1 1151.6,563.1 1151.6,547.8 1152.3,547.4 1154.9,542.1 1158.8,538.6 1160.8,537.7 1164.3,537 1171.3,537 1179.3,538 1187.3,540.4 1198.3,545.4 1207.7,550.6 1216.3,554.6 1223.3,556.8 1225.8,556.8 1226.8,556.3 1227.2,555.1 1226.9,551.1 1224.3,536.1 1218.8,518.9 1210.9,496.6 1210.3,493.9 1210.4,492.1 1211.3,490.6 1212.8,489.6 1214.8,489.3 1220.8,490.9 1225.6,494.1 1230.1,498.6 1244,517.1 1257.1,541.1 1265,561.6 1268.3,567.5 1268.8,567.3 1270.3,562.6 1271.3,553.1 1269.3,539.5 1264.5,519.6 1263.8,515.1 1263,503.1 1263.2,485.6 1263.8,482.1ZM1350.8,480.6 1351.8,480.4 1352.3,480.8 1353.4,484.6 1353.7,503.1 1352.4,518.1 1349.5,532.6 1347.3,539.5 1346.3,547.1 1345.9,558.6 1347.3,565.8 1348.3,567.5 1351.4,562.6 1354.6,553.6 1362.1,536.1 1368.8,524.1 1374.2,515.6 1383.5,502.6 1391.3,494.4 1396.3,490.9 1401.8,489.2 1403.3,489.3 1405.3,490.3 1406.1,491.6 1406.4,493.6 1404.1,502.6 1393.8,531.6 1390.3,547.3 1389.7,554.6 1390.3,556.6 1393.8,556.8 1400.9,554.6 1407.4,551.6 1416.8,546.3 1428.8,540.8 1433.8,539 1438.3,537.9 1446.8,536.9 1452.3,537 1456.3,537.7 1460.9,540.6 1463.8,545.5 1464.8,545.9 1464.8,570.1 1464.3,570.1 1463.9,570.6 1463.3,572.6 1458.2,595.1 1457.1,603.6 1458.2,612.1 1463.8,637 1464.3,637.7 1464.8,637.7 1464.8,661.4 1463.8,661.9 1461.3,666.5 1456.8,669.4 1452.3,670.3 1442.8,670.3 1433.8,668.3 1426.3,665.7 1404.9,654.6 1397.3,651.6 1393.3,650.4 1391.3,650.5 1390.3,651 1389.7,653.1 1390.3,660 1393.8,675.7 1396.3,683.6 1404.1,704.6 1406.4,713.6 1406.3,715.1 1405.3,717.2 1403.8,718.2 1401.8,718.2 1397.3,716.9 1391.8,713.3 1385,706.6 1378,697.6 1364.7,676.1 1361.6,670.1 1354.6,653.6 1351.4,644.6 1348.3,640.2 1347.8,640.1 1345.9,648.6 1346.3,660.1 1347.3,668.3 1349.6,675.6 1352.4,689.1 1353.7,704.1 1353.5,722.1 1352.5,726.1 1351.3,727 1350.2,726.1 1347.1,720.1 1342.2,707.6 1330.1,664.1 1327.7,653.1 1326.2,642.6 1325,616.6 1325,590.1 1325.5,586.6 1325.5,575.6 1326.2,565.1 1327.7,554.1 1331.1,539.6 1342.2,499.6 1347.1,487.1Z"/>
<path fill="#0000f1" d="M1308.1,490.1 1308.3,489.8 1308.8,490.5 1310.2,494.1 1311.8,501.6 1312.4,509.6 1313.1,554.6 1313.1,653.1 1312.5,696.6 1311.7,706.1 1310.2,713.1 1308.3,717.5 1306.5,713.1 1304.7,700.6 1303.7,651.6 1303.7,555.6 1304.2,520.6 1305.4,499.6 1306.6,493.6ZM1217.5,496.6 1218.3,496.3 1219.8,496.8 1226.3,501.2 1232.3,506.9 1242.6,518.6 1253.2,536.6 1258.6,548.1 1263.6,561.1 1268.8,570.1 1271.2,563.1 1272.3,553.6 1271.4,544.1 1266.7,520.1 1266,514.6 1266.6,501.6 1267.4,497.6 1268.3,496.5 1271.2,501.1 1278.7,517.1 1287.7,550.1 1289.8,564.1 1290.9,583.1 1290.9,624.6 1289.8,643.6 1288.2,654.1 1286.2,663.1 1279,689.1 1271.2,706.1 1268.3,710.8 1267.4,709.6 1266.6,705.6 1266,692.6 1267.5,682.6 1270.1,670.6 1272.3,654.1 1270.8,642.9 1268.8,637.5 1266.3,642.4 1263.6,646.1 1255.5,666.1 1250.3,676.1 1242.6,688.6 1236.3,696.5 1230.3,702.8 1222.8,708.8 1218.3,711.1 1217.3,710.8 1217.2,710.1 1219.5,695.6 1222.6,681.6 1225.3,671.7 1228,656.1 1228.5,651.6 1227.3,649.5 1224.8,648.9 1220.8,649.6 1211.9,653.1 1193.8,661.5 1187.3,663.8 1179.8,665.3 1172.3,665.9 1163.3,664.3 1159.9,662.1 1158,658.1 1157,653.1 1157.6,642.1 1159.5,628.1 1163.4,608.6 1163.7,603.6 1163.4,598.6 1159.5,579.1 1157.6,565.1 1157,554.1 1158.5,547.6 1161.2,544.1 1165.3,542.4 1169.8,541.8 1180.3,542.1 1186.3,543.3 1196.3,546.8 1217.3,556.6 1223.3,558.3 1225.8,558.4 1227.3,558 1228.2,556.6 1228.5,555.1 1227.4,547.1 1225.3,535.6 1222.5,525.6 1219.6,512.1ZM1397.9,496.6 1399.4,496.6 1399.6,499.6 1396.2,518.1 1391.8,534.7 1389.3,546.6 1388.5,555.1 1388.6,556.6 1389.3,557.9 1390.8,558.4 1393.8,558.3 1399.8,556.6 1421.8,546.4 1430.8,543.3 1438.8,541.9 1448.3,541.9 1454.3,543.3 1457.1,545.6 1459.3,550.6 1460.4,552.1 1462.6,553.6 1464.8,554.1 1464.8,561 1463.5,561.1 1461.8,561.9 1460.3,563.5 1459.6,565.1 1458.2,575.1 1453.3,598.8 1453,603.6 1453.3,608.5 1458.2,632.1 1459.6,642.6 1460.3,644.4 1461.8,645.9 1463.4,646.6 1464.8,646.8 1464.8,653.2 1462.6,653.6 1460.4,655.1 1459.3,656.6 1457.4,661.6 1454.8,663.8 1451.3,665 1443.8,665.9 1435.3,665.1 1427.8,663.3 1417.8,659.3 1405.3,653.1 1396.3,649.7 1391.8,648.9 1389.6,649.6 1388.8,650.6 1388.5,652.1 1389.3,660.6 1391.8,672.6 1396.2,689.1 1398.7,702.1 1399.8,709.6 1399.6,710.6 1398.8,711 1393.8,708.5 1384.8,701.3 1376.2,691.1 1368.6,679.6 1363,669.6 1355.7,653.1 1352.8,645.1 1349.5,640.6 1347.8,637.5 1346.4,641.1 1344.9,648.1 1344.9,654.6 1346.2,668.6 1348.2,676.1 1350.7,692.6 1350.1,705.6 1349.3,709.3 1348.8,710.2 1348.3,710.2 1345,705.1 1340.3,695.1 1337.6,688.1 1330.5,662.6 1328.6,653.6 1327,642.6 1325.8,617.1 1325.8,590.1 1327,565.1 1329.5,549.6 1338.1,517.6 1345.2,501.6 1348.3,497.1 1348.8,497.1 1349.3,498 1350.1,501.6 1350.7,514.6 1348.1,532.1 1346.2,539.1 1344.9,553.1 1344.9,559.1 1346.3,566.2 1347.8,569.8 1352.8,562.1 1356,553.6 1363.6,536.6 1374.5,518.6 1379.3,512.4 1386.3,505 1393.8,499Z"/>
<path fill="#002cff" d="M1308.2,495.1 1309.3,496.2 1311.1,501.1 1312,510.1 1312.7,555.1 1312.7,652.6 1312,696.6 1311.2,705.6 1309.8,709.9 1308.3,712.2 1307.3,711.1 1306.1,707.6 1305.3,700.6 1304.2,651.1 1304.2,555.6 1304.7,520.6 1305.8,501.1 1306.8,497.4ZM1223.8,505.1 1226.3,506.5 1233.3,511.6 1237.8,515.7 1241.8,520.1 1252.1,536.6 1258,548.6 1263.1,561.6 1268.8,571.5 1271.7,563.6 1272.9,554.1 1272.1,544.6 1267.9,518.1 1267.8,513.6 1268.5,509.1 1269.3,506.7 1269.8,506.4 1270.8,507 1276.3,514.2 1278.1,517.1 1287.2,550.1 1289.5,564.6 1290.6,583.1 1290.6,624.6 1289.5,643.1 1287.9,653.6 1285.9,662.6 1278.4,689.1 1276.3,693.1 1270.8,700.3 1269.8,700.9 1269.1,700.1 1268.4,697.6 1267.8,693.1 1267.9,689.6 1272.1,662.6 1272.9,653.1 1271.3,642.6 1268.8,635.9 1265.8,641.8 1263.1,645.6 1258.2,658.1 1253.3,668.3 1249.3,675.6 1241.5,687.6 1238.5,691.1 1232.8,696.6 1227.3,700.6 1223.8,702.5 1223.1,702.1 1222.7,700.1 1222.9,687.6 1223.5,682.1 1226.6,669.1 1229.3,652.6 1229,650.1 1227.8,648.3 1225.8,647.8 1221.8,648.3 1196.3,658.7 1187.8,661.1 1183.8,661.7 1172.8,661.7 1165.8,659.9 1163.5,658.1 1162.1,654.1 1161.8,647.1 1162.2,636.6 1163.3,628.1 1167,607.6 1167.3,603.6 1167,599.6 1163.2,578.6 1162.1,569.6 1161.8,554.6 1163,550.1 1164.8,547.9 1169.3,546.5 1177.8,545.4 1184.8,545.7 1196.3,548.6 1214.8,556.7 1221.8,559 1226.3,559.6 1227.8,559.1 1229,557.1 1229.3,554.6 1226.6,538.1 1223.6,525.6 1223,521.1 1222.7,509.6 1223,506.1ZM1391.8,505.6 1393.3,505.2 1393.9,506.1 1394.2,517.6 1393.2,525.6 1389.1,543.6 1387.9,551.1 1387.8,556.6 1388.8,558.9 1390.3,559.6 1395,559.1 1402.3,556.7 1415.8,550.5 1421.3,548.4 1431.3,545.9 1436.8,545.4 1446.8,546.4 1451.8,547.8 1453.3,549.1 1455,553.1 1457.6,557.1 1455.4,563.1 1454.3,575.1 1449.8,599.1 1449.4,603.6 1449.8,608.1 1454.4,632.6 1455.4,644.6 1457.5,650.1 1454.8,654.4 1453.4,658.1 1452.3,659.3 1444.8,661.6 1436.8,662 1428.8,661.1 1421.3,658.9 1395.3,648.3 1391.3,647.8 1389.3,648.3 1387.8,650.7 1387.9,655.6 1389.1,663.6 1392.7,679.1 1394.2,689.1 1394.2,700.6 1393.9,702.1 1393.3,702.5 1387.3,699.3 1382.8,695.7 1377.8,690.5 1373.3,684.5 1367.5,675.6 1363.8,669.1 1356.5,653.1 1353.3,644.6 1350.1,640.1 1348.3,636.2 1347.8,636.1 1345.9,640.6 1344.3,649.1 1345.1,665.6 1345.7,670.6 1347.2,676.6 1348.9,690.1 1348.2,698.1 1347.6,700.1 1346.8,700.9 1345.3,699.7 1341.3,694.5 1338.1,688.1 1331,662.6 1328.9,653.1 1327.4,642.6 1326.1,617.1 1326.1,590.1 1327.4,565.1 1329.8,550.1 1338.8,517.2 1341.3,512.8 1345.3,507.6 1346.3,506.5 1347.3,506.7 1348.2,509.1 1348.9,513.6 1348.9,517.6 1347.1,531.6 1345.7,537.1 1345.1,542.1 1344.3,558.1 1345.9,566.6 1347.3,570.2 1348.3,571.5 1350.3,567.1 1353.3,562.6 1356.6,554.1 1363.9,538.1 1371.3,525.8 1376,519.1 1379.8,514.8 1386.3,509.2Z"/>
<path fill="#005fff" d="M1307.9,498.1 1308.3,498 1309.3,498.7 1310.5,501.1 1311.5,510.1 1312.3,555.1 1312.3,652.6 1311.6,696.1 1310.7,705.6 1309.8,707.8 1308.3,709.3 1307.3,708.6 1306.4,706.6 1305.7,700.1 1304.6,651.6 1304.6,555.6 1305.2,520.6 1306.2,501.6 1306.8,499.5ZM1389.1,511.6 1390.3,512.1 1391.3,514.8 1392.3,523.6 1391.6,529.6 1387.2,551.6 1387.1,557.6 1387.8,559.5 1388.8,560.5 1390.8,560.7 1395.3,560.1 1402.6,557.6 1418.3,551 1423.3,549.7 1430.3,548.8 1439.3,549.3 1447.3,551.7 1449.3,552.9 1451.3,556.6 1451.5,558.1 1451,561.1 1450.5,575.1 1445.8,603.6 1450.5,632.1 1451.4,650.1 1449.2,654.6 1445.8,656.3 1438.8,658.2 1429.8,658.7 1422.8,657.5 1416.8,655.8 1395.3,647.2 1391.3,646.7 1388.8,647.1 1387.1,650.1 1387.2,655.6 1391.6,677.6 1392.2,683.1 1391.6,692.1 1390.5,695.6 1389.3,696.2 1384.8,694.1 1379.8,690.2 1376.8,686.9 1370.8,678.6 1364.3,668.1 1357.3,653.1 1353.8,644.1 1350.7,639.6 1348.3,634.5 1347.2,636.1 1345.7,639.6 1343.8,648.6 1343.9,659.1 1344.4,665.6 1346.3,676.6 1347.3,687.6 1346.9,693.6 1346.3,694.8 1345.3,695.3 1340.8,692.1 1339.3,690 1338.4,687.6 1331.2,662.1 1329.3,653.1 1327.8,642.6 1326.4,617.1 1326.5,589.6 1327.8,565.1 1329.3,554.1 1331.2,545.6 1339.2,517.6 1340.8,515.2 1343.3,513.2 1345.3,512 1346.3,512.5 1347.2,515.1 1347.3,520.1 1346.2,531.6 1344.8,537.9 1343.9,547.1 1343.8,559.1 1345.6,567.6 1347.4,571.6 1348.3,572.8 1348.7,572.6 1350.9,567.6 1353.8,563.1 1357.3,554.2 1364.8,538.6 1372.3,526.6 1376.8,520.4 1379.8,517.3 1384.8,513.6ZM1226.7,512.1 1227.3,511.8 1228.3,512 1233.3,514.6 1237.8,518 1241.3,522.1 1251.3,537.1 1257.1,548.6 1262.8,562.6 1268.3,572.7 1269.1,572.1 1270.3,569.6 1271.9,564.6 1273.4,554.6 1272.7,544.1 1269.5,519.6 1269.6,515.1 1270.3,512.6 1271.3,512.1 1274.3,513.9 1276.3,515.6 1277.7,517.6 1286.9,550.1 1289.2,564.6 1290.3,583.1 1290.3,624.6 1289.2,643.1 1287.6,653.6 1285.6,662.6 1278.1,688.6 1275.8,692.2 1271.3,695.2 1270.3,694.7 1269.8,693.6 1269.5,688.6 1272.7,663.1 1273.4,652.6 1271.8,642.1 1270.5,638.1 1268.8,634.8 1268.3,634.6 1265.3,641.1 1262.8,644.7 1259.1,654.1 1254.3,664.6 1247.8,676 1240.3,686.6 1237.8,689.4 1232.3,693.8 1227.3,696.1 1226.5,695.6 1226.1,694.6 1224.8,688.7 1224.4,683.6 1230,652.6 1229.6,649.1 1228.3,647.1 1226.3,646.6 1221.8,647.2 1200.8,655.7 1194.3,657.5 1186.8,658.7 1179.3,658.3 1173.8,657.3 1168.3,655.1 1166.9,653.1 1166.2,647.1 1166.2,636.1 1170.9,603.6 1166.2,571.1 1166.2,560.6 1167,553.6 1168.8,551.9 1174.8,550 1181.8,548.9 1187.3,548.8 1194.3,549.8 1200.3,551.5 1214.6,557.6 1221.8,560.1 1226.8,560.8 1228.3,560.4 1229.6,558.1 1230,554.6 1224.4,524.1 1224.8,518.7Z"/>
<path fill="#009cff" d="M1307.8,499.6 1309.3,500 1310.2,501.6 1311.1,510.6 1312,555.1 1312,652.1 1311.4,686.6 1311.1,696.6 1310.3,705.1 1309.3,707.3 1308.3,707.8 1307.3,707.3 1306.8,706.1 1306.1,699.6 1305,651.6 1305.3,535.1 1306.1,507.6 1306.6,501.6ZM1272.1,515.6 1275.3,516 1276.8,517.2 1277.6,518.6 1286.4,549.6 1288.9,565.1 1290,583.1 1290,624.6 1288.8,643.1 1287.3,653.3 1285.3,662.6 1277.3,689.4 1276.3,690.7 1274.8,691.5 1272.8,691.8 1271.6,691.1 1271,688.6 1271.2,683.1 1273.4,663.1 1273.8,652.1 1271.7,640.1 1269.8,635.1 1268.3,633.4 1262.5,644.1 1258.4,654.1 1253.3,664.5 1247.2,675.1 1237.3,687.6 1232.8,690.8 1229.3,691.8 1228.3,691 1226.7,687.6 1225.5,682.1 1230.7,652.6 1230.5,648.6 1229.3,646 1227.3,645.5 1221.8,646.2 1201.3,654.2 1192.8,655.9 1186.8,656 1182,655.1 1173.3,651.8 1171.5,650.1 1170.3,642.6 1170.2,635.6 1170.8,628.6 1174.5,603.6 1170.3,574.1 1170.3,565.6 1171.1,558.6 1171.5,557.1 1172.5,556.1 1179.6,553.1 1186.8,551.4 1192.8,551.4 1200.8,553 1214.3,558.6 1221.8,561.1 1227.3,562 1229.2,561.6 1230.4,559.1 1230.7,554.6 1226.4,531.6 1225.5,525.1 1226,521.6 1226.8,519.4 1228.8,516.3 1230.3,516 1235.3,518.2 1238.8,521.1 1249.9,536.6 1256.5,549.1 1262.7,563.6 1268.3,573.9 1269.8,572.1 1271.7,567.1 1273.2,560.6 1273.8,555.1 1273.4,544.1 1271.1,524.1 1271.1,518.1 1271.3,516.6ZM1342.8,515.6 1344.3,515.6 1345.3,516.2 1345.9,520.1 1345.3,531.1 1344.2,537.1 1343.3,547.6 1343.4,559.6 1345.3,568.1 1347.3,572.7 1348.8,574.1 1351.5,568.1 1354.1,564.1 1361.8,546.4 1367,536.6 1373.3,527.3 1378.3,520.9 1381.8,518 1386.8,515.9 1388.3,516.4 1389.8,519 1391.2,525.1 1390.9,530.1 1387.4,546.1 1386.3,554.1 1386.4,558.1 1387.8,561.7 1389.8,562 1395.3,561.1 1403.3,558.4 1416.3,553 1423.8,551.4 1429.8,551.5 1436.3,552.8 1443.3,555.7 1445.3,557 1446,558.1 1446.8,568.1 1446.7,575.1 1442.2,603.6 1446.7,632.1 1446.7,640.1 1445.8,649.7 1443.7,651.6 1435.8,655 1430.8,656 1424.8,655.9 1415.8,654.2 1395.3,646.2 1389.8,645.5 1387.8,646 1386.3,650.1 1386.5,655.6 1391.1,680.1 1390.3,686.7 1389.2,690.1 1387.8,691.9 1384.8,691.3 1379.3,687.3 1375.6,683.1 1368.8,673.7 1363.4,664.1 1357.8,652.6 1354.1,643.1 1351,638.6 1348.8,633.3 1347.3,634.6 1345.7,638.1 1343.4,648.1 1343.3,659.6 1344.1,670.1 1345.3,676.6 1345.9,686.6 1345.3,691.1 1344.3,691.7 1341.8,691.4 1340.3,690.5 1339.3,689 1331.8,663.1 1328.9,648.6 1327.2,632.1 1326.7,614.6 1326.7,590.1 1327.2,575.6 1328.9,558.6 1331.5,545.6 1339,519.1 1340.3,516.8Z"/>
<path fill="#00c8ff" d="M1307.8,500.6 1308.8,500.6 1309.7,501.6 1310.7,510.6 1311.6,555.1 1311.6,652.1 1311.1,686.1 1310.2,702.6 1309.7,705.6 1308.3,706.9 1307.1,705.6 1306.5,699.6 1305.4,651.6 1305.6,535.6 1306.5,507.6 1307,502.1ZM1274.6,517.1 1275.8,517.2 1277.1,518.6 1283.4,539.1 1286.9,553.6 1289,569.6 1289.7,583.1 1289.7,625.1 1288.5,643.1 1286.9,653.6 1284.8,663 1277.1,688.6 1276.3,689.8 1275.3,690.2 1274.3,690 1273.2,688.6 1272.7,687.1 1272.4,682.6 1274,663.6 1274.3,651.6 1273.2,644.1 1271.7,638.1 1269.8,633.9 1267.8,632.1 1262.3,643 1256.8,655.8 1248.3,671.4 1245.8,675.2 1237.8,685 1233.8,688 1230.8,688.8 1229.3,687.9 1227.8,685.8 1226.8,683.7 1226.5,681.6 1227,676.1 1231.4,652.6 1231.3,647.9 1230.8,645.6 1230,644.6 1227.8,644.2 1222.3,645 1202.8,652.4 1193.8,654.1 1188.4,653.6 1184.3,652.4 1178,648.6 1175.3,645.9 1174.1,638.1 1174.2,632.1 1178.1,603.6 1174.4,577.6 1174.1,570.1 1175.1,562.1 1175.7,560.6 1177.8,558.8 1184.3,555.3 1188.8,553.7 1193.8,553.2 1200.8,554.3 1221.8,562.1 1227.8,563.3 1229.8,563 1230.8,561.6 1231.3,559.6 1231.4,554.6 1227,531.6 1226.5,525.6 1227.8,521.5 1229.8,519.4 1231.8,518.9 1234.8,520 1238.1,522.6 1249.3,537.5 1255.8,549.6 1267.7,575.1 1268.3,575.1 1270,573.1 1271.7,569.1 1273.3,563.1 1274.3,555.6 1274,543.6 1272.4,524.1 1272.8,519.6ZM1341.3,517.1 1342.3,517.2 1343.6,518.1 1344.5,521.1 1344.3,531.1 1342.7,547.6 1342.9,560.1 1344.7,568.1 1346.8,573.1 1348.3,575.1 1349.3,575.2 1349.7,574.6 1351.3,570.1 1354.3,565 1362.3,547.1 1367.8,537.3 1374.2,528.1 1378.7,522.6 1381.8,520.1 1385.3,518.9 1387.3,519.6 1389.3,522.1 1390.1,525.1 1390.3,528.6 1385.5,554.1 1385.7,559.1 1386.8,562.8 1388.8,563.3 1394.8,562.3 1416.3,554.3 1423.3,553.2 1428.8,553.9 1434.6,556.1 1439.9,559.6 1441.9,562.6 1442.8,570.1 1442.6,578.6 1438.6,603.6 1442.7,629.1 1442.7,637.6 1441.7,645.1 1438.8,648.6 1433.3,652.2 1427.3,653.8 1423.3,654.1 1414.3,652.4 1394.8,645 1389.3,644.3 1387.2,644.6 1386.4,645.6 1385.8,648.1 1385.5,653.1 1390.3,679.1 1389.3,684.8 1387.8,687.6 1386.3,688.8 1383.3,688.1 1379.2,685.1 1373.3,678.1 1369.4,672.6 1365.3,666.1 1361.2,658.1 1357.4,650.1 1354.3,642.3 1351.1,637.1 1349.3,632.3 1347.8,632.7 1345.6,636.6 1342.9,647.6 1342.7,659.6 1344.4,677.1 1344.5,686.1 1343.8,688.6 1343.1,689.6 1341.8,690.2 1340.8,690 1339.7,688.6 1332.3,663.6 1329.2,648.6 1327.5,632.1 1327,614.6 1327,590.1 1327.5,575.6 1329.2,558.6 1330.8,550.1 1339.3,519.6 1340.3,517.7Z"/>
<path fill="#00f1ff" d="M1307.7,501.6 1308.3,501.2 1309.3,502.1 1310.3,510.9 1310.9,551.1 1311.3,555.1 1311.3,652.1 1310.9,656.1 1310.8,686.1 1309.8,702.1 1309.3,705.1 1308.3,706.1 1307.5,705.1 1306.8,699.1 1305.9,671.6 1305.8,651.6 1305.9,535.6 1306.8,508.1ZM1275.2,518.6 1275.8,518.4 1276.3,518.8 1278.3,523.8 1282.8,538.8 1286.3,553.1 1288.7,569.6 1289.5,583.1 1289.5,625.1 1288.1,642.6 1286.6,653.1 1284.3,663.2 1276.8,687.8 1275.8,689 1274.8,688.2 1273.7,682.1 1275,655.1 1274.4,647.6 1272.6,639.1 1270.8,634.1 1268.8,631.2 1267.3,630.9 1256.3,655 1247.8,670.3 1244.8,674.6 1237.3,683.3 1233.8,685.9 1231.3,686.5 1228.3,683.9 1227.5,681.1 1227.8,675.7 1232.1,653.1 1232.2,646.6 1231.1,643.6 1229.8,643.1 1227.8,643 1222.3,643.9 1204.6,650.6 1199.8,652 1194.3,652.3 1189.3,651.4 1185.8,649.6 1181.8,646.1 1179.2,642.1 1178.1,636.6 1178.3,628.6 1181.8,603.6 1178.3,578.6 1178.1,570.6 1178.8,566.2 1181.4,561.6 1185.7,558.1 1189.8,555.8 1194.3,555 1199.3,555.3 1202.8,556.1 1222.3,563.4 1228.3,564.7 1230.8,564.1 1232.2,561.1 1232.1,554.1 1227.8,532 1227.5,526.6 1227.9,524.6 1228.8,522.9 1230.8,521.5 1232.8,521.2 1235,522.1 1237.8,524.6 1248.3,537.9 1255.3,550.6 1267.3,576.6 1268.3,576.5 1270.3,574.1 1272.2,569.6 1274.4,560.1 1275,552.1 1273.7,525.1 1274.3,520.6ZM1340.4,518.6 1341.3,518.2 1342,518.6 1343,522.1 1343.3,531.1 1341.9,547.6 1342.3,560.1 1344.5,569.6 1346.5,574.1 1348.3,576.5 1349.3,576.6 1350.2,575.6 1351.8,570.8 1354.8,565.6 1359.3,555.2 1363.3,547.1 1368.3,538.5 1378.3,525.1 1381.8,522.1 1384.3,521.2 1386.3,521.6 1388.1,523.1 1389.1,525.6 1389.5,529.1 1384.6,554.1 1385,561.6 1385.8,563.9 1388.3,564.7 1394.8,563.4 1404.8,560 1412.7,556.6 1417.3,555.4 1422.8,555 1427.3,555.9 1432.1,558.6 1435.6,562.1 1438,566.6 1438.7,570.6 1438.9,578.6 1434.9,603.6 1438.9,628.6 1438.6,637.1 1437.5,642.1 1434.6,646.6 1431.4,649.6 1426.7,651.6 1422.8,652.3 1417.3,652 1412.5,650.6 1394.8,643.9 1388.8,643 1385.8,643.7 1385,646.1 1384.6,653.1 1389.5,678.6 1388.3,683.7 1387,685.6 1385.8,686.4 1383.3,686 1379.8,683.6 1370.3,672 1365.3,664.2 1361.8,657.6 1354.8,641.6 1351.9,637.1 1350.3,632.1 1348.8,630.9 1347.3,631.8 1345.1,636.1 1342.3,647.6 1341.9,659.6 1343.3,676.6 1342.8,686.6 1341.8,688.8 1341.3,689.1 1340.3,688.6 1335.3,673.2 1331.3,657.7 1328.3,638.6 1327.2,617.1 1327.2,590.1 1328.3,569.1 1330.3,554.5 1336.3,530.8Z"/>
<path fill="#2cffe4" d="M1308.3,502.6 1309.2,505.1 1309.8,510.9 1310.3,521 1310.4,551.1 1310.9,556.6 1310.9,652.1 1310.4,656.1 1310.4,686.1 1309.8,696.4 1309.2,702.1 1308.3,704.7 1307.3,699.1 1307.3,689.6 1306.8,686.1 1306.3,650.6 1306.3,536.1 1307.3,508.1ZM1232.1,526.6 1233.3,526.8 1234.8,527.7 1242.8,535.4 1246.8,540.1 1254.3,552 1267.3,578.1 1269.5,577.6 1271.7,574.6 1273.7,570.1 1275.6,563.6 1277,555.6 1277.8,537.6 1278.3,536.4 1278.8,536.8 1280.8,541.5 1284.3,554 1285.6,562.1 1288,567.1 1289.2,584.1 1289.2,624.6 1288.4,638.1 1287.8,641 1285.8,644.6 1284.5,652.6 1281.8,663.1 1278.8,670.6 1278.3,671 1277.8,669.6 1277,651.6 1275,641.6 1273.7,637.1 1271.7,632.6 1269.8,630 1268.8,629.3 1267.8,629.3 1266.8,629.8 1264.4,636.1 1255.3,653.9 1248.3,665.1 1242,673.1 1234.8,679.7 1232.3,680.9 1231.3,680.1 1231,677.1 1234.2,649.6 1233.9,644.6 1232.7,642.1 1230.8,641.2 1226.3,641.3 1217.3,643.4 1211.8,645.6 1203.8,648 1198.8,648.9 1195.3,648.6 1191.8,647.6 1189.8,646.3 1186.7,642.6 1184.3,635.6 1184,630.1 1184.8,619.6 1186.8,605.1 1186.8,601.6 1184.8,587.6 1184,577.1 1184.3,571.6 1186.2,565.6 1188.3,562.7 1191.8,559.8 1195.3,558.6 1198.3,558.4 1204.8,559.5 1215.8,563.5 1226.8,566.4 1230.3,566.6 1232.3,565.7 1233.8,563.1 1234.2,558.1 1230.9,530.6 1231.2,527.6ZM1383.6,526.6 1384.3,526.5 1385.2,527.1 1386,530.1 1385.3,538.1 1382.9,553.6 1383.3,563.1 1384,565.1 1386.3,566.5 1389.3,566.5 1396.3,564.9 1413.3,559.3 1418.3,558.4 1421.8,558.6 1425.8,560.3 1428.1,562.1 1430,564.6 1432.3,571.1 1433.2,577.1 1431.5,593.1 1429.9,601.1 1429.8,603.6 1429.9,606.1 1431.5,614.1 1433.2,630.6 1432.3,636.1 1430,642.6 1427.9,645.6 1426.3,646.9 1422.3,648.5 1418.8,648.9 1410,647.1 1393.8,641.8 1387.3,641.1 1384.3,642 1383.3,644.1 1382.9,653.6 1385.3,669.1 1386,677.6 1385.3,680.1 1384.3,680.8 1381.8,679.7 1377.3,675.4 1372.8,670.5 1366.8,662.8 1359.8,650.6 1355.4,641.1 1352.8,637.3 1350.6,630.6 1348.8,629.2 1347.1,629.6 1345,632.6 1343,637.1 1341.7,641.6 1340.4,647.1 1339.3,659.1 1339.3,665.5 1338.3,670.5 1335,662.1 1333.3,656.1 1331.3,645.1 1328.7,639.1 1327.5,616.6 1327.5,590.1 1328.6,569.1 1329.8,565 1331.3,562.6 1333.4,550.6 1337.8,537.6 1338.4,537.1 1339,539.1 1339.4,550.1 1340.1,553.6 1340.4,560.6 1342.1,567.6 1343.6,571.6 1346.2,576.6 1347.8,578.1 1349.3,578.2 1350.3,577.4 1353,570.1 1365.3,547.2 1369.8,540.7 1374.3,535.4 1381.3,528.1Z"/>
<path fill="#5fffb9" d="M1308.3,508.6 1309.2,511.1 1309.3,518.1 1309.9,521.1 1309.9,551.1 1310.4,556.1 1310.4,652.1 1309.9,656.1 1309.9,686.1 1309.3,689.1 1309.2,696.1 1308.3,699.1 1307.9,689.1 1307.3,686.1 1307.3,674.6 1306.8,671.6 1306.8,651.6 1306.8,536.1ZM1240.5,546.1 1241.8,546.1 1247.3,549.5 1252.3,554 1261.3,567.1 1265,574.6 1266.3,578.9 1268.3,580.3 1272.3,580.9 1278.8,579.5 1280.3,583.9 1283.9,570.6 1285.5,567.1 1286.8,566.6 1287.6,567.6 1288.1,569.6 1288.9,583.6 1288.9,624.6 1288.1,637.6 1287.3,640.5 1286.3,640.8 1284.9,639.6 1280.3,623.5 1278.8,627.8 1272.3,626.4 1268.3,627.1 1266.3,628.7 1264.3,634.6 1261.8,639.5 1252.7,653.1 1247.3,658.2 1241.3,661.8 1240.3,661.4 1239.8,660 1236.6,643.1 1235.7,641.1 1234.3,639.6 1232.4,638.6 1229.8,638.3 1209.3,640.7 1201.3,640.5 1196.8,639.7 1194.5,637.6 1192.7,633.6 1192,630.1 1191.4,620.6 1192.3,604.1 1191.6,594.6 1191.5,583.1 1192.6,574.6 1194.5,569.6 1197.3,567.4 1201.8,566.8 1215.3,567.4 1227.3,569.2 1231.3,569.2 1233.3,568.6 1235.1,567.1 1236.7,564.1 1239,551.1ZM1375.1,546.1 1376,546.1 1376.7,547.1 1380.5,564.6 1381.3,566.4 1382.8,568 1385.3,569.1 1388.3,569.3 1405.3,567 1413.8,566.7 1419.8,567.5 1421.8,569.1 1423.8,573.1 1424.9,577.1 1425.4,584.1 1425.3,592.6 1424.4,603.6 1425.3,614.6 1425.4,626.1 1424.8,631.1 1421.9,638.1 1419.3,640 1412.3,640.7 1406.8,640.7 1388.8,638.4 1385.8,638.4 1383.3,639.2 1381.8,640.3 1380.7,642.1 1376.8,660 1376.3,661.3 1375.3,661.7 1369.3,658.2 1364.3,653.4 1353.8,637.5 1350.8,629 1348.3,626.8 1344.3,626.1 1337.8,627.4 1337.2,626.1 1336.8,622.8 1335.3,631.6 1333.7,635.6 1331.1,639.6 1329.8,640.3 1329,638.6 1328.3,632.6 1327.8,616.6 1327.8,589.6 1328.3,575.6 1329.3,567.8 1329.8,567.2 1330.8,567.4 1333.7,571.6 1335.2,575.6 1336.8,584.5 1337.2,581.1 1337.8,579.9 1344.8,581.2 1348.8,580.3 1350.8,578.6 1352.9,572.1 1354.3,569.3 1364,554.6 1368.8,549.8Z"/>
<path fill="#9cff7e" d="M1308.3,520.6 1308.8,520.6 1309,521.6 1309.3,551.1 1309.8,557.1 1309.8,651.6 1309.3,655.6 1309,685.6 1308.8,686.7 1308.3,686.7 1308.1,674.6 1307.5,671.1 1307.4,650.6 1307.5,536.6 1308.1,532.6ZM1243.2,552.6 1244.3,552.4 1246.8,553 1250.3,554.9 1259.3,565.6 1264.2,574.6 1265.8,579.9 1275.6,589.6 1276.8,601.1 1276.2,615.1 1275.4,618.1 1269.8,623.1 1266.3,627 1263.4,634.6 1261.2,639.1 1251.8,651.2 1248.3,654 1244.3,655.2 1242.9,654.6 1242,653.1 1237.7,640.6 1236.3,638.8 1234.3,637.3 1229.8,636.4 1221.3,637.1 1210.8,637 1206.3,636.1 1199.3,633.6 1197.7,630.6 1196.6,625.6 1195.7,620.6 1195.4,612.1 1195.7,586.6 1197.5,577.6 1198.9,574.1 1200.3,573.2 1205.5,571.6 1213.8,570.3 1217.8,570.2 1228.3,571.1 1231.8,571 1233.8,570.5 1236,569.1 1238.1,566.1 1241.3,555.6ZM1371.3,552.6 1373.3,552.5 1374.3,553.5 1379.2,566.6 1380.8,568.9 1383.3,570.5 1385.3,571 1388.8,571.1 1403.8,570.2 1411.8,571.7 1417.3,573.7 1419.1,576.6 1420.3,581.6 1421.4,592.6 1420.9,603.1 1421.3,615.1 1420.9,623.1 1419.5,629.6 1417.9,633.1 1413.8,635.1 1406.8,636.9 1396.3,637.1 1387.3,636.4 1382.3,637.5 1380.7,638.6 1379.2,640.6 1375.3,651.9 1373.8,654.6 1372.3,655.2 1368.8,654.3 1365.8,652.1 1354.8,637.7 1350.8,627.1 1341.3,617.6 1340.2,609.1 1340.2,597.1 1341.3,589.6 1350.8,580.4 1355,569.6 1364.7,556.6 1367.8,554ZM1286.8,569.1 1287.3,569.1 1287.7,571.1 1288.6,587.1 1288.6,625.1 1287.6,637.1 1287.3,638.4 1286.8,638.6 1285.5,631.6 1283.7,614.1 1283.8,592.1 1285.5,575.6ZM1329.7,569.6 1331.1,572.1 1331.8,575.6 1333,593.6 1333,614.6 1332.4,618.1 1332.4,626.1 1331.2,634.6 1329.8,638.1 1329.3,637.2 1328.7,632.6 1328.1,616.1 1328.1,589.6 1328.7,575.1Z"/>
<path fill="#c8ff4e" d="M1246.1,555.6 1248.3,555.9 1250.5,557.1 1254.2,561.6 1257.8,564.9 1259.8,567.7 1263.8,575.6 1265.3,580.6 1272,593.1 1272.7,595.6 1273.2,601.6 1273.1,607.1 1272.2,613.6 1265.2,627.1 1263.8,631.6 1260.9,638.1 1257.8,642.4 1254.8,645.1 1250.3,650.5 1248.3,651.8 1246.8,652.1 1245,651.6 1243.8,650.6 1239.1,639.6 1237.6,637.6 1235.3,636 1230.3,634.8 1221.3,635.3 1213.3,634.6 1209,633.1 1202.8,629.6 1201,626.6 1199.3,620.1 1198.5,611.1 1198.5,596.1 1199,588.6 1200.8,581.6 1202.3,578.4 1208.8,574.4 1215.3,572.5 1218.3,572.1 1231.3,572.6 1235.2,571.6 1237.3,570.1 1239.3,567.6 1243.5,557.1 1244.4,556.1ZM1367.8,556.1 1370.8,555.7 1372.8,556.6 1378.1,568.1 1379.8,570.3 1382.8,572 1386.3,572.7 1398.3,572.2 1402.3,572.5 1408.3,574.4 1413.8,577.9 1415.3,579.9 1417.2,585.6 1418.2,596.6 1418.2,610.6 1417.7,619.1 1416.2,625.6 1414.4,629.1 1409.2,632.6 1404.3,634.5 1395.8,635.3 1386.8,634.8 1381.3,636.1 1379.3,637.6 1377.8,639.6 1373.3,650.1 1371.8,651.6 1369.8,652.1 1367.8,651.5 1366.1,650.1 1355.3,637.1 1354.2,634.6 1351.8,626.9 1344.5,613.1 1343.9,609.1 1343.9,597.6 1344.7,593.6 1351.8,580.6 1354.2,573.1 1355.9,569.6 1359.2,565.1 1361.8,562.6 1365.3,558.1ZM1329.7,574.1 1329.8,573.7 1330.7,576.1 1331.2,581.1 1331.9,593.6 1331.9,614.1 1331.4,617.6 1331.3,625.6 1330.7,631.1 1329.8,633.7 1329.3,631.6 1328.6,614.6 1328.6,589.6 1329.2,576.1ZM1286.8,576.1 1287.8,579.9 1288.1,593.1 1288,625.1 1286.8,631.4 1286,626.6 1284.8,613.6 1284.9,592.6Z"/>
<path fill="#f1ff18" d="M1246.3,558.1 1248.3,557.8 1249.9,558.6 1253.3,562.6 1257.5,565.6 1259.6,568.6 1263.5,577.1 1267.9,592.1 1269.6,601.1 1269.6,606.6 1268.9,611.1 1263.5,630.1 1261.8,634.6 1259.8,638.6 1257.8,641.3 1254.3,643.9 1249.4,649.1 1247.8,649.9 1246.8,649.6 1245.1,648.1 1240.2,638.1 1236.3,634.6 1231.3,633.2 1221.8,633.6 1215.4,632.6 1211.3,630.9 1206.7,627.1 1204.7,624.6 1202.5,618.6 1201.5,610.1 1201.5,596.6 1202.3,589.6 1204.6,583.1 1206.3,580.6 1210.8,576.9 1216.8,574.4 1219.3,574 1233.3,574.1 1237.3,572.4 1240.7,568.6 1244.8,559.6ZM1367.6,558.1 1369.3,557.8 1371.3,559 1377.8,570.6 1378.8,571.7 1381.8,573.4 1384.3,574.2 1399.3,574.1 1402.8,575.1 1407.5,577.6 1411.5,582.1 1413.6,586.6 1414.3,589.3 1415.2,597.6 1415.2,610.1 1414.3,618.1 1413.2,622.1 1411,626.1 1406.3,630.6 1402.3,632.5 1395.3,633.6 1385.8,633.2 1380.3,634.7 1378.3,636.2 1376.4,638.6 1371.7,648.1 1369.9,649.6 1368.8,649.9 1366.8,648.8 1361.9,643.1 1359.3,641.3 1355.6,636.1 1350.4,620.1 1347.6,608.1 1347.7,597.1 1350.4,587.1 1355.2,572.6 1359.3,566.1 1362.3,563.9 1365.4,560.1ZM1286.7,591.1 1287.1,593.6 1286.8,616.9 1286.2,615.6 1286,613.6 1286,593.6ZM1329.8,591.1 1330.3,591.6 1330.7,594.1 1330.7,614.1 1329.8,616.4Z"/>
<path fill="#ffe400" d="M1251.3,564.6 1255.3,565.2 1257.3,566.5 1259.1,569.1 1262.3,576.1 1265.4,589.6 1266.9,602.6 1266.4,610.1 1264.4,623.1 1261.4,633.6 1259.3,638.1 1257,641.1 1255.3,642.1 1251.3,643.1 1249.8,642.8 1248.3,641.8 1247.1,639.1 1245.9,630.1 1245.3,613.5 1244.9,638.1 1244.4,639.6 1243.8,639.9 1238.9,634.6 1235.8,632.9 1231.3,632.1 1221.8,632.6 1215.5,631.1 1212.1,629.1 1207.3,623.9 1204.8,618 1203.5,610.1 1203.4,606.1 1203.5,597.1 1204.7,589.6 1207.4,583.6 1211.1,579.1 1215.2,576.6 1218.8,575.3 1234.8,575 1239.3,572.7 1243.8,567.6 1244.5,568.1 1244.9,569.6 1245.3,593.8 1245.9,577.6 1247.1,568.6 1248.3,565.9 1249.8,564.9ZM1364.6,564.6 1366.8,564.8 1368.2,565.6 1370,569.1 1370.8,575.6 1371.3,595.1 1371.8,574.1 1372.4,568.1 1372.8,567.4 1373.3,567.4 1377.3,572.5 1382.3,575 1398.3,575.3 1401.4,576.1 1405.5,578.6 1409,583.1 1411.5,588.1 1413.2,598.6 1413.2,609.6 1411.5,619.6 1409.3,623.9 1406.1,628.1 1403.6,630.1 1401.3,631.2 1394.8,632.6 1385.8,632.1 1381.3,632.9 1377.8,634.7 1373.8,639.6 1372.8,639.9 1372.3,638.8 1371.8,633.1 1371.3,612.3 1370.8,631.6 1370.1,638.1 1368.3,642 1365.8,643.1 1363.8,642.8 1360.3,641.1 1356,635.1 1351.8,619.9 1350.3,608.1 1350.3,598.1 1351.8,587.6 1355.3,574.3 1357.2,570.1 1359.8,566.6 1361.8,565.4Z"/>
<path fill="#ffb900" d="M1252.3,566.1 1255.3,566.3 1257.3,567.7 1258.9,570.1 1261.3,576.3 1264.3,590.6 1265.6,603.6 1265.2,610.1 1263.4,622.6 1260.5,633.6 1258.8,637.6 1256.8,640.1 1255.3,641 1252.3,641.4 1250.8,641.1 1249.7,640.1 1248.4,635.1 1247.6,629.1 1246.3,605.1 1246.7,591.6 1248.3,572.6 1249.7,567.6 1250.8,566.6ZM1363.3,566.1 1366.4,566.6 1367.3,567.9 1368.2,570.1 1369.3,579.9 1370.5,600.6 1369.5,624.6 1368.2,637.1 1366.8,640.6 1364.8,641.4 1361.8,640.9 1360.3,640.1 1356.8,635 1352.9,619.1 1351.6,608.1 1351.6,599.1 1352.3,592.1 1355.3,577.3 1356.9,572.6 1358.8,568.9 1360.8,566.9ZM1220.1,576.1 1226.9,576.1 1234.8,577 1240.8,576.1 1241.8,577.1 1244.3,594.2 1244.6,608.6 1242.8,625.3 1241.8,630.4 1240.8,631.5 1235.3,630.7 1223.3,631.7 1217.3,630.5 1214.8,629.6 1212.3,627.7 1209.5,624.6 1207.7,621.6 1205.9,616.6 1204.8,609.1 1204.8,598.1 1206,590.6 1208.4,584.6 1211.3,580.6 1216.3,577.3ZM1375.4,576.1 1376.8,575.9 1382.3,576.9 1390.8,576.1 1398.3,576.4 1400.8,577.2 1404.7,579.6 1408.4,584.6 1410.7,590.1 1411.9,598.1 1411.9,608.6 1411.3,613.3 1410.2,619.1 1408.6,622.6 1404.8,627.6 1402,629.6 1394.3,631.7 1384.8,630.7 1379.8,630.9 1376.3,631.6 1375.3,631.1 1372.8,617.4 1372.1,601.6 1372.9,589.1 1374.8,577.6Z"/>
<path fill="#ff7e00" d="M1254,567.6 1255.8,567.8 1257.4,569.1 1260.6,577.6 1263,591.1 1264,602.6 1263,616.1 1260.6,629.6 1257.8,637.6 1256.3,639.2 1254.8,639.7 1251.8,638.6 1250.6,635.6 1247.9,615.1 1247.3,606.1 1247.9,592.1 1250.3,573.1 1251.5,569.1ZM1362.2,567.6 1364.8,568.5 1366,570.6 1367.9,582.6 1369.7,602.1 1369.6,607.1 1368,624.1 1366.1,636.6 1364.8,638.9 1362.3,639.7 1360.8,639.2 1359.7,638.1 1357.3,633.1 1354.2,618.6 1353.2,606.6 1353.7,592.6 1356.2,578.1 1358.7,570.6 1360.3,568.5ZM1219.5,577.6 1227.8,577.7 1238.3,580.9 1239.3,582.4 1241.2,587.6 1243.5,598.1 1243.3,610.8 1240.8,621.2 1238.9,626.1 1237.8,627 1224.8,630.4 1219.8,629.7 1216.8,628.8 1214.2,627.1 1211.7,624.6 1209.5,621.1 1208,616.6 1206.7,608.1 1206.6,600.1 1207.3,594.1 1209.6,586.1 1211.4,583.1 1213.3,581 1216.8,578.7ZM1389.5,577.6 1394.8,577.4 1397.8,577.8 1400.8,579 1403.8,581.3 1406.2,584.1 1408.1,588.1 1410,598.1 1410,609.6 1408.6,618.1 1407.5,621.1 1405.6,624.1 1401.8,627.8 1398.8,629.2 1393.8,630.4 1391.3,630.2 1384.3,628.5 1378.3,626.6 1377.1,624.1 1375.1,618.1 1373.2,607.1 1373.1,600.6 1374,594.1 1375.3,588.6 1377.8,581.5 1379.3,580.3Z"/>
<path fill="#ff4e00" d="M1255,569.1 1256.3,569.4 1257.3,570.6 1259.4,578.1 1261.7,591.6 1262.5,603.1 1261.7,615.6 1259.4,629.1 1257.4,636.6 1256.3,638 1255.3,638.2 1253.4,636.6 1252.3,633.7 1249.2,614.6 1248.3,605.6 1248.8,595.6 1251.6,577.6 1252.8,572 1253.9,570.1ZM1361.3,569.1 1362.3,569.3 1363.6,571.1 1365.2,577.1 1368.8,601.6 1368.7,607.1 1365.9,626.1 1363.7,636.1 1362.7,637.6 1361.8,638.2 1360.5,637.6 1359.2,635.6 1357.4,629.1 1355,614.6 1354.8,607.6 1355,593.1 1356.8,581.1 1359.1,572.1 1360.3,569.8ZM1219.6,579.1 1223.8,578.8 1227.3,579.2 1235.8,583.8 1239.2,589.1 1241.6,595.1 1242.4,598.6 1242.3,609.6 1240.7,614.6 1237.7,621.6 1235.8,623.9 1230.8,626.8 1224.8,628.9 1218.2,627.6 1215.6,626.1 1213.2,623.6 1211.1,620.1 1209.8,616.1 1208.5,607.1 1208.5,600.6 1209,596.1 1209.7,592.1 1211.2,587.1 1214.3,582.3 1217.3,580.1ZM1389.9,579.1 1393.3,578.8 1397.2,579.1 1400.3,580.6 1402.8,582.8 1404.9,585.1 1406.4,588.6 1408.2,598.1 1408.2,609.6 1406,620.1 1404.3,622.9 1400.8,626.4 1397.8,628 1393.3,629 1391.3,628.8 1385.8,626.8 1380.3,623.1 1377.8,618.8 1376,614.1 1374.2,606.1 1374.2,601.1 1375.3,595.1 1376.8,590.9 1379.3,586.2 1381.7,583.1 1386.3,580.5Z"/>
<path fill="#ff1800" d="M1255.3,571.6 1255.8,571.2 1256.8,572.5 1258.2,578.6 1259.8,587.6 1260.9,601.1 1260.8,609.1 1259.7,620.1 1257.1,634.1 1255.8,636.2 1254.9,635.1 1253.8,631.1 1250.5,614.1 1249.5,605.1 1249.5,601.1 1250.5,593.1 1253.8,575.9ZM1360.8,571.6 1361.3,571.6 1361.8,572.6 1364.7,583.6 1367.7,602.1 1367.6,606.6 1364.8,623.1 1361.3,635.9 1360.3,635.1 1358.5,628.6 1356.4,614.1 1356.3,609.1 1356.4,593.6 1358.5,578.6ZM1220.6,580.6 1224.3,580.4 1226.8,580.8 1233.1,585.1 1235.8,588 1238.8,592.7 1240.7,596.6 1241.4,599.6 1241.2,609.1 1239.8,612.7 1236.8,618.2 1234.8,620.9 1229.7,625.1 1224.3,627.3 1218.8,626 1216.2,624.1 1214.3,621.8 1212.8,619.1 1211.8,615.6 1210.4,606.1 1210.4,601.1 1211,596.6 1213.2,587.6 1216.2,583.1ZM1390.9,580.6 1394.8,580.4 1397.3,581.1 1399.9,582.6 1402.8,585.6 1404.6,589.6 1406.3,599.1 1406.3,609.1 1404.3,619.1 1402.8,621.7 1399.8,624.7 1397.3,626.2 1392.8,627.3 1386.8,624.9 1381.6,620.1 1377.3,613.1 1375.3,605.6 1375.3,601.6 1375.8,599 1376.9,595.1 1378.3,592.1 1384.2,584.6 1388.5,581.6Z"/>
<path fill="#e40000" d="M1360.8,581.6 1361.3,581.6 1362.4,584.6 1365.6,603.6 1362.4,622.6 1361.3,625.7 1360.8,625.8 1360.3,624.6 1358.6,611.6 1358.6,594.6ZM1255.8,582.1 1256.8,584.4 1257.5,588.1 1258.6,601.1 1258.6,608.1 1257.5,619.1 1256.8,622.9 1255.8,625.2 1254.8,622.9 1252.7,613.6 1251.6,603.6 1252.7,593.6 1254.8,584.4ZM1223.3,584.6 1225.3,584.5 1227.3,585 1233.8,589.3 1235.8,591.6 1238.8,596.6 1240.1,602.1 1240,606.1 1239.5,609.1 1235.2,616.6 1232.8,619.1 1229.3,621.5 1227.3,622.5 1224.8,622.9 1220.8,621.6 1217.4,618.1 1215.1,612.6 1213.6,605.1 1214.3,597.6 1216.8,590.3 1219.5,586.6ZM1390.7,584.6 1392.8,584.5 1394.8,585 1398.8,588.2 1401.4,593.1 1403.1,600.1 1403,608.1 1400.4,616.6 1399.2,618.6 1396.8,621 1394.8,622.3 1392.8,622.9 1388.3,622 1385.8,620.5 1383.3,618.3 1379.1,612.6 1377.6,608.6 1376.9,605.1 1377.4,599.6 1379.8,593.3 1385.8,587.1Z"/>
<path fill="#b90000" d="M1225.7,589.1 1227.8,589.2 1231.8,591.2 1233.3,592.5 1236.9,597.6 1238.2,602.6 1237.7,607.6 1235.3,612.2 1232.3,615.8 1229.8,617.6 1227.3,618.4 1224.3,617.5 1221.3,615.1 1218.4,609.6 1217.2,605.1 1217.7,599.6 1219.8,594.5 1222.3,591.1ZM1389.2,589.1 1390.8,589 1392.3,589.5 1395.4,592.1 1398.6,597.1 1399.5,601.6 1399.4,606.6 1398.8,609.6 1397.6,612.1 1393.8,616.7 1390.3,618.5 1387.3,617.6 1381.8,612.8 1379.6,608.1 1378.9,604.6 1379.3,600 1381.4,595.1 1384.8,591.5ZM1361.8,600.6 1362.3,601.3 1362.6,603.6 1362.3,606 1361.8,606.7ZM1255,601.1 1255.3,600.7 1255.6,602.1 1255.3,606.7 1254.6,604.6Z"/>
<path fill="#8d0000" d="M1225,597.1 1228.3,596.8 1230.8,597.4 1233,599.1 1234.3,601.6 1234.4,605.1 1233.3,607.6 1231.3,609.7 1228.8,610.8 1226.3,610.9 1223.8,609.7 1222.6,608.1 1221.8,606.1 1221.6,602.6 1222.2,600.1 1223.3,598.1ZM1387,597.1 1390.3,596.8 1392.3,597.3 1393.8,598.8 1395.3,601.6 1395.5,604.1 1395.1,606.1 1393.3,609.2 1391.3,610.7 1388.8,610.9 1385.8,610 1383.8,608.1 1382.5,605.6 1382.3,602.6 1383.1,600.1 1384.8,598Z"/>
<path d="M1151.90 758.00V449.20H1464.80" fill="none" stroke="#000028" stroke-opacity="0.75" stroke-width="0.9"/>
<path d="M1464.50 448.90V758.00" fill="none" stroke="#000028" stroke-opacity="0.7" stroke-width="0.9"/>
<path d="M1151.60 757.70H1464.80" fill="none" stroke="#000028" stroke-opacity="0.65" stroke-width="0.9" stroke-dasharray="9 1.6"/>
<path d="M1229.9 448.9v3.5M1229.9 758.0v-3.5M1151.6 680.7h3.5M1464.8 680.7h-3.5M1308.2 448.9v3.5M1308.2 758.0v-3.5M1151.6 603.5h3.5M1464.8 603.5h-3.5M1386.5 448.9v3.5M1386.5 758.0v-3.5M1151.6 526.2h3.5M1464.8 526.2h-3.5" fill="none" stroke="#000020" stroke-opacity="0.6" stroke-width="0.8"/>
<text transform="translate(1094.64 769.27) scale(1.0200 1.0850)" font-size="32.00">-0.3</text>
<text transform="translate(1118.86 790.60) scale(1.0200 1.0850)" font-size="32.00">-0.3</text>
<text transform="translate(1078.32 692.00) scale(1.0200 1.0850)" font-size="32.00">-0.15</text>
<text transform="translate(1189.90 790.60) scale(1.0200 1.0850)" font-size="32.00">-0.15</text>
<text transform="translate(1131.25 614.86) scale(1.0200 1.0850)" font-size="32.00">0</text>
<text transform="translate(1299.44 790.60) scale(1.0200 1.0850)" font-size="32.00">0</text>
<text transform="translate(1089.15 537.44) scale(1.0200 1.0850)" font-size="32.00">0.15</text>
<text transform="translate(1357.34 790.60) scale(1.0200 1.0850)" font-size="32.00">0.15</text>
<text transform="translate(1105.47 460.17) scale(1.0200 1.0850)" font-size="32.00">0.3</text>
<text transform="translate(1443.80 790.60) scale(1.0200 1.0850)" font-size="32.00">0.3</text>
<text transform="translate(1281.39 822.00) scale(0.9945 1.0850)" font-size="32.00">x/m</text>
<text transform="translate(1065.70 631.12) rotate(-90) scale(1.0850 1)" font-size="32.00">y/m</text>
<text x="1062.38" y="441.00" font-size="36.50" font-weight="bold">(f)</text>
</g>
<g id="cbar">
<defs><linearGradient id="jetg" x1="0" y1="0" x2="0" y2="1"><stop offset="0.0078" stop-color="#8d0000"/><stop offset="0.0234" stop-color="#9c0000"/><stop offset="0.0391" stop-color="#ab0000"/><stop offset="0.0547" stop-color="#b90000"/><stop offset="0.0703" stop-color="#c80000"/><stop offset="0.0859" stop-color="#d60000"/><stop offset="0.1016" stop-color="#e40000"/><stop offset="0.1172" stop-color="#f10000"/><stop offset="0.1328" stop-color="#ff0000"/><stop offset="0.1484" stop-color="#ff1800"/><stop offset="0.1641" stop-color="#ff2c00"/><stop offset="0.1797" stop-color="#ff3d00"/><stop offset="0.1953" stop-color="#ff4e00"/><stop offset="0.2109" stop-color="#ff5f00"/><stop offset="0.2266" stop-color="#ff6f00"/><stop offset="0.2422" stop-color="#ff7e00"/><stop offset="0.2578" stop-color="#ff8d00"/><stop offset="0.2734" stop-color="#ff9c00"/><stop offset="0.2891" stop-color="#ffab00"/><stop offset="0.3047" stop-color="#ffb900"/><stop offset="0.3203" stop-color="#ffc800"/><stop offset="0.3359" stop-color="#ffd600"/><stop offset="0.3516" stop-color="#ffe400"/><stop offset="0.3672" stop-color="#fff100"/><stop offset="0.3828" stop-color="#ffff00"/><stop offset="0.3984" stop-color="#f1ff18"/><stop offset="0.4141" stop-color="#e4ff2c"/><stop offset="0.4297" stop-color="#d6ff3d"/><stop offset="0.4453" stop-color="#c8ff4e"/><stop offset="0.4609" stop-color="#b9ff5f"/><stop offset="0.4766" stop-color="#abff6f"/><stop offset="0.4922" stop-color="#9cff7e"/><stop offset="0.5078" stop-color="#8dff8d"/><stop offset="0.5234" stop-color="#7eff9c"/><stop offset="0.5391" stop-color="#6fffab"/><stop offset="0.5547" stop-color="#5fffb9"/><stop offset="0.5703" stop-color="#4effc8"/><stop offset="0.5859" stop-color="#3dffd6"/><stop offset="0.6016" stop-color="#2cffe4"/><stop offset="0.6172" stop-color="#18fff1"/><stop offset="0.6328" stop-color="#00ffff"/><stop offset="0.6484" stop-color="#00f1ff"/><stop offset="0.6641" stop-color="#00e4ff"/><stop offset="0.6797" stop-color="#00d6ff"/><stop offset="0.6953" stop-color="#00c8ff"/><stop offset="0.7109" stop-color="#00b9ff"/><stop offset="0.7266" stop-color="#00abff"/><stop offset="0.7422" stop-color="#009cff"/><stop offset="0.7578" stop-color="#008dff"/><stop offset="0.7734" stop-color="#007eff"/><stop offset="0.7891" stop-color="#006fff"/><stop offset="0.8047" stop-color="#005fff"/><stop offset="0.8203" stop-color="#004eff"/><stop offset="0.8359" stop-color="#003dff"/><stop offset="0.8516" stop-color="#002cff"/><stop offset="0.8672" stop-color="#0018ff"/><stop offset="0.8828" stop-color="#0000ff"/><stop offset="0.8984" stop-color="#0000f1"/><stop offset="0.9141" stop-color="#0000e4"/><stop offset="0.9297" stop-color="#0000d6"/><stop offset="0.9453" stop-color="#0000c8"/><stop offset="0.9609" stop-color="#0000b9"/><stop offset="0.9766" stop-color="#0000ab"/><stop offset="0.9922" stop-color="#00009c"/></linearGradient></defs>
<rect x="1485.10" y="448.90" width="27.40" height="310.30" fill="url(#jetg)"/>
<rect x="1485.10" y="448.90" width="27.40" height="310.30" fill="none" stroke="#000" stroke-opacity="0.7" stroke-width="0.9"/>
<text x="1515.60" y="460.71" font-size="33.00">98</text>
<text x="1515.60" y="522.71" font-size="33.00">96</text>
<path d="M1485.10 510.96h3M1512.50 510.96h-3" stroke="#200" stroke-opacity="0.7" stroke-width="0.7" fill="none"/>
<text x="1515.60" y="584.77" font-size="33.00">94</text>
<path d="M1485.10 573.02h3M1512.50 573.02h-3" stroke="#200" stroke-opacity="0.7" stroke-width="0.7" fill="none"/>
<text x="1515.60" y="646.83" font-size="33.00">92</text>
<path d="M1485.10 635.08h3M1512.50 635.08h-3" stroke="#200" stroke-opacity="0.7" stroke-width="0.7" fill="none"/>
<text x="1515.60" y="708.95" font-size="33.00">90</text>
<path d="M1485.10 697.14h3M1512.50 697.14h-3" stroke="#200" stroke-opacity="0.7" stroke-width="0.7" fill="none"/>
<text x="1515.35" y="771.01" font-size="33.00">88</text>
</g>
</svg>
</body></html>
